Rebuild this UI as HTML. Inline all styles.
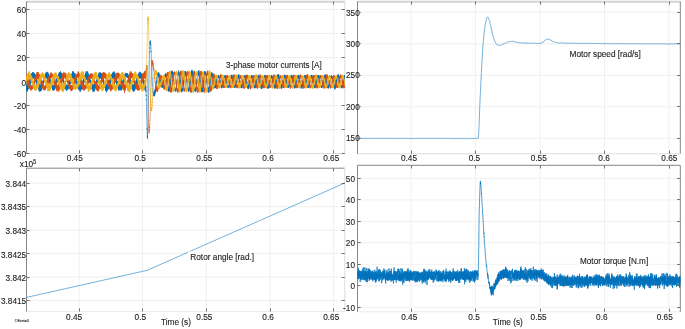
<!DOCTYPE html>
<html lang="en">
<head>
<meta charset="utf-8">
<title>Motor simulation scopes</title>
<style>
html,body{margin:0;padding:0;background:#ffffff;}
body{width:685px;height:329px;overflow:hidden;font-family:"Liberation Sans",Arial,Helvetica,sans-serif;}
svg{display:block;}
</style>
</head>
<body>
<svg width="685" height="329" viewBox="0 0 685 329">
<rect x="0" y="0" width="685" height="329" fill="#ffffff"/>
<defs>
<clipPath id="ctl"><rect x="26.5" y="1.5" width="318.3" height="152.0"/></clipPath>
<clipPath id="ctr"><rect x="357.5" y="1.5" width="322.8" height="152.3"/></clipPath>
<clipPath id="cbl"><rect x="26.5" y="168.2" width="318.3" height="143.3"/></clipPath>
<clipPath id="cbr"><rect x="357.5" y="165.3" width="322.8" height="146.5"/></clipPath>
</defs>
<g font-family="'Liberation Sans', Arial, Helvetica, sans-serif">
<line x1="79.0" y1="1.5" x2="79.0" y2="153.5" stroke="#eeeeee" stroke-width="0.90"/>
<line x1="142.6" y1="1.5" x2="142.6" y2="153.5" stroke="#eeeeee" stroke-width="0.90"/>
<line x1="206.3" y1="1.5" x2="206.3" y2="153.5" stroke="#eeeeee" stroke-width="0.90"/>
<line x1="269.9" y1="1.5" x2="269.9" y2="153.5" stroke="#eeeeee" stroke-width="0.90"/>
<line x1="333.6" y1="1.5" x2="333.6" y2="153.5" stroke="#eeeeee" stroke-width="0.90"/>
<line x1="26.5" y1="9.5" x2="344.8" y2="9.5" stroke="#eeeeee" stroke-width="0.90"/>
<line x1="26.5" y1="33.5" x2="344.8" y2="33.5" stroke="#eeeeee" stroke-width="0.90"/>
<line x1="26.5" y1="57.6" x2="344.8" y2="57.6" stroke="#eeeeee" stroke-width="0.90"/>
<line x1="26.5" y1="81.6" x2="344.8" y2="81.6" stroke="#eeeeee" stroke-width="0.90"/>
<line x1="26.5" y1="105.6" x2="344.8" y2="105.6" stroke="#eeeeee" stroke-width="0.90"/>
<line x1="26.5" y1="129.7" x2="344.8" y2="129.7" stroke="#eeeeee" stroke-width="0.90"/>
<line x1="26.5" y1="1.7" x2="344.8" y2="1.7" stroke="#d2d2d2" stroke-width="2.00"/>
<line x1="26.5" y1="153.5" x2="344.8" y2="153.5" stroke="#dcdcdc" stroke-width="1.00"/>
<line x1="344.8" y1="1.5" x2="344.8" y2="153.5" stroke="#dcdcdc" stroke-width="1.00"/>
<line x1="26.5" y1="1.5" x2="26.5" y2="153.5" stroke="#868686" stroke-width="1.00"/>
<line x1="79.5" y1="150.3" x2="79.5" y2="153.5" stroke="#747474" stroke-width="1.00"/>
<line x1="79.5" y1="1.5" x2="79.5" y2="4.7" stroke="#747474" stroke-width="1.00"/>
<line x1="142.5" y1="150.3" x2="142.5" y2="153.5" stroke="#747474" stroke-width="1.00"/>
<line x1="142.5" y1="1.5" x2="142.5" y2="4.7" stroke="#747474" stroke-width="1.00"/>
<line x1="206.5" y1="150.3" x2="206.5" y2="153.5" stroke="#747474" stroke-width="1.00"/>
<line x1="206.5" y1="1.5" x2="206.5" y2="4.7" stroke="#747474" stroke-width="1.00"/>
<line x1="270.5" y1="150.3" x2="270.5" y2="153.5" stroke="#747474" stroke-width="1.00"/>
<line x1="270.5" y1="1.5" x2="270.5" y2="4.7" stroke="#747474" stroke-width="1.00"/>
<line x1="333.5" y1="150.3" x2="333.5" y2="153.5" stroke="#747474" stroke-width="1.00"/>
<line x1="333.5" y1="1.5" x2="333.5" y2="4.7" stroke="#747474" stroke-width="1.00"/>
<line x1="26.5" y1="9.5" x2="29.7" y2="9.5" stroke="#747474" stroke-width="1.00"/>
<line x1="341.6" y1="9.5" x2="344.8" y2="9.5" stroke="#747474" stroke-width="1.00"/>
<line x1="26.5" y1="33.5" x2="29.7" y2="33.5" stroke="#747474" stroke-width="1.00"/>
<line x1="341.6" y1="33.5" x2="344.8" y2="33.5" stroke="#747474" stroke-width="1.00"/>
<line x1="26.5" y1="57.5" x2="29.7" y2="57.5" stroke="#747474" stroke-width="1.00"/>
<line x1="341.6" y1="57.5" x2="344.8" y2="57.5" stroke="#747474" stroke-width="1.00"/>
<line x1="26.5" y1="81.5" x2="29.7" y2="81.5" stroke="#747474" stroke-width="1.00"/>
<line x1="341.6" y1="81.5" x2="344.8" y2="81.5" stroke="#747474" stroke-width="1.00"/>
<line x1="26.5" y1="105.5" x2="29.7" y2="105.5" stroke="#747474" stroke-width="1.00"/>
<line x1="341.6" y1="105.5" x2="344.8" y2="105.5" stroke="#747474" stroke-width="1.00"/>
<line x1="26.5" y1="129.5" x2="29.7" y2="129.5" stroke="#747474" stroke-width="1.00"/>
<line x1="341.6" y1="129.5" x2="344.8" y2="129.5" stroke="#747474" stroke-width="1.00"/>
<line x1="26.5" y1="153.5" x2="29.7" y2="153.5" stroke="#747474" stroke-width="1.00"/>
<line x1="341.6" y1="153.5" x2="344.8" y2="153.5" stroke="#747474" stroke-width="1.00"/>
<g clip-path="url(#ctl)" fill="none" stroke-linejoin="round" stroke-width="0.55">
<path d="M26.1 85.4L26.2 91L26.3 86L26.4 90.9L26.5 85.4L26.6 90.9L26.7 85.7L26.7 90.8L26.8 83.8L26.9 91.7L27 84.1L27.1 91.4L27.2 84.8L27.3 90.6L27.4 84.9L27.5 89.9L27.5 85L27.6 90.4L27.7 85.3L27.8 89.3L27.9 85.1L28 89.6L28.1 85.5L28.2 88.9L28.2 85.7L28.3 88.1L28.4 83L28.5 87.8L28.6 84L28.7 86.4L28.8 84.1L28.9 86.8L29 82.3L29 85.8L29.1 82.6L29.2 86.3L29.3 82L29.4 85.1L29.5 80.5L29.6 84.7L29.7 81.1L29.8 87.1L29.8 79.8L29.9 84.5L30 79L30.1 86.2L30.2 79L30.3 83.8L30.4 79L30.5 83.2L30.6 77.8L30.6 81.3L30.7 78.2L30.8 80.8L30.9 78.5L31 79.4L31.1 76.5L31.2 80.2L31.3 77.2L31.4 81L31.4 75.2L31.5 80.4L31.6 73.7L31.7 79.9L31.8 73.3L31.9 80L32 73.5L32.1 80.4L32.2 74.4L32.2 77.8L32.3 73.2L32.4 79.3L32.5 72.2L32.6 79L32.7 73L32.8 79.1L32.9 72.7L32.9 76.9L33 72.5L33.1 77.3L33.2 72.6L33.3 78.6L33.4 73.2L33.5 77.6L33.6 73.3L33.7 76.9L33.7 72.3L33.8 78.2L33.9 73L34 77.3L34.1 73.9L34.2 77.5L34.3 74.5L34.4 77.1L34.5 73.7L34.5 77.7L34.6 74.2L34.7 77.9L34.8 74.9L34.9 79.5L35 74.8L35.1 79.1L35.2 75.5L35.3 79.1L35.3 75.9L35.4 80.4L35.5 77.5L35.6 79.9L35.7 76.4L35.8 80.5L35.9 77.2L36 80.5L36.1 77L36.1 81.5L36.2 79L36.3 82.9L36.4 79L36.5 82.9L36.6 78.9L36.7 83.6L36.8 79.8L36.9 83.6L36.9 79.7L37 84.5L37.1 80.6L37.2 86L37.3 81.7L37.4 85.1L37.5 81.4L37.6 85.7L37.6 82.1L37.7 85.8L37.8 82.4L37.9 86.9L38 83.1L38.1 88L38.2 82.6L38.3 87.3L38.4 82L38.4 88.9L38.5 82.8L38.6 90L38.7 82.4L38.8 89.9L38.9 84.2L39 90.3L39.1 83.4L39.2 89.7L39.2 84L39.3 92L39.4 84.5L39.5 88.9L39.6 84.6L39.7 90.6L39.8 84.7L39.9 89.8L40 86.2L40 89.8L40.1 85.6L40.2 89.4L40.3 84.7L40.4 91.1L40.5 85.5L40.6 91.3L40.7 86.3L40.8 91L40.8 85L40.9 89.8L41 84.5L41.1 89.3L41.2 82L41.3 90.9L41.4 83.1L41.5 89L41.5 84.1L41.6 88.9L41.7 83.3L41.8 87.5L41.9 82L42 87.4L42.1 84L42.2 85.8L42.3 84.6L42.3 87.2L42.4 82.9L42.5 86.5L42.6 82.1L42.7 85.6L42.8 81L42.9 84L43 80.7L43.1 84.7L43.1 80.6L43.2 83.7L43.3 81.1L43.4 84L43.5 78.6L43.6 83.4L43.7 77.1L43.8 82.7L43.9 78.8L43.9 81.6L44 78.8L44.1 80.7L44.2 78.4L44.3 80L44.4 77.1L44.5 79.1L44.6 77.1L44.7 80.2L44.7 75.7L44.8 78.9L44.9 76L45 78.4L45.1 75.8L45.2 76.9L45.3 75.3L45.4 77.2L45.5 76.1L45.5 77.1L45.6 74.2L45.7 77.6L45.8 73.8L45.9 77.2L46 72.3L46.1 78.3L46.2 73.2L46.2 77.5L46.3 72.4L46.4 78.2L46.5 73.4L46.6 77.4L46.7 72.4L46.8 77L46.9 73.5L47 77.7L47 73.7L47.1 78.2L47.2 72.6L47.3 78.9L47.4 71.8L47.5 80.1L47.6 73.8L47.7 80.2L47.8 72.6L47.8 78.9L47.9 74L48 80L48.1 72.8L48.2 79.2L48.3 74.4L48.4 79.9L48.5 73.5L48.6 81.6L48.6 75.2L48.7 79.1L48.8 75.5L48.9 80.4L49 76.4L49.1 80.2L49.2 76.4L49.3 81.3L49.4 76.7L49.4 81.4L49.5 76.7L49.6 82.2L49.7 78.6L49.8 83.8L49.9 78.4L50 81.9L50.1 79.3L50.2 84.2L50.2 78.6L50.3 85.2L50.4 80.5L50.5 85.1L50.6 80.8L50.7 85.4L50.8 81.5L50.9 85.9L50.9 82.9L51 86.9L51.1 83.2L51.2 86.2L51.3 83.2L51.4 87L51.5 84.5L51.6 86.5L51.7 85L51.7 86.5L51.8 84.8L51.9 87.5L52 86.4L52.1 87.6L52.2 85.1L52.3 88L52.4 86.7L52.5 89.5L52.5 86.8L52.6 90L52.7 85L52.8 89.8L52.9 85.5L53 89.6L53.1 84.9L53.2 90.6L53.3 85.6L53.3 90.6L53.4 86.2L53.5 90L53.6 85L53.7 90.5L53.8 86.2L53.9 89.7L54 86.5L54.1 88.7L54.1 86L54.2 89.8L54.3 87.8L54.4 89.6L54.5 86.1L54.6 89.4L54.7 84.9L54.8 87.9L54.9 85.3L54.9 88.3L55 84.8L55.1 88L55.2 84.3L55.3 88L55.4 84.5L55.5 87L55.6 84.7L55.6 85.4L55.7 84L55.8 86.7L55.9 83L56 85.3L56.1 81.8L56.2 86L56.3 80.5L56.4 85.7L56.4 79.3L56.5 84.9L56.6 79.5L56.7 83.4L56.8 77.8L56.9 83.3L57 79.1L57.1 82L57.2 79.2L57.2 81.8L57.3 79.4L57.4 80.8L57.5 78.1L57.6 80.6L57.7 77.7L57.8 79.6L57.9 76.5L58 80.7L58 76.6L58.1 79.1L58.2 75.4L58.3 80L58.4 75.6L58.5 79.6L58.6 74.7L58.7 79.4L58.8 73.2L58.8 80L58.9 74L59 79.7L59.1 74L59.2 78.6L59.3 72.8L59.4 78.6L59.5 72.2L59.6 77.9L59.6 72.8L59.7 78.6L59.8 73.6L59.9 78.8L60 72L60.1 77.3L60.2 71.9L60.3 77L60.3 72.9L60.4 77.8L60.5 71.2L60.6 77.6L60.7 72L60.8 78.4L60.9 73.8L61 78.4L61.1 72.7L61.1 78.3L61.2 73.4L61.3 79.8L61.4 73L61.5 78.8L61.6 73L61.7 79.7L61.8 74L61.9 80.3L61.9 74.1L62 80.2L62.1 74.4L62.2 80.4L62.3 75.1L62.4 80.4L62.5 76.9L62.6 80.4L62.7 77.8L62.7 81.1L62.8 78.8L62.9 81.4L63 79L63.1 82L63.2 78.7L63.3 82.3L63.4 80L63.5 84.3L63.5 80.3L63.6 85.3L63.7 80.2L63.8 84.4L63.9 81.3L64 85.1L64.1 81.2L64.2 86.6L64.3 82.7L64.3 87.1L64.4 81.9L64.5 87.2L64.6 81.5L64.7 87.4L64.8 83.1L64.9 88.6L65 84L65 88.8L65.1 82.7L65.2 89L65.3 83.3L65.4 89.1L65.5 83.8L65.6 88.9L65.7 84.4L65.8 88.8L65.8 85.2L65.9 89L66 85.9L66.1 89.8L66.2 84L66.3 90.2L66.4 86.1L66.5 90.6L66.6 86.1L66.6 90.1L66.7 86.4L66.8 91.1L66.9 85.4L67 89.8L67.1 85.5L67.2 88.8L67.3 85.9L67.4 89.1L67.4 86.8L67.5 88.1L67.6 86.7L67.7 88.7L67.8 85.5L67.9 88.5L68 85.4L68.1 87.8L68.2 84.3L68.2 88.6L68.3 84.8L68.4 89.3L68.5 83.5L68.6 88.3L68.7 83.4L68.8 86.8L68.9 84.2L69 86.5L69 84L69.1 85.9L69.2 82L69.3 85.2L69.4 83.4L69.5 85.7L69.6 81.5L69.7 84.2L69.7 80.9L69.8 84.9L69.9 80.3L70 83.7L70.1 79.9L70.2 82.5L70.3 79.1L70.4 83.4L70.5 77.6L70.5 83.9L70.6 78L70.7 82.4L70.8 77.4L70.9 83.7L71 77.5L71.1 80.9L71.2 74.9L71.3 80.7L71.3 75L71.4 81L71.5 76.1L71.6 78.7L71.7 74.6L71.8 79.8L71.9 75L72 79L72.1 73.2L72.1 79.1L72.2 73.7L72.3 77.4L72.4 73L72.5 78L72.6 71.2L72.7 79.3L72.8 71.8L72.9 79.2L72.9 72.7L73 77.5L73.1 71.1L73.2 77.5L73.3 73.4L73.4 76.5L73.5 72.2L73.6 78.1L73.7 72.3L73.7 78.3L73.8 73.1L73.9 77.8L74 72.9L74.1 79.8L74.2 73.1L74.3 78.2L74.4 73.7L74.4 79.2L74.5 73.9L74.6 79.7L74.7 73.6L74.8 77.4L74.9 73.2L75 78.3L75.1 74.9L75.2 79.4L75.2 75.5L75.3 80.6L75.4 75.3L75.5 80L75.6 75.8L75.7 81.6L75.8 77.8L75.9 80.6L76 78.4L76 82.1L76.1 78.2L76.2 82L76.3 78.7L76.4 81.5L76.5 79.4L76.6 82.8L76.7 79.2L76.8 82.8L76.8 81.1L76.9 84.1L77 81.1L77.1 85.6L77.2 81L77.3 85.6L77.4 81.3L77.5 85.1L77.6 82.8L77.6 85.5L77.7 81.3L77.8 85.9L77.9 82.5L78 86.5L78.1 84.8L78.2 87.6L78.3 83.5L78.4 86.8L78.4 84.5L78.5 88.8L78.6 83.9L78.7 90L78.8 84.6L78.9 87.7L79 83.6L79.1 88.7L79.1 84.3L79.2 89.7L79.3 86.4L79.4 90.3L79.5 86.1L79.6 89.3L79.7 85.3L79.8 89.1L79.9 86.3L79.9 91.5L80 84.2L80.1 90.3L80.2 86L80.3 91.9L80.4 84.8L80.5 90L80.6 85.1L80.7 90.4L80.7 85.1L80.8 89.1L80.9 85.1L81 88.2L81.1 85.8L81.2 89L81.3 85.2L81.4 89.8L81.5 85L81.5 87.9L81.6 83.6L81.7 88.8L81.8 83.5L81.9 90L82 82.9L82.1 87.1L82.2 82.9L82.3 88.5L82.3 82.7L82.4 85.5L82.5 81.9L82.6 85.1L82.7 83.2L82.8 86.1L82.9 81.5L83 85.1L83 80.4L83.1 85L83.2 80.5L83.3 84.7L83.4 77.5L83.5 84.7L83.6 79.6L83.7 83.4L83.8 77.1L83.8 82.9L83.9 76.5L84 81.3L84.1 76.8L84.2 81.3L84.3 77.4L84.4 82.3L84.5 76.2L84.6 80.5L84.6 75.2L84.7 80.7L84.8 75L84.9 79.8L85 75.7L85.1 78.3L85.2 76.2L85.3 78.2L85.4 74.5L85.4 79L85.5 73.2L85.6 78.4L85.7 73.7L85.8 79.8L85.9 74.1L86 79.5L86.1 72.8L86.2 79.7L86.2 71.1L86.3 79L86.4 71.8L86.5 79.7L86.6 72.1L86.7 78.8L86.8 73.1L86.9 79.2L87 72.1L87 78.6L87.1 72.3L87.2 79.9L87.3 71L87.4 79.4L87.5 72.4L87.6 78.4L87.7 73.7L87.7 78.8L87.8 71.9L87.9 78.2L88 73.1L88.1 79.4L88.2 74.6L88.3 79.3L88.4 74.4L88.5 80L88.5 74.7L88.6 80L88.7 75.6L88.8 78.8L88.9 77L89 80.9L89.1 76.6L89.2 80L89.3 78.2L89.3 80.7L89.4 79.1L89.5 82.1L89.6 78.4L89.7 82.1L89.8 79.6L89.9 82.3L90 79.9L90.1 83.2L90.1 79.4L90.2 84L90.3 79.7L90.4 85.1L90.5 80.5L90.6 85.6L90.7 79.8L90.8 86L90.9 80.8L90.9 86.9L91 81.2L91.1 86.1L91.2 82.7L91.3 87L91.4 81.9L91.5 88.1L91.6 83.1L91.7 89L91.7 83.7L91.8 87.5L91.9 82.7L92 88L92.1 84.5L92.2 89.2L92.3 85.3L92.4 89.5L92.4 86.2L92.5 89.2L92.6 86L92.7 89.6L92.8 84.9L92.9 90.5L93 85.2L93.1 92.2L93.2 85.1L93.2 90.8L93.3 84.1L93.4 90.8L93.5 84.2L93.6 90.8L93.7 85.6L93.8 91.9L93.9 85.5L94 90.1L94 84.3L94.1 90.5L94.2 85.8L94.3 89.6L94.4 84.5L94.5 91.2L94.6 84.3L94.7 89L94.8 84.3L94.8 90L94.9 83.9L95 88.2L95.1 82.7L95.2 87.5L95.3 83.8L95.4 87.9L95.5 82.3L95.6 87L95.6 83.9L95.7 86.5L95.8 83.2L95.9 87.1L96 83.1L96.1 86.4L96.2 81.3L96.3 85.6L96.4 80.9L96.4 84.2L96.5 80.8L96.6 85.1L96.7 80L96.8 84.1L96.9 81L97 82.6L97.1 79L97.1 82L97.2 78.4L97.3 82.5L97.4 78.8L97.5 80.2L97.6 78.4L97.7 81L97.8 78.1L97.9 80L97.9 76.6L98 79.5L98.1 76.5L98.2 80.2L98.3 75.3L98.4 79.6L98.5 75.4L98.6 79L98.7 74.5L98.7 79.7L98.8 73.3L98.9 79.5L99 73.8L99.1 79.1L99.2 72.1L99.3 78.1L99.4 72.9L99.5 78.1L99.5 73.4L99.6 76.8L99.7 73.2L99.8 78.4L99.9 73.5L100 76.9L100.1 73.2L100.2 78.2L100.3 72.2L100.3 78.8L100.4 73.1L100.5 76.9L100.6 73.3L100.7 76.8L100.8 73.3L100.9 77.3L101 73.9L101.1 78L101.1 74.8L101.2 76.7L101.3 73.2L101.4 78.6L101.5 74.4L101.6 78.9L101.7 73.8L101.8 79.1L101.8 73.5L101.9 81.4L102 74.1L102.1 80.7L102.2 75.9L102.3 80.3L102.4 77.4L102.5 80.7L102.6 76.6L102.6 81L102.7 77.6L102.8 81L102.9 78L103 81.5L103.1 78.4L103.2 82.5L103.3 78.7L103.4 83L103.4 80L103.5 83.4L103.6 80L103.7 82.9L103.8 82.1L103.9 84.4L104 81.4L104.1 85.2L104.2 82.6L104.2 83.9L104.3 82.1L104.4 86.3L104.5 82.9L104.6 85.6L104.7 83.2L104.8 86.3L104.9 84.2L105 87.5L105 84.8L105.1 87.5L105.2 85L105.3 87.8L105.4 84.7L105.5 90.7L105.6 84.5L105.7 90.2L105.8 84.4L105.8 90.9L105.9 85L106 90.1L106.1 84.5L106.2 89.9L106.3 85.7L106.4 92L106.5 83.8L106.5 92.3L106.6 86L106.7 90.6L106.8 86.2L106.9 90.3L107 85.5L107.1 90.7L107.2 84.5L107.3 89.8L107.3 85.4L107.4 90.3L107.5 85.6L107.6 89.1L107.7 85.5L107.8 89.5L107.9 85.2L108 89.4L108.1 85L108.1 88.5L108.2 84L108.3 88.8L108.4 83.4L108.5 88.7L108.6 83.9L108.7 87.3L108.8 82.2L108.9 87.7L108.9 81.7L109 87.5L109.1 81.1L109.2 86.9L109.3 80.1L109.4 86.7L109.5 80.8L109.6 85.8L109.7 83.2L109.7 85.6L109.8 80.7L109.9 83.6L110 80.8L110.1 83.2L110.2 78.1L110.3 83.3L110.4 78.4L110.5 82.1L110.5 78.2L110.6 83.5L110.7 77.1L110.8 81.9L110.9 77L111 81L111.1 76.8L111.2 80.2L111.2 75L111.3 80.8L111.4 75.1L111.5 81.2L111.6 75.5L111.7 79.4L111.8 75L111.9 77.4L112 74.2L112 79.3L112.1 74.2L112.2 77.6L112.3 73.9L112.4 78.6L112.5 73.5L112.6 77.8L112.7 72.6L112.8 78.1L112.8 72.9L112.9 76.8L113 72.9L113.1 79.4L113.2 72.8L113.3 77.8L113.4 73L113.5 77L113.6 71.8L113.6 77.5L113.7 72.1L113.8 77.7L113.9 71.3L114 79L114.1 72.5L114.2 77.2L114.3 72.7L114.4 80.4L114.4 73.2L114.5 78.7L114.6 73.1L114.7 78.5L114.8 72.7L114.9 80.1L115 73.1L115.1 79.7L115.2 74.7L115.2 78.9L115.3 75.3L115.4 79.8L115.5 76.7L115.6 80L115.7 76.8L115.8 81.2L115.9 75.8L115.9 81.8L116 77L116.1 82.3L116.2 77.5L116.3 83.5L116.4 77.6L116.5 83.8L116.6 77.4L116.7 84.2L116.7 78.7L116.8 85.1L116.9 81.3L117 83.1L117.1 81.9L117.2 84.4L117.3 81.1L117.4 85.2L117.5 81.5L117.5 87.5L117.6 82.1L117.7 87.6L117.8 81.7L117.9 87L118 82.6L118.1 86.8L118.2 83.2L118.3 89.4L118.3 83.4L118.4 87.9L118.5 83.8L118.6 90.5L118.7 84.7L118.8 90.9L118.9 83L119 89.8L119.1 84.1L119.1 89.1L119.2 87.2L119.3 88.4L119.4 86.4L119.5 89.1L119.6 85.1L119.7 89.5L119.8 85.2L119.8 89.8L119.9 87L120 89.6L120.1 86.8L120.2 88.7L120.3 84.9L120.4 89.8L120.5 85.7L120.6 89.3L120.6 85.2L120.7 89.7L120.8 85.8L120.9 90.3L121 85.4L121.1 90.7L121.2 84.2L121.3 90.1L121.4 84.8L121.4 89.4L121.5 83.7L121.6 88.8L121.7 84.9L121.8 86.5L121.9 84.7L122 87.4L122.1 84.2L122.2 86L122.2 83L122.3 86.3L122.4 81.7L122.5 86.5L122.6 82.1L122.7 86.5L122.8 81.2L122.9 85.6L123 80.2L123 85.7L123.1 80.6L123.2 84.7L123.3 78.9L123.4 85.8L123.5 78.7L123.6 84.9L123.7 78.9L123.8 83L123.8 78.2L123.9 82.8L124 76.6L124.1 82.6L124.2 77.6L124.3 80.8L124.4 77.4L124.5 80.5L124.5 75.6L124.6 81L124.7 75.6L124.8 80.2L124.9 74.7L125 79.8L125.1 74.5L125.2 78.7L125.3 74.4L125.3 79L125.4 72.8L125.5 78.2L125.6 73.1L125.7 77.9L125.8 73.9L125.9 77.4L126 74.2L126.1 75.5L126.1 73.7L126.2 77.2L126.3 73.5L126.4 76.3L126.5 73.4L126.6 76.9L126.7 73.1L126.8 76.2L126.9 74.3L126.9 76.7L127 74.3L127.1 76.5L127.2 73.1L127.3 76.6L127.4 74.3L127.5 77.4L127.6 73.4L127.7 78.2L127.7 74.7L127.8 77.2L127.9 75.1L128 77.5L128.1 74.7L128.2 77.6L128.3 75.8L128.4 78.6L128.5 75.6L128.5 79.1L128.6 76L128.7 78.9L128.8 74.9L128.9 79L129 76.8L129.1 81.2L129.2 75.6L129.2 81.9L129.3 76.3L129.4 81.8L129.5 77.5L129.6 82.7L129.7 77.4L129.8 83.9L129.9 77.6L130 85.2L130 78.5L130.1 84.4L130.2 79.3L130.3 85.2L130.4 79.8L130.5 85.2L130.6 81.1L130.7 86.4L130.8 80.6L130.8 86.5L130.9 81.6L131 85.1L131.1 82.5L131.2 86.4L131.3 84.1L131.4 86.6L131.5 83.7L131.6 87.6L131.6 83.8L131.7 87.3L131.8 83.3L131.9 88.2L132 85.3L132.1 88.4L132.2 85.2L132.3 89.8L132.4 84.3L132.4 89.3L132.5 85.4L132.6 90L132.7 85.1L132.8 90L132.9 85.7L133 90.7L133.1 85.8L133.2 90L133.2 85.7L133.3 91.8L133.4 85.9L133.5 91.2L133.6 85.1L133.7 90.4L133.8 85.1L133.9 90.5L133.9 84.4L134 90.1L134.1 83.7L134.2 91.3L134.3 83.7L134.4 91.1L134.5 83.4L134.6 89.3L134.7 84L134.7 90.2L134.8 84.5L134.9 89.6L135 83.9L135.1 88.6L135.2 83.8L135.3 88.5L135.4 82.4L135.5 87.8L135.5 82.9L135.6 87.6L135.7 83.1L135.8 86.6L135.9 81.7L136 85.7L136.1 81.4L136.2 85.8L136.3 80L136.3 84.5L136.4 80.3L136.5 85.3L136.6 79.1L136.7 85.4L136.8 78L136.9 84.6L137 79.1L137.1 84.9L137.1 78L137.2 83.2L137.3 78.1L137.4 81.5L137.5 75.6L137.6 81.1L137.7 76.3L137.8 80.8L137.9 74.5L137.9 80.4L138 75.5L138.1 80.9L138.2 75.2L138.3 79.6L138.4 74.6L138.5 79.8L138.6 74.1L138.6 78.3L138.7 75.5L138.8 78.3L138.9 72.5L139 78.1L139.1 74.1L139.2 77.9L139.3 73.5L139.4 78.1L139.4 73.7L139.5 77.8L139.6 74L139.7 77L139.8 72.5L139.9 77.8L140 71.7L140.1 77.7L140.2 71.9L140.2 78.9L140.3 73.5L140.4 77.9L140.5 72.9L140.6 78.1L140.7 72.5L140.8 77.1L140.9 73.8L141 78.4L141 74.3L141.1 77.8L141.2 74L141.3 78.9L141.4 74.7L141.5 79.3L141.6 74.1L141.7 80.2L141.8 73.2L141.8 79L141.9 75.1L142 79.6L142.1 74.5L142.2 80.2L142.3 75.2L142.4 80.3L142.5 77.4L142.6 80.4L142.6 78.4L142.7 80.2L142.8 78.4L142.9 80.8L143 78.2L143.1 83.4L143.2 78.3L143.3 83.2L143.3 79.3L143.4 83.8L143.5 79.6L143.6 82.9L143.7 81L143.8 84.4L143.9 80.2L144 86.6L144.1 80L144.1 85.5L144.2 81.6L144.3 86.5L144.4 80.2L144.5 87.8L144.6 83.4L144.7 87.6L144.8 81.9L144.9 88.7L144.9 82.8L145 90.5L145.1 82.7L145.2 89.6L145.3 85L145.4 90.2L145.5 85.2L145.6 88.6L145.7 84.6L145.7 89.6L145.8 86.3L145.9 92L146 90L146.1 96L146.2 94.8L146.3 100L146.4 99.1L146.5 104.6L146.5 104.7L146.6 112.7L146.7 113.8L146.8 121L146.9 122.1L147 129.6L147.1 128.4L147.2 132.9L147.3 132.5L147.3 137.2L147.4 135.4L147.5 139.1L147.6 132.8L147.7 133.6L147.8 127.6L147.9 127.5L148 121L148 120.6L148.1 114.6L148.2 113.7L148.3 105.3L148.4 103.7L148.5 95.7L148.6 93.5L148.7 85.8L148.8 84.6L148.8 78.5L148.9 75.8L149 70.3L149.1 69.5L149.2 62.5L149.3 62.9L149.4 56L149.5 56.5L149.6 51.4L149.6 52.8L149.7 47L149.8 49.1L149.9 42.8L150 44.8L150.1 41.7L150.2 43.9L150.3 40.4L150.4 43.1L150.4 41L150.5 43L150.6 42L150.7 45.2L150.8 44.2L150.9 48L151 48L151.1 52L151.2 51.1L151.2 55.3L151.3 56.6L151.4 61.2L151.5 60.7L151.6 65.6L151.7 65.2L151.8 69.6L151.9 69.6L152 74.5L152 74.9L152.1 78.6L152.2 78L152.3 82.3L152.4 82.6L152.5 85.5L152.6 85.3L152.7 88.4L152.7 88.3L152.8 90.3L152.9 89.9L153 92.2L153.1 91.3L153.2 93.3L153.3 92.5L153.4 94.6L153.5 93.4L153.5 95.4L153.6 93.7L153.7 95.5L153.8 94L153.9 95.7L154 94.1L154.1 95.8L154.2 93.4L154.3 96.4L154.3 93.1L154.4 95.6L154.5 91.8L154.6 95.6L154.7 91.2L154.8 94.3L154.9 90.6L155 93.4L155.1 90.3L155.1 93.3L155.2 88.7L155.3 92.7L155.4 88.7L155.5 91.4L155.6 86.8L155.7 89.8L155.8 86.6L155.9 89.2L155.9 85.6L156 87.2L156.1 84.8L156.2 85.1L156.3 83.2L156.4 84.1L156.5 81.4L156.6 83.4L156.7 80.2L156.7 82.7L156.8 79.4L156.9 80.7L157 77.2L157.1 78.6L157.2 76.4L157.3 78.5L157.4 75.9L157.4 77.5L157.5 74.3L157.6 77L157.7 73.6L157.8 75.8L157.9 73.6L158 75.5L158.1 72.7L158.2 75.7L158.2 72.8L158.3 75.4L158.4 72.4L158.5 75.2L158.6 73.1L158.7 76L158.8 72.5L158.9 77.1L159 74.3L159 78.2L159.1 73.5L159.2 77.9L159.3 74.6L159.4 78.5L159.5 76.2L159.6 80.1L159.7 76.5L159.8 80.8L159.8 77.6L159.9 81.3L160 79.3L160.1 81.6L160.2 79.8L160.3 82.9L160.4 80.5L160.5 84.9L160.6 81.2L160.6 85.4L160.7 81.1L160.8 86.3L160.9 82.7L161 86.2L161.1 81.8L161.2 86.1L161.3 83.6L161.3 86.6L161.4 83.6L161.5 87L161.6 83.9L161.7 87L161.8 84.2L161.9 87.4L162 84L162.1 87.4L162.1 84.5L162.2 87.4L162.3 84L162.4 87.5L162.5 83.8L162.6 88L162.7 83L162.8 86.5L162.9 83L162.9 86.6L163 83.3L163.1 86.5L163.2 82.5L163.3 85.4L163.4 81.3L163.5 84.3L163.6 80.3L163.7 84.5L163.7 81L163.8 82.2L163.9 80L164 81.6L164.1 79.2L164.2 80.5L164.3 78.6L164.4 79.8L164.5 77.5L164.5 78.8L164.6 76.9L164.7 77L164.8 76L164.9 77.3L165 75L165.1 76.5L165.2 74.2L165.3 76L165.3 74.3L165.4 75.9L165.5 73.2L165.6 76.1L165.7 73.4L165.8 77.2L165.9 73.9L166 76.5L166 74.5L166.1 77.5L166.2 74.1L166.3 77.7L166.4 74.2L166.5 79.2L166.6 76.2L166.7 79.6L166.8 77.8L166.8 82L166.9 78.2L167 82.1L167.1 79.3L167.2 85.2L167.3 80.6L167.4 85.2L167.5 82.6L167.6 87.1L167.6 82.9L167.7 87.5L167.8 85.4L167.9 89L168 85.5L168.1 90.4L168.2 86.8L168.3 90.5L168.4 87.6L168.4 91.7L168.5 88.8L168.6 91L168.7 89.5L168.8 91.2L168.9 89.1L169 91.7L169.1 89.4L169.2 90.7L169.2 88L169.3 91.2L169.4 87.1L169.5 90.6L169.6 86.5L169.7 89.5L169.8 84.7L169.9 87.9L170 83.6L170 86.9L170.1 83.1L170.2 85.2L170.3 80.8L170.4 84L170.5 79L170.6 82.9L170.7 79L170.7 81.4L170.8 76.3L170.9 79.8L171 75.7L171.1 78.8L171.2 74L171.3 77.6L171.4 74L171.5 76.7L171.5 71.4L171.6 75.5L171.7 72.1L171.8 74.4L171.9 72.1L172 73.7L172.1 70.8L172.2 74.2L172.3 70.5L172.3 74.3L172.4 72.1L172.5 73.8L172.6 71.8L172.7 75.9L172.8 72.2L172.9 78L173 73.2L173.1 77.7L173.1 75L173.2 79.2L173.3 76.4L173.4 79.9L173.5 78.1L173.6 81L173.7 80L173.8 81.6L173.9 81.7L173.9 83.7L174 82.8L174.1 84.8L174.2 84.1L174.3 86.1L174.4 85.8L174.5 87.6L174.6 86.7L174.7 88.6L174.7 87.6L174.8 89.8L174.9 89.5L175 89.7L175.1 88.9L175.2 91L175.3 89.7L175.4 91.5L175.4 89.9L175.5 91.3L175.6 89.5L175.7 91.5L175.8 89.5L175.9 90.7L176 88.1L176.1 90.4L176.2 87.7L176.2 89.8L176.3 86.8L176.4 88.3L176.5 85.5L176.6 87L176.7 83.6L176.8 85.7L176.9 82.6L177 84L177 80.7L177.1 82.4L177.2 80.1L177.3 81.1L177.4 78.1L177.5 79.1L177.6 77.1L177.7 77.9L177.8 74.9L177.8 76.6L177.9 73.7L178 75.6L178.1 72.9L178.2 74.9L178.3 71.7L178.4 74.4L178.5 71.5L178.6 74.3L178.6 70.3L178.7 73.9L178.8 71.9L178.9 73.8L179 72.1L179.1 74.3L179.2 72.8L179.3 75.4L179.4 73.3L179.4 75.8L179.5 74.1L179.6 76.8L179.7 74.7L179.8 77.5L179.9 76.1L180 79.4L180.1 77.6L180.1 81.4L180.2 78.9L180.3 83L180.4 80.2L180.5 83.7L180.6 81.8L180.7 85.1L180.8 83.5L180.9 86.6L180.9 85.3L181 88.6L181.1 86L181.2 88.7L181.3 87.2L181.4 90.4L181.5 88.2L181.6 91.1L181.7 88.2L181.7 91.8L181.8 88.4L181.9 92.3L182 88.6L182.1 91.5L182.2 88.9L182.3 91.3L182.4 89.3L182.5 90.6L182.5 88.6L182.6 90.1L182.7 88L182.8 89.5L182.9 87.4L183 88.6L183.1 85.5L183.2 86.9L183.3 83.8L183.3 86L183.4 82.8L183.5 85.3L183.6 81L183.7 83.7L183.8 80L183.9 83L184 77.6L184.1 81.2L184.1 75.3L184.2 79.2L184.3 73.5L184.4 78.3L184.5 73.7L184.6 76.5L184.7 72.5L184.8 75.8L184.8 71.8L184.9 75.2L185 71L185.1 74.1L185.2 71.2L185.3 73.9L185.4 71.2L185.5 74.6L185.6 71.2L185.6 74.4L185.7 71.8L185.8 75L185.9 72L186 76.5L186.1 74L186.2 76.9L186.3 73.7L186.4 77.5L186.4 75L186.5 79.7L186.6 76L186.7 80.6L186.8 78.6L186.9 81.9L187 79.1L187.1 83.2L187.2 80.6L187.2 85.3L187.3 82.6L187.4 86.1L187.5 84.5L187.6 87.9L187.7 85.2L187.8 88.3L187.9 86.9L188 89.9L188 87.7L188.1 90.1L188.2 89L188.3 91.1L188.4 89.3L188.5 91.5L188.6 89.2L188.7 91.9L188.8 88.8L188.8 91.7L188.9 88L189 91L189.1 87.8L189.2 90.6L189.3 87.5L189.4 89.7L189.5 87L189.5 88.6L189.6 86.1L189.7 87.4L189.8 85.3L189.9 86L190 83.4L190.1 85.2L190.2 81.3L190.3 83.8L190.3 80.2L190.4 83L190.5 79L190.6 82L190.7 77.7L190.8 78.9L190.9 75.5L191 77.9L191.1 73.5L191.1 77.3L191.2 71.7L191.3 75.4L191.4 71.7L191.5 75.4L191.6 70.8L191.7 75.7L191.8 70L191.9 74.4L191.9 70.9L192 75.5L192.1 69.7L192.2 75.2L192.3 71.8L192.4 74.8L192.5 71.9L192.6 75.5L192.7 73.5L192.7 76L192.8 75L192.9 76.8L193 75.5L193.1 77.2L193.2 76.4L193.3 78.6L193.4 78L193.5 80.8L193.5 79.8L193.6 82.6L193.7 81.9L193.8 84.5L193.9 81.7L194 85.3L194.1 83.2L194.2 86.9L194.2 85.4L194.3 88.2L194.4 86.2L194.5 88.5L194.6 86.6L194.7 90.2L194.8 88.5L194.9 90.9L195 89.4L195 91.4L195.1 89.6L195.2 91.3L195.3 89.6L195.4 91.8L195.5 89.5L195.6 91.7L195.7 88.2L195.8 91.4L195.8 88L195.9 90.8L196 86.9L196.1 89.9L196.2 86.9L196.3 88L196.4 84.9L196.5 86.9L196.6 82.1L196.6 86.3L196.7 81.7L196.8 84.4L196.9 79.5L197 83.1L197.1 79.1L197.2 82.1L197.3 77.1L197.4 79.9L197.4 76.8L197.5 78.5L197.6 75.5L197.7 77.3L197.8 75L197.9 76L198 73.6L198.1 75.2L198.1 71.9L198.2 75.5L198.3 71.2L198.4 75.8L198.5 70.7L198.6 75L198.7 70.3L198.8 74.9L198.9 70.5L198.9 74.8L199 71.7L199.1 75.7L199.2 72.4L199.3 76.3L199.4 73.5L199.5 77.6L199.6 75.1L199.7 77.1L199.7 75.6L199.8 79L199.9 77.6L200 80.5L200.1 78.5L200.2 81.5L200.3 80.2L200.4 84.3L200.5 81.1L200.5 84.9L200.6 82.5L200.7 86.9L200.8 84.7L200.9 88.3L201 85.5L201.1 89.7L201.2 86.9L201.3 89.9L201.3 86.2L201.4 91.6L201.5 87.9L201.6 91.4L201.7 88.9L201.8 92.2L201.9 88.7L202 92.2L202.1 88.8L202.1 91.7L202.2 88.5L202.3 91.6L202.4 88.7L202.5 91.1L202.6 87.7L202.7 89.3L202.8 87L202.8 88.6L202.9 85.9L203 87.4L203.1 83.9L203.2 86.8L203.3 83.2L203.4 85.5L203.5 81.4L203.6 84.1L203.6 79.9L203.7 82L203.8 77.9L203.9 81.1L204 76.4L204.1 79.6L204.2 75.5L204.3 77.9L204.4 73.7L204.4 77.9L204.5 72.4L204.6 76.4L204.7 72.3L204.8 75L204.9 71L205 75L205.1 71.9L205.2 74L205.2 71.5L205.3 73.8L205.4 71.6L205.5 73.4L205.6 72L205.7 73.9L205.8 73.4L205.9 75.1L206 73.5L206 75.6L206.1 74.2L206.2 77.3L206.3 74.5L206.4 78.4L206.5 76.2L206.6 80.2L206.7 78L206.8 81.7L206.8 78.5L206.9 82.8L207 80.5L207.1 84.5L207.2 81.3L207.3 85.9L207.4 83.7L207.5 87.5L207.5 84.8L207.6 89.8L207.7 86.2L207.8 90.5L207.9 86.7L208 91.3L208.1 86.9L208.2 91.6L208.3 87.8L208.3 92.7L208.4 87.8L208.5 91.9L208.6 88.2L208.7 91.8L208.8 89.3L208.9 92.9L209 88.6L209.1 91.6L209.1 88L209.2 89.6L209.3 86.5L209.4 89.7L209.5 86.3L209.6 87.9L209.7 85.1L209.8 86.5L209.9 83.7L209.9 85.8L210 82.1L210.1 84.2L210.2 80.5L210.3 82.7L210.4 79L210.5 80.9L210.6 77.6L210.7 81.2L210.7 75.7L210.8 79.1L210.9 74.7L211 79L211.1 74L211.2 76.9L211.3 74.1L211.4 76.9L211.5 73.2L211.5 76.6L211.6 72.7L211.7 76L211.8 72.3L211.9 76L212 72.8L212.1 76.5L212.2 73.4L212.2 76.7L212.3 73.6L212.4 76.5L212.5 74.6L212.6 77.5L212.7 75.4L212.8 77.7L212.9 76.9L213 78.5L213 77.9L213.1 79.6L213.2 78.7L213.3 81L213.4 80.1L213.5 81.8L213.6 81.7L213.7 83.5L213.8 82.1L213.8 84.8L213.9 82.7L214 85.6L214.1 83.4L214.2 86.3L214.3 83.8L214.4 87.5L214.5 84.6L214.6 87.5L214.6 85.3L214.7 87.9L214.8 85.1L214.9 88.2L215 85.9L215.1 88.4L215.2 85.9L215.3 88L215.4 86.3L215.4 87.7L215.5 85.3L215.6 87.5L215.7 84.9L215.8 87.3L215.9 85.1L216 86.7L216.1 84.4L216.2 85.8L216.2 83L216.3 85.3L216.4 82.7L216.5 84.4L216.6 81L216.7 83.6L216.8 79.3L216.9 83.3L216.9 78.5L217 82.2L217.1 78.3L217.2 80.1L217.3 77.9L217.4 79.7L217.5 76.8L217.6 78.5L217.7 76.6L217.7 78L217.8 75.7L217.9 77.7L218 75.9L218.1 77.5L218.2 75.6L218.3 76.8L218.4 75.6L218.5 76.7L218.5 75L218.6 77.5L218.7 75.2L218.8 77.8L218.9 75.7L219 77.6L219.1 76.2L219.2 78.3L219.3 76.9L219.3 79.2L219.4 76.3L219.5 80.7L219.6 77.7L219.7 80.9L219.8 79L219.9 82.5L220 79.8L220.1 82.9L220.1 80.7L220.2 83.4L220.3 81.6L220.4 84.4L220.5 82.7L220.6 85L220.7 83.3L220.8 85.7L220.9 84.2L220.9 86.1L221 85.2L221.1 86.6L221.2 85.3L221.3 88.1L221.4 85.5L221.5 88.3L221.6 85.9L221.6 88L221.7 86.4L221.8 87.7L221.9 85.7L222 87L222.1 85.5L222.2 87.4L222.3 85.9L222.4 87.2L222.4 85L222.5 86.2L222.6 83.7L222.7 85.5L222.8 83L222.9 84.9L223 82.6L223.1 84.1L223.2 81.1L223.2 83.5L223.3 80.2L223.4 83L223.5 80.1L223.6 81.7L223.7 79.2L223.8 81.6L223.9 77.6L224 80.8L224 77L224.1 78.8L224.2 76.1L224.3 79.5L224.4 75.6L224.5 78.3L224.6 75.9L224.7 76.9L224.8 76L224.8 77.3L224.9 75.7L225 77.3L225.1 75.7L225.2 77.4L225.3 75.1L225.4 77.3L225.5 75.9L225.6 77.8L225.6 76.6L225.7 78.3L225.8 76.7L225.9 79.1L226 77.3L226.1 79.7L226.2 77.8L226.3 81.2L226.3 78.9L226.4 81.1L226.5 79.8L226.6 82.9L226.7 80.8L226.8 83.1L226.9 81.4L227 84L227.1 82.3L227.1 84.6L227.2 83.3L227.3 85.6L227.4 85.1L227.5 86.3L227.6 85.2L227.7 86.8L227.8 85.3L227.9 87.2L227.9 85.8L228 87.3L228.1 86.1L228.2 88.1L228.3 86.4L228.4 87.9L228.5 85.5L228.6 87.7L228.7 85.3L228.7 87.5L228.8 85.5L228.9 87.2L229 85.1L229.1 86.6L229.2 84.8L229.3 85.4L229.4 84.2L229.5 85.5L229.5 82.9L229.6 84.4L229.7 82.2L229.8 83.9L229.9 81.3L230 83.2L230.1 80.4L230.2 81.9L230.3 79.8L230.3 80.4L230.4 79.4L230.5 80L230.6 78.3L230.7 79.3L230.8 77.2L230.9 78.8L231 76.3L231 78.9L231.1 75.9L231.2 78.1L231.3 74.6L231.4 77.8L231.5 75.1L231.6 78.1L231.7 75.2L231.8 78.7L231.8 75.1L231.9 78.3L232 75.7L232.1 78.7L232.2 75.3L232.3 78.3L232.4 76.8L232.5 78.2L232.6 77.2L232.6 79.6L232.7 77.4L232.8 80.5L232.9 78.2L233 81.2L233.1 79.6L233.2 81.6L233.3 80.5L233.4 82L233.4 81.9L233.5 83.3L233.6 82.3L233.7 83.9L233.8 82.8L233.9 85.2L234 82.6L234.1 85.9L234.2 84.3L234.2 86.3L234.3 84.1L234.4 87.3L234.5 84.8L234.6 87.9L234.7 85.9L234.8 87.9L234.9 86.1L234.9 87.5L235 86.2L235.1 87.1L235.2 85.7L235.3 87L235.4 85.8L235.5 87.3L235.6 85.2L235.7 86.5L235.7 84.8L235.8 86.5L235.9 84L236 85.8L236.1 83.5L236.2 85.2L236.3 83L236.4 83.8L236.5 82.1L236.5 83.2L236.6 81L236.7 82L236.8 79.7L236.9 81.8L237 79L237.1 80.4L237.2 78.9L237.3 79.7L237.3 77.4L237.4 79.2L237.5 77.4L237.6 78.1L237.7 76.6L237.8 77.5L237.9 76.3L238 77.5L238.1 74.9L238.1 78L238.2 75.8L238.3 77.3L238.4 74.5L238.5 78.2L238.6 74.6L238.7 78.8L238.8 74.5L238.9 78.8L238.9 75.3L239 78.2L239.1 77.3L239.2 79L239.3 77.1L239.4 79.3L239.5 77.9L239.6 80.6L239.6 78.9L239.7 81L239.8 80L239.9 82.3L240 81.2L240.1 83L240.2 81.2L240.3 84.6L240.4 82.4L240.4 85.1L240.5 83.4L240.6 86.4L240.7 83.7L240.8 87.6L240.9 83.6L241 87.4L241.1 84.2L241.2 87.3L241.2 85.4L241.3 87.9L241.4 85.4L241.5 88.2L241.6 85.7L241.7 88.1L241.8 85.4L241.9 87.8L242 85.9L242 87.7L242.1 85.6L242.2 86.8L242.3 84.6L242.4 86.7L242.5 84.9L242.6 86L242.7 84.2L242.8 85.5L242.8 82.3L242.9 84.1L243 81.6L243.1 84.3L243.2 81.1L243.3 83.6L243.4 80.1L243.5 81.6L243.6 78.8L243.6 81.5L243.7 78.8L243.8 80.5L243.9 77.6L244 80.3L244.1 76.6L244.2 79.9L244.3 76.7L244.3 78.3L244.4 75.6L244.5 78.4L244.6 76.1L244.7 77.4L244.8 75.5L244.9 77.1L245 75.4L245.1 77.3L245.1 75.3L245.2 77.8L245.3 75.8L245.4 78.6L245.5 75.7L245.6 77.6L245.7 76.6L245.8 79.6L245.9 77L245.9 79.3L246 78.1L246.1 80.1L246.2 79L246.3 80.6L246.4 79.3L246.5 81.2L246.6 80.5L246.7 82.9L246.7 81.1L246.8 83.6L246.9 81.9L247 84.9L247.1 82.3L247.2 85.8L247.3 83L247.4 86.9L247.5 84L247.5 86.9L247.6 84.1L247.7 88.1L247.8 84.8L247.9 88.1L248 85.5L248.1 88.9L248.2 85.8L248.3 88.9L248.3 84.8L248.4 88.8L248.5 85L248.6 88.4L248.7 84.8L248.8 87.9L248.9 85.1L249 86.9L249 84.1L249.1 87.3L249.2 83.3L249.3 86L249.4 81.9L249.5 85.3L249.6 81.5L249.7 84.6L249.8 81.6L249.8 83.4L249.9 80.4L250 82.4L250.1 79.8L250.2 81.6L250.3 79.5L250.4 80.4L250.5 77.7L250.6 79.9L250.6 77.6L250.7 78.8L250.8 77.4L250.9 78.6L251 76.8L251.1 77.4L251.2 76.1L251.3 77.6L251.4 76.4L251.4 77.1L251.5 75.1L251.6 77.3L251.7 75.5L251.8 77.3L251.9 76L252 78.2L252.1 75.2L252.2 78.2L252.2 75.9L252.3 78.7L252.4 76.2L252.5 79.7L252.6 76.4L252.7 79.8L252.8 77.4L252.9 81.1L253 78.6L253 81.2L253.1 79.3L253.2 82.8L253.3 80.3L253.4 82.6L253.5 81.5L253.6 83.6L253.7 82.2L253.7 83.9L253.8 83.5L253.9 85.4L254 84.3L254.1 86.2L254.2 84.5L254.3 86.5L254.4 85.7L254.5 87.5L254.5 85.6L254.6 88.2L254.7 85.4L254.8 87.9L254.9 85.9L255 88.3L255.1 85.5L255.2 87.9L255.3 85.6L255.3 87.4L255.4 85.3L255.5 87.4L255.6 84.9L255.7 87L255.8 83.6L255.9 86.4L256 83.3L256.1 85.5L256.1 82.6L256.2 85.5L256.3 81.4L256.4 84.7L256.5 80.4L256.6 84L256.7 79.6L256.8 83.3L256.9 78.1L256.9 81.7L257 77.7L257.1 80L257.2 77.6L257.3 79.6L257.4 77.7L257.5 78.8L257.6 77.5L257.7 78L257.7 76.4L257.8 77.7L257.9 75.7L258 77.4L258.1 75.7L258.2 77.4L258.3 76.1L258.4 77.1L258.4 74.7L258.5 77.4L258.6 75.1L258.7 78L258.8 75.5L258.9 78.4L259 76.1L259.1 79.7L259.2 76.6L259.2 79.8L259.3 77.4L259.4 80.1L259.5 78.1L259.6 81.5L259.7 78.8L259.8 82.1L259.9 79.7L260 82.8L260 80.6L260.1 84.3L260.2 81.5L260.3 85.1L260.4 82.8L260.5 85.3L260.6 83.3L260.7 86.8L260.8 83.6L260.8 87.4L260.9 83.6L261 87.5L261.1 84.5L261.2 89L261.3 85.2L261.4 87.8L261.5 85.3L261.6 89.1L261.6 84.6L261.7 88.7L261.8 85.1L261.9 88.9L262 85.1L262.1 88L262.2 84.4L262.3 87.6L262.4 84.9L262.4 87.4L262.5 83.5L262.6 86.5L262.7 82.5L262.8 85.6L262.9 81.3L263 84.7L263.1 80.8L263.1 84.1L263.2 80.2L263.3 82.9L263.4 79.2L263.5 81.7L263.6 78L263.7 81.2L263.8 76.7L263.9 79.7L263.9 77.4L264 80.1L264.1 76.8L264.2 79.2L264.3 76.3L264.4 78.5L264.5 75.1L264.6 77.8L264.7 75.3L264.7 77.3L264.8 75.1L264.9 77.7L265 75.1L265.1 77.2L265.2 75.3L265.3 78.6L265.4 75.6L265.5 77.4L265.5 76L265.6 79.4L265.7 76.1L265.8 79.4L265.9 77.9L266 79.7L266.1 77.7L266.2 80.2L266.3 78.6L266.3 80.8L266.4 80L266.5 82.7L266.6 81L266.7 83L266.8 80.8L266.9 84.4L267 82.4L267.1 85.2L267.1 83.1L267.2 86.2L267.3 83.5L267.4 86.8L267.5 84.3L267.6 88.4L267.7 84.2L267.8 88.2L267.8 84.4L267.9 87.8L268 85.4L268.1 88.6L268.2 85.5L268.3 87.9L268.4 84.9L268.5 88.4L268.6 84.7L268.6 87.9L268.7 85L268.8 87.5L268.9 85.2L269 86.8L269.1 84.1L269.2 86.5L269.3 83.8L269.4 85.6L269.4 83L269.5 85L269.6 82.4L269.7 83.9L269.8 80.9L269.9 82.9L270 80.4L270.1 82.1L270.2 79.5L270.2 81L270.3 79.1L270.4 80.9L270.5 77.7L270.6 79.8L270.7 76.3L270.8 79.2L270.9 76.5L271 79L271 76L271.1 78.1L271.2 75.4L271.3 77.5L271.4 75.3L271.5 77.3L271.6 74.9L271.7 77.1L271.8 75.5L271.8 77.2L271.9 75.8L272 76.7L272.1 76.8L272.2 78.1L272.3 77L272.4 78.9L272.5 76.7L272.5 78.7L272.6 77.4L272.7 79.8L272.8 77.8L272.9 81.3L273 78.8L273.1 82L273.2 79.7L273.3 82.6L273.3 80.3L273.4 84.5L273.5 81.6L273.6 84.5L273.7 82.4L273.8 85.5L273.9 83.5L274 86.2L274.1 83.9L274.1 86.4L274.2 84.4L274.3 87.1L274.4 85.4L274.5 87.7L274.6 85.5L274.7 88.2L274.8 85.3L274.9 88.5L274.9 85.6L275 88.2L275.1 85.5L275.2 88.2L275.3 85.3L275.4 87.5L275.5 83.9L275.6 87.6L275.7 83.9L275.7 87.3L275.8 83.7L275.9 86.6L276 83.4L276.1 84.7L276.2 82.6L276.3 84.5L276.4 81.9L276.4 84.2L276.5 80.8L276.6 82.2L276.7 79.7L276.8 81.9L276.9 79.2L277 80.8L277.1 78.1L277.2 80L277.2 77.2L277.3 80.1L277.4 75.9L277.5 79.1L277.6 75.5L277.7 79.2L277.8 74.5L277.9 78.7L278 75.1L278 78.5L278.1 74.6L278.2 78.4L278.3 74L278.4 78.2L278.5 74.9L278.6 77.8L278.7 74.2L278.8 78.2L278.8 75.9L278.9 78.7L279 76.4L279.1 79.1L279.2 77.2L279.3 79.6L279.4 77.4L279.5 80.3L279.6 78.7L279.6 81.2L279.7 80.1L279.8 81.7L279.9 80.7L280 83.5L280.1 81.1L280.2 83.6L280.3 82.1L280.4 84.8L280.4 82.7L280.5 86.2L280.6 83.2L280.7 86.6L280.8 83.6L280.9 87.3L281 84.8L281.1 88.3L281.1 84.9L281.2 88.3L281.3 85.3L281.4 88.4L281.5 84L281.6 88.7L281.7 85.8L281.8 87.8L281.9 85.2L281.9 87.7L282 85.6L282.1 87.4L282.2 85L282.3 86.5L282.4 84.7L282.5 86.2L282.6 84.1L282.7 85.4L282.7 82.5L282.8 85.5L282.9 81.9L283 84.2L283.1 80.9L283.2 83.5L283.3 80.2L283.4 83L283.5 79.4L283.5 81.9L283.6 78.3L283.7 80.8L283.8 77.1L283.9 80.3L284 76.2L284.1 79.4L284.2 76.4L284.3 78.7L284.3 74.8L284.4 79L284.5 75L284.6 77.7L284.7 75L284.8 77.6L284.9 74.8L285 77.7L285.1 75L285.1 77.7L285.2 75.9L285.3 77.1L285.4 75.8L285.5 77.5L285.6 76.4L285.7 77.8L285.8 77.4L285.8 78.7L285.9 78.2L286 79.5L286.1 78L286.2 80.8L286.3 79.3L286.4 81.3L286.5 80.3L286.6 82.6L286.6 80.7L286.7 83.7L286.8 81.4L286.9 84.4L287 81.9L287.1 86.1L287.2 81.5L287.3 86.3L287.4 83.2L287.4 87.1L287.5 84.5L287.6 87.3L287.7 85.8L287.8 86.8L287.9 85.9L288 87.4L288.1 86.5L288.2 88L288.2 86.4L288.3 87.6L288.4 86.1L288.5 87.8L288.6 85.6L288.7 87.2L288.8 84.9L288.9 86.9L289 85.4L289 86.7L289.1 83.5L289.2 86.4L289.3 83.3L289.4 85.6L289.5 82.2L289.6 84.6L289.7 82L289.8 84.1L289.8 80.7L289.9 82.8L290 79.5L290.1 81.9L290.2 79L290.3 81.5L290.4 77.7L290.5 80.6L290.5 77.5L290.6 80.4L290.7 76.4L290.8 79.4L290.9 76.7L291 78.1L291.1 75.6L291.2 78.5L291.3 75L291.3 77.9L291.4 74.8L291.5 77.6L291.6 75.5L291.7 77.4L291.8 75.6L291.9 77.4L292 75.6L292.1 77.8L292.1 75.6L292.2 77.9L292.3 76.2L292.4 79.5L292.5 77L292.6 79.8L292.7 76.2L292.8 81.2L292.9 78.3L292.9 81.8L293 79L293.1 82.4L293.2 80.4L293.3 82.8L293.4 81.3L293.5 83.2L293.6 82.3L293.7 84.9L293.7 82.7L293.8 85.1L293.9 83.4L294 86.5L294.1 84.8L294.2 87.3L294.3 84.3L294.4 88.3L294.5 84.9L294.5 87L294.6 85.9L294.7 88.5L294.8 85.8L294.9 87.7L295 85.6L295.1 87.9L295.2 86.4L295.2 87.6L295.3 85.6L295.4 87.2L295.5 84.9L295.6 87.2L295.7 84.5L295.8 86.7L295.9 83.4L296 85.4L296 83.6L296.1 85.4L296.2 82L296.3 83.5L296.4 81L296.5 82.7L296.6 80.6L296.7 82.3L296.8 80.4L296.8 81.4L296.9 79.2L297 80.4L297.1 78.4L297.2 79.6L297.3 77.8L297.4 78.7L297.5 76.8L297.6 78.7L297.6 75.7L297.7 77.6L297.8 76L297.9 77.9L298 75.5L298.1 77.3L298.2 75.7L298.3 77.1L298.4 74.8L298.4 77.2L298.5 75.6L298.6 78.5L298.7 75.8L298.8 78L298.9 75.5L299 79.2L299.1 76.5L299.2 78.9L299.2 77.5L299.3 79.9L299.4 77.3L299.5 80.9L299.6 78.6L299.7 81.8L299.8 80.2L299.9 82.9L299.9 81.2L300 82.9L300.1 81.4L300.2 83.6L300.3 82.9L300.4 84.8L300.5 83.6L300.6 85.5L300.7 84.7L300.7 85.8L300.8 84.7L300.9 87.4L301 84.6L301.1 87.8L301.2 84.6L301.3 88.7L301.4 84.5L301.5 87.8L301.5 84.5L301.6 87.9L301.7 85.6L301.8 87.9L301.9 85.2L302 88.5L302.1 83.9L302.2 87.2L302.3 83.4L302.3 86.7L302.4 83.8L302.5 86.7L302.6 82.6L302.7 85.6L302.8 81.7L302.9 85.2L303 80.9L303.1 84.4L303.1 80.7L303.2 82.7L303.3 79.6L303.4 82.5L303.5 79.7L303.6 81.7L303.7 78.8L303.8 79.9L303.9 78.5L303.9 79.9L304 77.5L304.1 78.4L304.2 76.9L304.3 78.3L304.4 75.8L304.5 77.7L304.6 75.6L304.6 77.2L304.7 75.5L304.8 77.2L304.9 75.6L305 77L305.1 75.3L305.2 77.8L305.3 75.5L305.4 77.9L305.4 75.8L305.5 77.8L305.6 76.7L305.7 78.7L305.8 77.3L305.9 79.1L306 78L306.1 79.5L306.2 79L306.2 80.8L306.3 79.7L306.4 81.8L306.5 80.3L306.6 82.6L306.7 82.2L306.8 83.1L306.9 82.3L307 83.9L307 83.2L307.1 84.4L307.2 83.4L307.3 85.6L307.4 83.9L307.5 86.6L307.6 84.8L307.7 87.1L307.8 84.7L307.8 87.4L307.9 85.7L308 88L308.1 85.3L308.2 88.1L308.3 86.3L308.4 87.5L308.5 86L308.6 87.5L308.6 85.7L308.7 86.8L308.8 86.1L308.9 86.9L309 84.7L309.1 85.7L309.2 84L309.3 86L309.3 83.6L309.4 84.6L309.5 82.4L309.6 83.9L309.7 82L309.8 83.5L309.9 80.7L310 82.9L310.1 79.6L310.1 81.5L310.2 78.5L310.3 81.2L310.4 77.9L310.5 80.7L310.6 76.8L310.7 79.9L310.8 76.2L310.9 78.7L310.9 75.8L311 78.3L311.1 75.4L311.2 78.1L311.3 75.5L311.4 77.3L311.5 74.9L311.6 77.3L311.7 75.3L311.7 77.5L311.8 75.2L311.9 77.6L312 75.4L312.1 77.8L312.2 75.7L312.3 78.4L312.4 76.5L312.5 79.4L312.5 76.6L312.6 80.2L312.7 78.1L312.8 80.5L312.9 78.5L313 81.9L313.1 79.2L313.2 82.4L313.2 80.3L313.3 82.9L313.4 80.8L313.5 83.8L313.6 82.5L313.7 84.5L313.8 83.2L313.9 85.4L314 84.2L314 86.6L314.1 84.3L314.2 86.9L314.3 84.5L314.4 87.1L314.5 85.9L314.6 87.3L314.7 86L314.8 87.7L314.8 86.1L314.9 88.3L315 85.5L315.1 87.7L315.2 85.7L315.3 87.6L315.4 85.6L315.5 87L315.6 85.2L315.6 87.2L315.7 84.2L315.8 86.9L315.9 83.7L316 85.3L316.1 82.9L316.2 85L316.3 82.3L316.4 84.5L316.4 81.2L316.5 83.2L316.6 79.6L316.7 82.4L316.8 79.4L316.9 81.7L317 78L317.1 80.9L317.2 77.6L317.2 80L317.3 77.4L317.4 79.7L317.5 76.2L317.6 79.4L317.7 75.9L317.8 78L317.9 75.5L317.9 78.3L318 75.3L318.1 77.6L318.2 75L318.3 77.4L318.4 75.6L318.5 77.8L318.6 75L318.7 77.8L318.7 75.5L318.8 78.5L318.9 76L319 79.1L319.1 76.6L319.2 79.6L319.3 76.3L319.4 80.8L319.5 77L319.5 81.5L319.6 78.2L319.7 82L319.8 79.5L319.9 82.8L320 80.4L320.1 83.5L320.2 81.9L320.3 84.5L320.3 82.6L320.4 84.8L320.5 84.1L320.6 85.5L320.7 84.2L320.8 86.2L320.9 85.4L321 86.7L321.1 85.8L321.1 87.2L321.2 85.6L321.3 87.8L321.4 86.2L321.5 87.7L321.6 86.2L321.7 88L321.8 86.1L321.9 87.7L321.9 86L322 87L322.1 85.8L322.2 87.2L322.3 85.3L322.4 86.8L322.5 84.2L322.6 86.1L322.6 83.1L322.7 85.8L322.8 82.8L322.9 84.8L323 80.7L323.1 84.4L323.2 80.8L323.3 83.8L323.4 79L323.4 82.3L323.5 77.9L323.6 82.2L323.7 78L323.8 81.3L323.9 77.6L324 79.7L324.1 76.6L324.2 78.6L324.2 76.3L324.3 78.1L324.4 76.2L324.5 77.7L324.6 76.3L324.7 77.6L324.8 75.3L324.9 77.7L325 75.1L325 78.1L325.1 74.5L325.2 78.1L325.3 74.5L325.4 79L325.5 74.9L325.6 78.3L325.7 75.6L325.8 79.8L325.8 77.2L325.9 79.6L326 77.8L326.1 80.4L326.2 78.5L326.3 81.1L326.4 79.3L326.5 82.6L326.6 80.8L326.6 82.3L326.7 81.4L326.8 83.7L326.9 81.4L327 84.5L327.1 82.8L327.2 85.7L327.3 83.7L327.3 86.4L327.4 84.6L327.5 87.7L327.6 84.1L327.7 87.4L327.8 84.9L327.9 87.6L328 85.5L328.1 87.9L328.1 85.3L328.2 88.5L328.3 85L328.4 88.4L328.5 84.7L328.6 87.8L328.7 85.3L328.8 87.2L328.9 85.1L328.9 86.7L329 84.5L329.1 86L329.2 84.6L329.3 85.7L329.4 83.6L329.5 85L329.6 83L329.7 83.6L329.7 82.1L329.8 83.2L329.9 81.2L330 82.1L330.1 79.9L330.2 81.2L330.3 79.2L330.4 80L330.5 78.1L330.5 80.7L330.6 77.2L330.7 79.2L330.8 76.4L330.9 79.5L331 75.8L331.1 78.4L331.2 75.5L331.3 78.1L331.3 75.6L331.4 77.5L331.5 75.3L331.6 77.2L331.7 76L331.8 77.2L331.9 76.2L332 77L332 76.3L332.1 77.9L332.2 76.7L332.3 78.3L332.4 77.3L332.5 79.1L332.6 77.7L332.7 79.9L332.8 78.2L332.8 80.6L332.9 79.7L333 81.1L333.1 79.5L333.2 82.1L333.3 80.6L333.4 82.9L333.5 81.4L333.6 84.6L333.6 81.6L333.7 84.9L333.8 82.5L333.9 86.2L334 82.9L334.1 87L334.2 84.2L334.3 87.5L334.4 84.8L334.4 88.3L334.5 85.5L334.6 88.2L334.7 85.6L334.8 89.4L334.9 85.7L335 89.2L335.1 84.6L335.2 88L335.2 84.9L335.3 88.2L335.4 85.3L335.5 87.6L335.6 84.8L335.7 87.7L335.8 84.1L335.9 86.2L336 83.3L336 86.6L336.1 83L336.2 85.1L336.3 81.7L336.4 84.5L336.5 80.2L336.6 83L336.7 80L336.7 82.2L336.8 78.1L336.9 81.7L337 78.1L337.1 80.9L337.2 77.8L337.3 79.8L337.4 76.7L337.5 79.8L337.5 76.6L337.6 78.2L337.7 76L337.8 78.1L337.9 75.1L338 78.6L338.1 74.3L338.2 77.7L338.3 74L338.3 77.6L338.4 74.8L338.5 77.7L338.6 75.3L338.7 78.1L338.8 75.7L338.9 78.6L339 76L339.1 79.3L339.1 76.6L339.2 80L339.3 76.8L339.4 80.8L339.5 78L339.6 81.8L339.7 77.8L339.8 81.9L339.9 80L339.9 83.5L340 80.5L340.1 83.5L340.2 81.3L340.3 84.8L340.4 82.3L340.5 85.2L340.6 83.4L340.7 85.8L340.7 84.7L340.8 86.3L340.9 85L341 86.9L341.1 85.3L341.2 87.7L341.3 85.8L341.4 87.7L341.4 86L341.5 87.6L341.6 85.6L341.7 88.4L341.8 85.8L341.9 88.1L342 84.8L342.1 88L342.2 85.2L342.2 87.5L342.3 84.9L342.4 86.9L342.5 83.6L342.6 85.6L342.7 83L342.8 84.9L342.9 82.8L343 84.2L343 81.2L343.1 84.1L343.2 81L343.3 82.5L343.4 79.7L343.5 81.8L343.6 78.5L343.7 80.9L343.8 78.1L343.8 80.3L343.9 77.4L344 79.7L344.1 76.5L344.2 79.3L344.3 75.4L344.4 78.5L344.5 75.5L344.6 78L344.6 75.7L344.7 77.2L344.8 74.8L344.9 77.4L345 75.4L345.1 77.2L345.2 75.4L345.3 77.2" stroke="#0072BD"/>
<path d="M26.1 75.6L26.2 79.6L26.3 74.4L26.4 79.9L26.5 75.7L26.6 80.3L26.7 76.7L26.7 80L26.8 76.3L26.9 80.6L27 77.2L27.1 81.9L27.2 78.7L27.3 81.3L27.4 77.8L27.5 82.8L27.5 77.7L27.6 84.4L27.7 78.6L27.8 84.4L27.9 78.6L28 85.3L28.1 79.4L28.2 83.8L28.2 80.7L28.3 83.2L28.4 81.9L28.5 84.6L28.6 83L28.7 86.4L28.8 81.7L28.9 85.3L29 81.5L29 88L29.1 81.6L29.2 87.4L29.3 81.8L29.4 88.5L29.5 84L29.6 88.3L29.7 84.9L29.8 88.5L29.8 84.9L29.9 88.5L30 85.4L30.1 88.4L30.2 85.9L30.3 88.4L30.4 86L30.5 89.4L30.6 86.9L30.6 89.4L30.7 85.9L30.8 90.1L30.9 86.5L31 90.7L31.1 85.1L31.2 89.6L31.3 85.9L31.4 89.7L31.4 85.5L31.5 89.8L31.6 85.7L31.7 89L31.8 86.1L31.9 89.8L32 86.8L32.1 89.2L32.2 86.1L32.2 88.9L32.3 86.1L32.4 88.1L32.5 85.9L32.6 88.8L32.7 85.4L32.8 88.7L32.9 86L32.9 87.6L33 85L33.1 87.8L33.2 84.3L33.3 86.4L33.4 82.4L33.5 86.3L33.6 82.8L33.7 86.4L33.7 82.3L33.8 85L33.9 81.5L34 85.7L34.1 81.4L34.2 85.4L34.3 80.6L34.4 84L34.5 79.7L34.5 82.5L34.6 79.9L34.7 82.2L34.8 79.7L34.9 80.7L35 78.5L35.1 80.6L35.2 77.8L35.3 81.7L35.3 76.5L35.4 81.9L35.5 75.7L35.6 82.2L35.7 74L35.8 80.3L35.9 74.1L36 80.4L36.1 75.7L36.1 79.5L36.2 74.5L36.3 79.6L36.4 75L36.5 78.3L36.6 74.3L36.7 78.6L36.8 72.9L36.9 78.1L36.9 73.8L37 78.8L37.1 72L37.2 78.1L37.3 72L37.4 77.3L37.5 72.1L37.6 78.7L37.6 72.6L37.7 77.6L37.8 72.5L37.9 79.2L38 73.7L38.1 77.3L38.2 72.9L38.3 78.1L38.4 72.1L38.4 76.6L38.5 73.3L38.6 78.8L38.7 73.6L38.8 78.4L38.9 74.3L39 77.8L39.1 74.3L39.2 78.2L39.2 74.8L39.3 78.5L39.4 74.8L39.5 78.5L39.6 75.5L39.7 78.9L39.8 76L39.9 79.1L40 75.9L40 80L40.1 75.5L40.2 82.4L40.3 75L40.4 82.7L40.5 76.9L40.6 83.1L40.7 76.8L40.8 81.7L40.8 77.8L40.9 82.8L41 79.9L41.1 83.9L41.2 80.4L41.3 82L41.4 80.9L41.5 84.1L41.5 80.5L41.6 84.1L41.7 81.3L41.8 85.9L41.9 81.2L42 86.4L42.1 82.7L42.2 88.4L42.3 81.8L42.3 87.8L42.4 83L42.5 87.4L42.6 82.3L42.7 87.5L42.8 82.9L42.9 88.2L43 83.3L43.1 89.3L43.1 84.2L43.2 88.2L43.3 84.7L43.4 89.6L43.5 85.2L43.6 89.1L43.7 85L43.8 90.1L43.9 85.1L43.9 88L44 86.5L44.1 90.2L44.2 86.4L44.3 90.2L44.4 87.4L44.5 89.8L44.6 86.4L44.7 89L44.7 86L44.8 89.6L44.9 86.5L45 88.5L45.1 86.5L45.2 90.4L45.3 86.4L45.4 88.7L45.5 84.6L45.5 89.6L45.6 85.9L45.7 88.3L45.8 85.5L45.9 87.5L46 85.1L46.1 87.3L46.2 85.5L46.2 88.1L46.3 84.8L46.4 86.5L46.5 82.8L46.6 87.2L46.7 81.7L46.8 87L46.9 80.7L47 87.7L47 81L47.1 87.7L47.2 80.8L47.3 86L47.4 79.7L47.5 85.7L47.6 80.9L47.7 84.8L47.8 79.6L47.8 84.3L47.9 78.8L48 85.2L48.1 79.1L48.2 81.7L48.3 78.2L48.4 82.9L48.5 79L48.6 81.1L48.6 78.2L48.7 80.6L48.8 77.4L48.9 80.2L49 76.8L49.1 78.9L49.2 75.8L49.3 79.8L49.4 75.3L49.4 79.3L49.5 75.6L49.6 80.1L49.7 75.2L49.8 78.4L49.9 75.8L50 77.4L50.1 75.2L50.2 78L50.2 74.7L50.3 78.2L50.4 74.1L50.5 78.5L50.6 73L50.7 77.7L50.8 73.9L50.9 78.4L50.9 72.6L51 77.7L51.1 72.4L51.2 77.2L51.3 74L51.4 77.4L51.5 73.2L51.6 76.5L51.7 73.8L51.7 76.9L51.8 73.8L51.9 77.3L52 73.9L52.1 77L52.2 74.4L52.3 77.2L52.4 74.7L52.5 78.5L52.5 73.8L52.6 78L52.7 74.9L52.8 78.3L52.9 75.2L53 78.6L53.1 75.6L53.2 80L53.3 76L53.3 79.8L53.4 75.5L53.5 80.7L53.6 75.6L53.7 81.2L53.8 76.1L53.9 82.9L54 76.2L54.1 84.5L54.1 77.5L54.2 83.7L54.3 77.5L54.4 83.1L54.5 76.9L54.6 85L54.7 78.5L54.8 85.3L54.9 79.4L54.9 84.9L55 79.7L55.1 85.6L55.2 80.7L55.3 85.2L55.4 80.9L55.5 87.9L55.6 81.7L55.6 86.4L55.7 82.9L55.8 87.7L55.9 84.3L56 88.8L56.1 83.2L56.2 88.3L56.3 81.8L56.4 89.7L56.4 83.4L56.5 90.6L56.6 84.9L56.7 89.9L56.8 84.7L56.9 89.8L57 85.1L57.1 91.4L57.2 85L57.2 90.6L57.3 87.3L57.4 88.7L57.5 85.4L57.6 89.7L57.7 85.9L57.8 90.3L57.9 85.5L58 89.9L58 85.8L58.1 90L58.2 87.5L58.3 89.2L58.4 84.5L58.5 89.7L58.6 84.8L58.7 91.1L58.8 84.6L58.8 92.1L58.9 84.4L59 90L59.1 84.8L59.2 89.6L59.3 85.2L59.4 87.6L59.5 85.1L59.6 87.9L59.6 85.5L59.7 87.3L59.8 83.7L59.9 87L60 83.4L60.1 88.1L60.2 81.8L60.3 87.8L60.3 81.2L60.4 85.6L60.5 81.3L60.6 86.6L60.7 80.7L60.8 86.6L60.9 78.9L61 86.3L61.1 79.9L61.1 85.3L61.2 78.2L61.3 85.7L61.4 78.1L61.5 83.6L61.6 78L61.7 83.4L61.8 78.5L61.9 80.4L61.9 78.3L62 79.6L62.1 77.1L62.2 80.6L62.3 76.3L62.4 79.6L62.5 75.9L62.6 80.6L62.7 74.2L62.7 81.3L62.8 73.3L62.9 80.2L63 74L63.1 80.2L63.2 73.4L63.3 79.7L63.4 73.3L63.5 79L63.5 72.8L63.6 78.5L63.7 71.9L63.8 77.8L63.9 73.6L64 78.4L64.1 73.3L64.2 77.3L64.3 74.8L64.3 75.9L64.4 75.2L64.5 76.6L64.6 73.6L64.7 76.5L64.8 72.4L64.9 76.6L65 74.1L65 76.2L65.1 74.1L65.2 78.8L65.3 73.7L65.4 78.4L65.5 73.6L65.6 78.1L65.7 74.6L65.8 77.5L65.8 73L65.9 78.3L66 75.3L66.1 78.5L66.2 75L66.3 79.8L66.4 75.7L66.5 79.5L66.6 75.3L66.6 80L66.7 77.5L66.8 81.7L66.9 77.4L67 81.8L67.1 77L67.2 81.6L67.3 76.2L67.4 81.1L67.4 78.6L67.5 81.3L67.6 79.8L67.7 83.4L67.8 78.9L67.9 82.8L68 80.7L68.1 83.4L68.2 79.4L68.2 84.6L68.3 81L68.4 85.2L68.5 81.8L68.6 84.6L68.7 82.8L68.8 84.9L68.9 82.9L69 85.8L69 84.8L69.1 87L69.2 83.8L69.3 87L69.4 84.8L69.5 87.5L69.6 85.8L69.7 88L69.7 85.5L69.8 88.9L69.9 85.1L70 89L70.1 85.1L70.2 89.9L70.3 84.6L70.4 89.9L70.5 85.7L70.5 89.4L70.6 86.3L70.7 89.6L70.8 86.4L70.9 90.7L71 85.3L71.1 89.7L71.2 85.6L71.3 91.2L71.3 86.2L71.4 90.4L71.5 85L71.6 89.2L71.7 85.5L71.8 90.8L71.9 85.8L72 89.5L72.1 85.3L72.1 90.3L72.2 85.1L72.3 89.4L72.4 84.5L72.5 88.5L72.6 83.9L72.7 89.5L72.8 81.9L72.9 88.7L72.9 82.8L73 89.5L73.1 82.3L73.2 88.2L73.3 82.2L73.4 86.7L73.5 83.4L73.6 86.5L73.7 81.9L73.7 86.1L73.8 81.6L73.9 85.8L74 81.9L74.1 85.9L74.2 80.4L74.3 84.9L74.4 79.8L74.4 83.8L74.5 78.8L74.6 84L74.7 78.7L74.8 84.4L74.9 78.4L75 84.7L75.1 78L75.2 83.3L75.2 76.7L75.3 82.5L75.4 76.7L75.5 82.3L75.6 75.9L75.7 80.8L75.8 74.5L75.9 78.6L76 75.9L76 79L76.1 74.3L76.2 78.7L76.3 75.9L76.4 79.3L76.5 74.8L76.6 76.5L76.7 74.9L76.8 75.8L76.8 74.6L76.9 77.2L77 73.9L77.1 76.7L77.2 74.2L77.3 77.3L77.4 74.4L77.5 77.1L77.6 72.8L77.6 77.1L77.7 74.5L77.8 77.6L77.9 73.3L78 77.8L78.1 72.8L78.2 79.6L78.3 71.2L78.4 78L78.4 72.4L78.5 76.6L78.6 71.9L78.7 78.3L78.8 72.8L78.9 77.6L79 73.4L79.1 78.2L79.1 75.1L79.2 78.5L79.3 74.5L79.4 78.3L79.5 75.6L79.6 78.1L79.7 75.7L79.8 78.4L79.9 76.4L79.9 80.5L80 77L80.1 80.3L80.2 76.5L80.3 80.6L80.4 77.4L80.5 81.6L80.6 77.2L80.7 82.4L80.7 77.1L80.8 84.3L80.9 77.7L81 84.5L81.1 78.2L81.2 84.6L81.3 79L81.4 86.3L81.5 79.1L81.5 84.4L81.6 80.7L81.7 86.6L81.8 80.6L81.9 85.2L82 81.8L82.1 87.4L82.2 82.2L82.3 85.1L82.3 82.6L82.4 86.8L82.5 82.5L82.6 88.3L82.7 85.5L82.8 87.4L82.9 83.7L83 89.2L83 83.9L83.1 88.7L83.2 84.3L83.3 89.9L83.4 83.9L83.5 90.3L83.6 84.9L83.7 89.7L83.8 84.1L83.8 90L83.9 85.9L84 90.3L84.1 84.5L84.2 89.4L84.3 85.4L84.4 89.8L84.5 86.1L84.6 90.4L84.6 85.6L84.7 89.9L84.8 85.7L84.9 89.8L85 87.5L85.1 88.7L85.2 87L85.3 88.6L85.4 86.3L85.4 88.4L85.5 86.5L85.6 88.2L85.7 85.4L85.8 88.1L85.9 84.2L86 88.2L86.1 84.6L86.2 87.2L86.2 84.1L86.3 88.5L86.4 83.1L86.5 86.8L86.6 82.4L86.7 87L86.8 82.2L86.9 87.6L87 82.4L87 87.5L87.1 81.3L87.2 85.4L87.3 80.5L87.4 85.6L87.5 81.4L87.6 83.1L87.7 79.9L87.7 84.2L87.8 79.8L87.9 83.6L88 78.7L88.1 83.4L88.2 78.6L88.3 83.2L88.4 78.2L88.5 83.1L88.5 77.6L88.6 82.5L88.7 77.4L88.8 81.1L88.9 76L89 79.7L89.1 77.1L89.2 78.6L89.3 76.6L89.3 78.9L89.4 75.1L89.5 78.5L89.6 75L89.7 79L89.8 75L89.9 78.2L90 74.3L90.1 77.4L90.1 74.2L90.2 77.4L90.3 74.6L90.4 77.2L90.5 73.8L90.6 78.5L90.7 74.9L90.8 77.1L90.9 73.4L90.9 76.9L91 74.3L91.1 77.5L91.2 73.8L91.3 78.4L91.4 73.7L91.5 78.5L91.6 73.8L91.7 79L91.7 74.4L91.8 78L91.9 74.1L92 77.7L92.1 73.5L92.2 77.2L92.3 74.6L92.4 77L92.4 74.6L92.5 77.1L92.6 75L92.7 79.2L92.8 75.8L92.9 79.2L93 75.4L93.1 80L93.2 75L93.2 80.4L93.3 74.6L93.4 79.6L93.5 76.4L93.6 81.5L93.7 77.6L93.8 81.9L93.9 77.1L94 82.9L94 78.6L94.1 82.3L94.2 77.6L94.3 83.4L94.4 77.9L94.5 84L94.6 79.1L94.7 84L94.8 81L94.8 84.3L94.9 81.2L95 83.9L95.1 82L95.2 84.6L95.3 82.3L95.4 84.3L95.5 83.3L95.6 84.7L95.6 82.9L95.7 85.8L95.8 84.2L95.9 86.8L96 82.7L96.1 89.3L96.2 83.6L96.3 88.7L96.4 82L96.4 90L96.5 82.6L96.6 90.1L96.7 84.3L96.8 90.1L96.9 84.5L97 89L97.1 84.2L97.1 90.2L97.2 84.6L97.3 90.8L97.4 84.9L97.5 90.1L97.6 84.4L97.7 91.4L97.8 85.8L97.9 89.5L97.9 85.2L98 90.4L98.1 85.8L98.2 89.6L98.3 86.2L98.4 91.4L98.5 87.1L98.6 89.7L98.7 86.1L98.7 90.3L98.8 86L98.9 89.2L99 85.8L99.1 88.1L99.2 84.4L99.3 88.8L99.4 85.2L99.5 88.2L99.5 85.4L99.6 87.8L99.7 84.8L99.8 87.3L99.9 84L100 86L100.1 84.4L100.2 84.5L100.3 84.1L100.3 85.3L100.4 81.5L100.5 85.7L100.6 81.5L100.7 84.3L100.8 81.4L100.9 85.1L101 80L101.1 83.7L101.1 80.3L101.2 83.1L101.3 80.3L101.4 81.9L101.5 79.8L101.6 82.1L101.7 79.7L101.8 81.7L101.8 78.6L101.9 81L102 77.9L102.1 80.6L102.2 76.1L102.3 79.5L102.4 75.4L102.5 81.2L102.6 75.7L102.6 81.2L102.7 73.2L102.8 79.6L102.9 72.9L103 79.5L103.1 72.6L103.2 80.4L103.3 72.1L103.4 78.9L103.4 73L103.5 79.3L103.6 73.2L103.7 77.9L103.8 72.8L103.9 78.2L104 72.6L104.1 77.7L104.2 72.1L104.2 77.6L104.3 73.7L104.4 76.5L104.5 73.8L104.6 76.7L104.7 74.1L104.8 77.7L104.9 73.6L105 78L105 73.3L105.1 78.9L105.2 73L105.3 77.9L105.4 73.5L105.5 77.4L105.6 73.6L105.7 77L105.8 75.3L105.8 78.5L105.9 76.4L106 79.1L106.1 74.9L106.2 79.2L106.3 73.8L106.4 79.4L106.5 74.4L106.5 80.3L106.6 75L106.7 82.1L106.8 76L106.9 81.6L107 75.9L107.1 83.1L107.2 75.2L107.3 82.8L107.3 77.3L107.4 82.2L107.5 78.2L107.6 83.8L107.7 79.2L107.8 84L107.9 78.5L108 85.1L108.1 80L108.1 86.1L108.2 80.6L108.3 85L108.4 79.9L108.5 85.5L108.6 80.4L108.7 86.3L108.8 81.4L108.9 86.2L108.9 83.3L109 87.3L109.1 83.5L109.2 86.9L109.3 82.8L109.4 86.6L109.5 84.2L109.6 88.8L109.7 84.2L109.7 87.7L109.8 85.1L109.9 89.5L110 85L110.1 89L110.2 86.1L110.3 89.9L110.4 85.3L110.5 90.7L110.5 83.7L110.6 90.8L110.7 85.4L110.8 91.4L110.9 85.2L111 89.2L111.1 84.6L111.2 90L111.2 86L111.3 89.6L111.4 84.2L111.5 89.8L111.6 85.8L111.7 90.3L111.8 86.6L111.9 88.8L112 85.8L112 89.5L112.1 86.4L112.2 88.7L112.3 86.6L112.4 89.2L112.5 85.1L112.6 87.9L112.7 84L112.8 88.7L112.8 83.8L112.9 87.5L113 82.6L113.1 86.9L113.2 82.4L113.3 88.2L113.4 82.5L113.5 88.4L113.6 82.1L113.6 87L113.7 81.1L113.8 85.5L113.9 80.6L114 87.4L114.1 81.3L114.2 86.1L114.3 80.2L114.4 84.1L114.4 79.4L114.5 84.2L114.6 78.7L114.7 82.9L114.8 77.5L114.9 82.8L115 76.8L115.1 82.2L115.2 77.7L115.2 82.5L115.3 76.2L115.4 81.5L115.5 75.2L115.6 81.3L115.7 74.9L115.8 81.9L115.9 74.9L115.9 80.2L116 74.4L116.1 79.1L116.2 75.1L116.3 79.7L116.4 74.2L116.5 78.1L116.6 73.4L116.7 79.3L116.7 73.5L116.8 77.5L116.9 73.1L117 78.9L117.1 73.4L117.2 78.2L117.3 72.4L117.4 77L117.5 73.9L117.5 77.2L117.6 73.9L117.7 76L117.8 75L117.9 76.9L118 73L118.1 76.5L118.2 74.1L118.3 76.8L118.3 73.1L118.4 77.8L118.5 72.9L118.6 78.3L118.7 72.9L118.8 78.8L118.9 73.6L119 77.7L119.1 73.9L119.1 78L119.2 74.3L119.3 79.1L119.4 74.3L119.5 79.2L119.6 75.3L119.7 80.4L119.8 75.6L119.8 79.6L119.9 74.7L120 79.9L120.1 76.4L120.2 79.4L120.3 76.6L120.4 80.2L120.5 78.3L120.6 80.7L120.6 78.1L120.7 81.6L120.8 78.5L120.9 83.7L121 77.3L121.1 86.4L121.2 78.9L121.3 84.8L121.4 80.1L121.4 85.3L121.5 80.7L121.6 85.2L121.7 81.4L121.8 84.9L121.9 82.5L122 86.2L122.1 82.9L122.2 86.1L122.2 82.1L122.3 87.2L122.4 82.3L122.5 87.7L122.6 83.2L122.7 87.2L122.8 83.5L122.9 88.8L123 83.8L123 89.4L123.1 85.2L123.2 87.9L123.3 83.6L123.4 89.2L123.5 85.4L123.6 89.5L123.7 84.6L123.8 90.1L123.8 84.8L123.9 90L124 84.4L124.1 90.1L124.2 85.1L124.3 91.1L124.4 84.6L124.5 93.2L124.5 84.7L124.6 91L124.7 84.4L124.8 91.3L124.9 86.2L125 89.9L125.1 84.1L125.2 90.3L125.3 85L125.3 89.4L125.4 85L125.5 89.3L125.6 85L125.7 87.6L125.8 85L125.9 87.9L126 85.7L126.1 88L126.1 85.4L126.2 87L126.3 84.5L126.4 86.9L126.5 83.4L126.6 86.5L126.7 83.2L126.8 85.7L126.9 83.4L126.9 85.6L127 82.7L127.1 85.1L127.2 81.8L127.3 83.8L127.4 82.2L127.5 83.3L127.6 80.5L127.7 84L127.7 80.8L127.8 83.2L127.9 80.2L128 81.4L128.1 79.3L128.2 82.5L128.3 79.2L128.4 81.4L128.5 77.3L128.5 82.7L128.6 78.3L128.7 81.7L128.8 76.8L128.9 81.2L129 76.2L129.1 82.5L129.2 75.8L129.2 82L129.3 74L129.4 79.4L129.5 73.2L129.6 79.5L129.7 74.5L129.8 79.4L129.9 74.3L130 79.8L130 72.9L130.1 79L130.2 72.3L130.3 78.8L130.4 71.2L130.5 77.8L130.6 72.6L130.7 77.2L130.8 71.9L130.8 77.8L130.9 71.5L131 78.1L131.1 72.6L131.2 78L131.3 72.6L131.4 76.6L131.5 73.2L131.6 76.9L131.6 72.6L131.7 77.9L131.8 73.4L131.9 78.1L132 74L132.1 78.2L132.2 73.3L132.3 77.3L132.4 73.4L132.4 78.2L132.5 74.3L132.6 78.3L132.7 74.8L132.8 78.4L132.9 75L133 79.7L133.1 76.1L133.2 80.8L133.2 74L133.3 80.2L133.4 76L133.5 81.5L133.6 76.7L133.7 81.9L133.8 75.7L133.9 81.5L133.9 76.5L134 83.1L134.1 77.5L134.2 81.6L134.3 79.2L134.4 82.9L134.5 79.5L134.6 82.2L134.7 80.6L134.7 83.2L134.8 81.2L134.9 83.3L135 81.3L135.1 83.6L135.2 81.7L135.3 86L135.4 83.3L135.5 85.6L135.5 82.7L135.6 86.3L135.7 82.9L135.8 86.1L135.9 83L136 86.3L136.1 84.5L136.2 88.4L136.3 83.9L136.3 88.3L136.4 83.6L136.5 89L136.6 85L136.7 88L136.8 84.4L136.9 89.5L137 86.1L137.1 88.8L137.1 85.2L137.2 89.3L137.3 86.8L137.4 89.9L137.5 85.1L137.6 90.3L137.7 84.4L137.8 89.9L137.9 84L137.9 90.6L138 84.7L138.1 89.8L138.2 85.8L138.3 90.4L138.4 86.1L138.5 90L138.6 85.8L138.6 88.5L138.7 86.7L138.8 88.5L138.9 84.9L139 89.7L139.1 84.6L139.2 90.3L139.3 84.9L139.4 89L139.4 82.2L139.5 90.3L139.6 83.2L139.7 88.2L139.8 83.8L139.9 86.8L140 82.8L140.1 86.7L140.2 84.2L140.2 85.6L140.3 82.5L140.4 85.1L140.5 83.1L140.6 84L140.7 81L140.8 83.1L140.9 82.4L141 83.5L141 80.1L141.1 84.8L141.2 80.3L141.3 83.2L141.4 78.5L141.5 83.5L141.6 79.1L141.7 82.6L141.8 78.5L141.8 81.9L141.9 76.6L142 81.1L142.1 77.1L142.2 81.1L142.3 76.8L142.4 80.7L142.5 75.6L142.6 79.8L142.6 74.6L142.7 80.3L142.8 75.1L142.9 80.3L143 74L143.1 79.8L143.2 73.3L143.3 80.4L143.3 73.3L143.4 78.8L143.5 72.9L143.6 79.5L143.7 72.9L143.8 78.3L143.9 73.2L144 78.8L144.1 73.3L144.1 77.8L144.2 73.7L144.3 77L144.4 72.1L144.5 77.3L144.6 71.5L144.7 77.4L144.8 71.7L144.9 77.2L144.9 70.8L145 78.8L145.1 72.7L145.2 77.6L145.3 72.7L145.4 79.5L145.5 72.7L145.6 78.1L145.7 73.7L145.7 79L145.8 72.3L145.9 77.4L146 71.1L146.1 75.1L146.2 68.8L146.3 72.6L146.4 68.2L146.5 72L146.5 66.6L146.6 70.3L146.7 65.1L146.8 69.4L146.9 65.2L147 69L147.1 68.2L147.2 72.2L147.3 72.1L147.3 77.3L147.4 78.5L147.5 83L147.6 85.8L147.7 92L147.8 94.2L147.9 99.8L148 102.1L148 107.9L148.1 109.5L148.2 115L148.3 116.7L148.4 121.6L148.5 122.6L148.6 127.4L148.7 126.2L148.8 129.9L148.8 129.7L148.9 131.4L149 131.3L149.1 133.3L149.2 130.3L149.3 131.5L149.4 129.5L149.5 129.9L149.6 126.9L149.6 128.2L149.7 123.9L149.8 124.1L149.9 120.3L150 120.5L150.1 115.9L150.2 115.9L150.3 111L150.4 110.1L150.4 105.6L150.5 104.9L150.6 98.7L150.7 98.3L150.8 93.6L150.9 91.8L151 86.5L151.1 85.3L151.2 81.4L151.2 80.3L151.3 76.1L151.4 75.6L151.5 72.2L151.6 72L151.7 68.3L151.8 68.9L151.9 65.5L152 66.5L152 62.3L152.1 64.8L152.2 60.5L152.3 63.4L152.4 60.4L152.5 63L152.6 61.2L152.7 62.8L152.7 61.7L152.8 64.8L152.9 63.1L153 64.3L153.1 63.4L153.2 65.6L153.3 64.5L153.4 67.3L153.5 66.2L153.5 68.4L153.6 67.8L153.7 69.9L153.8 68.6L153.9 70.9L154 70.3L154.1 72.1L154.2 72.1L154.3 74.3L154.3 73.6L154.4 76.4L154.5 75.6L154.6 77.5L154.7 77L154.8 79L154.9 77.7L155 80.6L155.1 80.5L155.1 81.6L155.2 81.4L155.3 82.9L155.4 82.3L155.5 84.3L155.6 83L155.7 85.3L155.8 84.5L155.9 87.5L155.9 85.6L156 88.6L156.1 85.9L156.2 89.4L156.3 86.5L156.4 90.2L156.5 87.9L156.6 91.4L156.7 89L156.7 90.9L156.8 89.5L156.9 91.4L157 89.2L157.1 91.8L157.2 88.5L157.3 91.1L157.4 88L157.4 91.6L157.5 88.5L157.6 91L157.7 87.9L157.8 90.2L157.9 87.5L158 89.8L158.1 86.5L158.2 88.7L158.2 85.2L158.3 88.2L158.4 84.6L158.5 86.4L158.6 83.4L158.7 85.8L158.8 81.5L158.9 84.5L159 81.3L159 84.1L159.1 78.8L159.2 82.7L159.3 77.5L159.4 81.1L159.5 77.2L159.6 80.5L159.7 77.1L159.8 80.1L159.8 76.6L159.9 79.2L160 77.2L160.1 79.4L160.2 76.2L160.3 78.8L160.4 76.6L160.5 78.9L160.6 76.5L160.6 78.8L160.7 75.5L160.8 78.2L160.9 74.7L161 78L161.1 75.4L161.2 79.1L161.3 75.7L161.3 78.8L161.4 76.1L161.5 79.6L161.6 76.2L161.7 79.2L161.8 77.6L161.9 81.4L162 77.3L162.1 80.6L162.1 78.1L162.2 81.7L162.3 76.9L162.4 82.5L162.5 79.1L162.6 82.9L162.7 79L162.8 84.7L162.9 79.9L162.9 84.8L163 81.1L163.1 85.2L163.2 81.1L163.3 86.3L163.4 82.6L163.5 87.6L163.6 83.1L163.7 87.9L163.7 84.5L163.8 89L163.9 84.9L164 88.7L164.1 84.5L164.2 89.2L164.3 85L164.4 90L164.5 85.5L164.5 89.1L164.6 85.9L164.7 87.7L164.8 85.9L164.9 87.7L165 85.7L165.1 87.4L165.2 84.3L165.3 87.3L165.3 84L165.4 86.4L165.5 82.2L165.6 85.9L165.7 82.1L165.8 85.5L165.9 80.1L166 84.5L166 79.7L166.1 83.2L166.2 78.7L166.3 81.5L166.4 76.7L166.5 80L166.6 76.4L166.7 79.4L166.8 74.8L166.8 78.4L166.9 74.2L167 76.4L167.1 73.6L167.2 75.7L167.3 72.5L167.4 74.8L167.5 72.9L167.6 74.3L167.6 72.6L167.7 75.3L167.8 71.9L167.9 75.6L168 72.1L168.1 75.9L168.2 72.3L168.3 76.2L168.4 72.8L168.4 77.4L168.5 73.6L168.6 77.9L168.7 74.7L168.8 78.8L168.9 75.8L169 81L169.1 77.8L169.2 82L169.2 78.6L169.3 82.9L169.4 80.1L169.5 85L169.6 81L169.7 86.5L169.8 83.2L169.9 87.4L170 85L170 88.6L170.1 86.3L170.2 89.9L170.3 86.8L170.4 89.8L170.5 87.8L170.6 91.7L170.7 88.2L170.7 91.7L170.8 88.4L170.9 92.4L171 87.4L171.1 92.8L171.2 88.8L171.3 92.2L171.4 88.5L171.5 91.3L171.5 87.8L171.6 90.9L171.7 86.5L171.8 89.8L171.9 86.5L172 89.2L172.1 84.1L172.2 88.1L172.3 83.3L172.3 86.9L172.4 82.1L172.5 84.8L172.6 79.7L172.7 83.7L172.8 79.2L172.9 81.6L173 77.1L173.1 81L173.1 76.5L173.2 79L173.3 75.2L173.4 77.1L173.5 74.1L173.6 75.4L173.7 73.6L173.8 74.8L173.9 72.2L173.9 74.6L174 72.2L174.1 73.9L174.2 72L174.3 73.7L174.4 71.5L174.5 74.3L174.6 71.8L174.7 74.1L174.7 72.2L174.8 74.6L174.9 72.1L175 75.3L175.1 73.9L175.2 76.2L175.3 75.2L175.4 77.1L175.4 76.1L175.5 78.3L175.6 78.1L175.7 80.2L175.8 78.4L175.9 82.6L176 79.6L176.1 83.6L176.2 82L176.2 84.3L176.3 82.8L176.4 86.5L176.5 84.9L176.6 87.4L176.7 85.8L176.8 88.7L176.9 87.6L177 89.7L177 88.6L177.1 90.7L177.2 88.8L177.3 91.5L177.4 89.2L177.5 91.1L177.6 88.9L177.7 93L177.8 89.1L177.8 92.1L177.9 88.9L178 91.7L178.1 88L178.2 91.7L178.3 88.2L178.4 90.1L178.5 86.1L178.6 89.5L178.6 85.1L178.7 88.5L178.8 83.3L178.9 88L179 82.3L179.1 85.4L179.2 80.7L179.3 84L179.4 78.8L179.4 82.6L179.5 78.6L179.6 80.5L179.7 76.3L179.8 79L179.9 74.7L180 77.2L180.1 75.2L180.1 75.9L180.2 73.7L180.3 74.8L180.4 73.1L180.5 74.5L180.6 71.7L180.7 74.9L180.8 71.3L180.9 74.5L180.9 70.6L181 74.6L181.1 70.8L181.2 74.5L181.3 71.4L181.4 75.2L181.5 72.7L181.6 75.6L181.7 73.4L181.7 75.8L181.8 74.9L181.9 77.8L182 75.7L182.1 78.8L182.2 75.6L182.3 81.4L182.4 77.7L182.5 83.6L182.5 78.3L182.6 83.8L182.7 80.1L182.8 85.2L182.9 82.2L183 85.9L183.1 84.3L183.2 87.3L183.3 86.8L183.3 88.4L183.4 87.6L183.5 89L183.6 88.2L183.7 90.3L183.8 88.9L183.9 90.6L184 89.5L184.1 90.7L184.1 89.7L184.2 91.3L184.3 90.3L184.4 91.3L184.5 89.3L184.6 91.2L184.7 88.9L184.8 90.3L184.8 88.4L184.9 89.8L185 87.3L185.1 88.9L185.2 86.2L185.3 87.1L185.4 84.6L185.5 86L185.6 83.8L185.6 84.7L185.7 82.1L185.8 82.6L185.9 80.9L186 81.9L186.1 78.6L186.2 80.4L186.3 76.9L186.4 78.9L186.4 75.9L186.5 77.7L186.6 75L186.7 77L186.8 73.7L186.9 75.2L187 72.2L187.1 74.6L187.2 71.9L187.2 74L187.3 71.9L187.4 73.2L187.5 71.8L187.6 74.1L187.7 72L187.8 73.8L187.9 70.8L188 75.4L188 71.4L188.1 75.3L188.2 72.6L188.3 77.7L188.4 73.4L188.5 77.7L188.6 74.5L188.7 79.6L188.8 75.4L188.8 81L188.9 77.9L189 80.6L189.1 78.3L189.2 82.6L189.3 80.9L189.4 84.1L189.5 81.5L189.5 85L189.6 83.7L189.7 87.7L189.8 84.7L189.9 88.1L190 85.6L190.1 90.2L190.2 86.9L190.3 90.1L190.3 87.9L190.4 90.8L190.5 88.8L190.6 92.5L190.7 89.3L190.8 92.2L190.9 88.5L191 92.7L191.1 88.3L191.1 92.2L191.2 88.5L191.3 92.2L191.4 87.3L191.5 90.9L191.6 86.4L191.7 89.7L191.8 86.5L191.9 88.3L191.9 85.2L192 87.1L192.1 84.4L192.2 85.6L192.3 82.1L192.4 83.8L192.5 80.2L192.6 82.8L192.7 79L192.7 81.7L192.8 77L192.9 81.5L193 75.5L193.1 78.9L193.2 75L193.3 78L193.4 73.4L193.5 77.2L193.5 72.8L193.6 76L193.7 71.4L193.8 76L193.9 71.6L194 73.6L194.1 70.9L194.2 73.6L194.2 71.2L194.3 73.8L194.4 72.2L194.5 73.7L194.6 73L194.7 74.9L194.8 73.1L194.9 76L195 74.1L195 76.6L195.1 75.1L195.2 77.9L195.3 76.2L195.4 79.5L195.5 77.4L195.6 81.7L195.7 78.4L195.8 82.1L195.8 79.7L195.9 83.9L196 81.4L196.1 84.8L196.2 81.9L196.3 87.1L196.4 83.7L196.5 87.1L196.6 85.8L196.6 89.1L196.7 87.3L196.8 89.4L196.9 87.3L197 90.3L197.1 88.4L197.2 90.5L197.3 89.5L197.4 91.7L197.4 88.2L197.5 91.9L197.6 88.3L197.7 92.8L197.8 87.9L197.9 92.7L198 86.5L198.1 91.9L198.1 87.4L198.2 90.5L198.3 85.7L198.4 90.1L198.5 84.8L198.6 88.6L198.7 83.5L198.8 87.4L198.9 83.1L198.9 86.4L199 81.1L199.1 83.9L199.2 79.1L199.3 82L199.4 77.6L199.5 81.5L199.6 77.3L199.7 79.9L199.7 75.5L199.8 78.8L199.9 73.8L200 77.9L200.1 73L200.2 75.9L200.3 72L200.4 75.5L200.5 71.7L200.5 75.3L200.6 71.8L200.7 74L200.8 70.9L200.9 74.5L201 71.1L201.1 74.2L201.2 71.4L201.3 74.7L201.3 72.2L201.4 75L201.5 73.3L201.6 76.4L201.7 73.2L201.8 77.7L201.9 75.2L202 79.3L202.1 77L202.1 80.1L202.2 78.3L202.3 81.7L202.4 78.6L202.5 82.6L202.6 80.8L202.7 84.4L202.8 81.9L202.8 86.1L202.9 83.7L203 87.4L203.1 86.1L203.2 88.3L203.3 85.8L203.4 88.9L203.5 87.8L203.6 90.7L203.6 87.9L203.7 92L203.8 89L203.9 92.2L204 89.4L204.1 92.2L204.2 89L204.3 91.3L204.4 89.4L204.4 92.6L204.5 89.2L204.6 91.5L204.7 88L204.8 90.5L204.9 87.4L205 89.2L205.1 86.1L205.2 87.8L205.2 84.2L205.3 86.6L205.4 83.9L205.5 85.2L205.6 82.2L205.7 83.2L205.8 81.2L205.9 83.5L206 80.2L206 81.2L206.1 78L206.2 79.8L206.3 76.6L206.4 78.7L206.5 75.5L206.6 76.4L206.7 73.9L206.8 75.7L206.8 73.1L206.9 75.1L207 72.6L207.1 74.2L207.2 72.2L207.3 74.3L207.4 70.9L207.5 75L207.5 70.6L207.6 73.4L207.7 71.2L207.8 74.3L207.9 71.7L208 75.2L208.1 72.5L208.2 75.6L208.3 74.3L208.3 76.8L208.4 74.6L208.5 78.1L208.6 75.2L208.7 78.9L208.8 76.9L208.9 81.3L209 77.7L209.1 81.5L209.1 79.3L209.2 84.6L209.3 81.1L209.4 85.7L209.5 82.3L209.6 87.4L209.7 83.8L209.8 88.5L209.9 85.6L209.9 90L210 86.7L210.1 90.8L210.2 85.9L210.3 91.3L210.4 86.7L210.5 91.7L210.6 88.1L210.7 91.5L210.7 87.6L210.8 90.9L210.9 87.9L211 90.9L211.1 86.7L211.2 91L211.3 86.6L211.4 90.1L211.5 86.1L211.5 89.1L211.6 85.1L211.7 87.8L211.8 83.8L211.9 86.4L212 83.5L212.1 85.3L212.2 82.7L212.2 84.2L212.3 82L212.4 83.1L212.5 79.7L212.6 81.9L212.7 79.4L212.8 80.3L212.9 77.7L213 79.6L213 76.4L213.1 78.4L213.2 75.9L213.3 78.3L213.4 74.2L213.5 77.8L213.6 74.3L213.7 77.8L213.8 74.1L213.8 77.7L213.9 73.4L214 77.2L214.1 74L214.2 76.3L214.3 74.8L214.4 76.6L214.5 75.1L214.6 77.7L214.6 75.5L214.7 77.9L214.8 75.7L214.9 79.2L215 77.1L215.1 80.5L215.2 77.1L215.3 81.5L215.4 78.8L215.4 81.3L215.5 79.7L215.6 82.4L215.7 80.7L215.8 83.4L215.9 82.1L216 84.5L216.1 82.3L216.2 84.7L216.2 83.3L216.3 85.7L216.4 83.6L216.5 86.2L216.6 84.6L216.7 87.1L216.8 85.2L216.9 89.1L216.9 84.9L217 88.7L217.1 84.7L217.2 88.9L217.3 85.3L217.4 88.8L217.5 85.7L217.6 88.9L217.7 85.2L217.7 88.3L217.8 85L217.9 88L218 84.3L218.1 86.9L218.2 83.5L218.3 86.8L218.4 83.1L218.5 85.5L218.5 81.9L218.6 84.9L218.7 81.6L218.8 84.4L218.9 80.4L219 82.9L219.1 79.7L219.2 81.3L219.3 79.7L219.3 80.3L219.4 78.6L219.5 79.4L219.6 78.3L219.7 79.1L219.8 77.1L219.9 77.6L220 76L220.1 77.4L220.1 76L220.2 76.8L220.3 75.8L220.4 77.6L220.5 74.6L220.6 77.7L220.7 74.1L220.8 77.7L220.9 74.8L220.9 78.1L221 74.5L221.1 78.2L221.2 75.4L221.3 78.9L221.4 75.3L221.5 80.1L221.6 76.2L221.6 80.6L221.7 77.2L221.8 81.4L221.9 78.4L222 81.7L222.1 78.8L222.2 82.8L222.3 80.2L222.4 83.6L222.4 81.1L222.5 83.8L222.6 81.7L222.7 84.7L222.8 83.2L222.9 85.7L223 82.7L223.1 86L223.2 84.7L223.2 87L223.3 84.6L223.4 87.9L223.5 85.9L223.6 88L223.7 86.1L223.8 88L223.9 85.5L224 87.3L224 86.3L224.1 88L224.2 86.2L224.3 87.8L224.4 85.5L224.5 87.3L224.6 85.3L224.7 86.3L224.8 84.4L224.8 86.3L224.9 82.8L225 85.5L225.1 82.7L225.2 84.6L225.3 81.5L225.4 84.4L225.5 81.2L225.6 82.9L225.6 80.2L225.7 81.9L225.8 78.9L225.9 81.5L226 78.5L226.1 81L226.2 76.8L226.3 79.7L226.3 77L226.4 79.2L226.5 76.4L226.6 78.5L226.7 75.3L226.8 78.3L226.9 75L227 77.3L227.1 75.3L227.1 77.1L227.2 75.3L227.3 77.5L227.4 75.2L227.5 77.3L227.6 75.5L227.7 77.5L227.8 76.1L227.9 78L227.9 76.3L228 78.4L228.1 77L228.2 79.9L228.3 77.8L228.4 79.9L228.5 78.4L228.6 82.1L228.7 78.8L228.7 82.9L228.8 79.1L228.9 83.6L229 79.8L229.1 84.1L229.2 81.2L229.3 85.3L229.4 81.8L229.5 85.9L229.5 83.5L229.6 85.8L229.7 83.7L229.8 86.7L229.9 85.3L230 87.4L230.1 84.6L230.2 87.6L230.3 85.8L230.3 88L230.4 86.2L230.5 87.2L230.6 85.9L230.7 88L230.8 85.3L230.9 88.3L231 85L231 87.4L231.1 84.7L231.2 87.1L231.3 84.1L231.4 86.7L231.5 83.1L231.6 86.5L231.7 82.3L231.8 85L231.8 81.9L231.9 84.6L232 81.1L232.1 84L232.2 80.9L232.3 82.5L232.4 79.6L232.5 80.8L232.6 78.9L232.6 80.1L232.7 78.9L232.8 79.8L232.9 77.5L233 78.8L233.1 76.8L233.2 79.3L233.3 76L233.4 77.9L233.4 75.8L233.5 78.3L233.6 74.8L233.7 77.4L233.8 74.3L233.9 78L234 74.6L234.1 77.8L234.2 75.1L234.2 78.3L234.3 75.9L234.4 78.5L234.5 76.4L234.6 78.5L234.7 76.4L234.8 79.8L234.9 77.4L234.9 79.8L235 77.7L235.1 80.3L235.2 79.6L235.3 81.5L235.4 79.3L235.5 82.5L235.6 80.7L235.7 83L235.7 81.5L235.8 83.7L235.9 83.1L236 84.8L236.1 83.1L236.2 85L236.3 84L236.4 86.7L236.5 84.1L236.5 86.8L236.6 85.3L236.7 87.7L236.8 84.9L236.9 87.9L237 85.5L237.1 88.2L237.2 85.4L237.3 87.9L237.3 85.5L237.4 88L237.5 85.9L237.6 87.7L237.7 85.4L237.8 88.2L237.9 84.7L238 86.9L238.1 84.4L238.1 86.7L238.2 83.5L238.3 85.1L238.4 82.9L238.5 84.8L238.6 81.7L238.7 83.5L238.8 81.7L238.9 82.9L238.9 80.8L239 81.7L239.1 79.1L239.2 80.7L239.3 79.1L239.4 80.2L239.5 77.7L239.6 79.1L239.6 77.2L239.7 79.4L239.8 77.1L239.9 79L240 75.2L240.1 78.5L240.2 75.2L240.3 77.9L240.4 75.5L240.4 77.1L240.5 75.3L240.6 77.3L240.7 75.4L240.8 77.6L240.9 75.7L241 77.6L241.1 75.7L241.2 78.3L241.2 76.5L241.3 78.4L241.4 77L241.5 79.5L241.6 77.7L241.7 79.7L241.8 78.7L241.9 81.1L242 78.8L242 82L242.1 79.5L242.2 82.8L242.3 80.4L242.4 83.5L242.5 81.8L242.6 84.1L242.7 82.1L242.8 85.1L242.8 83.7L242.9 85.5L243 84.1L243.1 86.6L243.2 84.5L243.3 87.3L243.4 85.8L243.5 87.7L243.6 85.5L243.6 87.8L243.7 85.3L243.8 88.5L243.9 85L244 88.8L244.1 84.5L244.2 88.5L244.3 84.8L244.3 87.4L244.4 84.1L244.5 87.8L244.6 83.9L244.7 86.7L244.8 83.6L244.9 86.1L245 82.8L245.1 85.1L245.1 82.4L245.2 84.4L245.3 80.8L245.4 83.3L245.5 79.7L245.6 82.9L245.7 79.2L245.8 81.3L245.9 78.6L245.9 81L246 77.8L246.1 80L246.2 77.7L246.3 79.7L246.4 76.6L246.5 78.8L246.6 75.6L246.7 77.3L246.7 75.9L246.8 77.5L246.9 74.4L247 77.9L247.1 74.9L247.2 77.2L247.3 75.1L247.4 77.4L247.5 75.2L247.5 77.2L247.6 75.8L247.7 78L247.8 76.4L247.9 78.2L248 76.7L248.1 79.3L248.2 77.6L248.3 80L248.3 78.5L248.4 80L248.5 79.3L248.6 80.9L248.7 79.9L248.8 82.3L248.9 80.3L249 82.6L249 81.8L249.1 83.7L249.2 82.5L249.3 84.9L249.4 83.2L249.5 85.4L249.6 84L249.7 86.9L249.8 83.9L249.8 87.2L249.9 85.5L250 88.1L250.1 85.6L250.2 88.6L250.3 84.8L250.4 89.3L250.5 85.4L250.6 89L250.6 85.7L250.7 88.8L250.8 85.2L250.9 88.1L251 85.2L251.1 88L251.2 85L251.3 87L251.4 84.4L251.4 85.9L251.5 83L251.6 86L251.7 82L251.8 85.3L251.9 81.1L252 83.5L252.1 81.1L252.2 83.4L252.2 80.1L252.3 82.8L252.4 79.2L252.5 80.9L252.6 78.7L252.7 80.2L252.8 77.8L252.9 78.9L253 77.5L253 78.7L253.1 76.5L253.2 77.3L253.3 76.6L253.4 78.1L253.5 75.3L253.6 77.3L253.7 75.2L253.7 76.6L253.8 75.1L253.9 77.4L254 75.5L254.1 77.4L254.2 75.7L254.3 77.4L254.4 76.1L254.5 78.2L254.5 76.5L254.6 78.6L254.7 77.1L254.8 79.5L254.9 77.9L255 80.6L255.1 77.4L255.2 81.6L255.3 79.4L255.3 83.1L255.4 79.7L255.5 83.2L255.6 80.6L255.7 83L255.8 81.8L255.9 83.6L256 83L256.1 84.6L256.1 83.8L256.2 85.5L256.3 84.4L256.4 86.5L256.5 84.4L256.6 87.3L256.7 85.2L256.8 87.7L256.9 84.8L256.9 87.6L257 85.9L257.1 88.1L257.2 86.1L257.3 88.8L257.4 84.8L257.5 88.6L257.6 85.1L257.7 88L257.7 84.9L257.8 87L257.9 84.7L258 86.3L258.1 83.8L258.2 85.6L258.3 83.8L258.4 85.1L258.4 82L258.5 84.2L258.6 81.6L258.7 83.4L258.8 80.8L258.9 83.1L259 78.9L259.1 82.2L259.2 77.8L259.2 82.1L259.3 77.2L259.4 81L259.5 76.9L259.6 79.5L259.7 75.4L259.8 79.8L259.9 75.9L260 78.7L260 74.7L260.1 77.6L260.2 74.7L260.3 77.6L260.4 74.5L260.5 77.9L260.6 74.9L260.7 77.2L260.8 75.7L260.8 76.9L260.9 76.4L261 77.4L261.1 76.2L261.2 77.7L261.3 77.2L261.4 79L261.5 76.9L261.6 79.4L261.6 78.4L261.7 79.6L261.8 78.1L261.9 81.2L262 79.5L262.1 82.4L262.2 80.2L262.3 83.5L262.4 81.2L262.4 84.1L262.5 81.7L262.6 84.7L262.7 83.1L262.8 85.8L262.9 83.5L263 86.6L263.1 84.5L263.1 87.4L263.2 84.7L263.3 87.5L263.4 85.2L263.5 87.3L263.6 85.1L263.7 88L263.8 85.9L263.9 88.2L263.9 85.8L264 88.1L264.1 85.3L264.2 87.7L264.3 85.1L264.4 88.1L264.5 84.7L264.6 87.2L264.7 84.2L264.7 86.3L264.8 83.7L264.9 86L265 82.1L265.1 84.9L265.2 81.3L265.3 83.9L265.4 80.1L265.5 83.9L265.5 79.8L265.6 83.4L265.7 79L265.8 82.3L265.9 77.6L266 81.7L266.1 77.5L266.2 80.7L266.3 76.6L266.3 79.3L266.4 75.6L266.5 78.9L266.6 75.4L266.7 77.5L266.8 75.1L266.9 77.8L267 76.2L267.1 77.6L267.1 75.4L267.2 77.5L267.3 75.2L267.4 77.1L267.5 75L267.6 77.6L267.7 75.7L267.8 77.8L267.8 75.8L267.9 79.6L268 76L268.1 79.9L268.2 76.7L268.3 80.9L268.4 78L268.5 80.6L268.6 79.6L268.6 81.7L268.7 80L268.8 83.2L268.9 80.9L269 84.1L269.1 81.6L269.2 84.6L269.3 82.1L269.4 85.8L269.4 83L269.5 87.5L269.6 83.5L269.7 87.6L269.8 84L269.9 86.8L270 84.2L270.1 88.1L270.2 86L270.2 87.9L270.3 85.9L270.4 87.9L270.5 86L270.6 87.7L270.7 85.8L270.8 87.3L270.9 86.1L271 86.9L271 86L271.1 86.7L271.2 85L271.3 86.1L271.4 83.9L271.5 85.5L271.6 83L271.7 85.3L271.8 82.8L271.8 84.8L271.9 81.4L272 84L272.1 80.5L272.2 82.9L272.3 79.5L272.4 82.1L272.5 79.2L272.5 80.9L272.6 78.6L272.7 80.1L272.8 78.1L272.9 79.5L273 77.2L273.1 78.8L273.2 76L273.3 79L273.3 75.4L273.4 78.1L273.5 75.5L273.6 77.5L273.7 74.5L273.8 77.5L273.9 75.2L274 78L274.1 74.9L274.1 77.5L274.2 75.3L274.3 77.9L274.4 75.6L274.5 79.4L274.6 76L274.7 79.5L274.8 76.7L274.9 80.2L274.9 77.6L275 81.1L275.1 78.7L275.2 81.9L275.3 79.6L275.4 82.7L275.5 79.8L275.6 84.4L275.7 81L275.7 84.6L275.8 82.1L275.9 85.2L276 82.6L276.1 86.1L276.2 82.8L276.3 86.5L276.4 84.2L276.4 87L276.5 83.5L276.6 88.2L276.7 84.9L276.8 88L276.9 85L277 88.7L277.1 84.9L277.2 88.6L277.2 84.8L277.3 88.3L277.4 85.5L277.5 88.6L277.6 84.6L277.7 88L277.8 84.7L277.9 87L278 84.2L278 87.2L278.1 82.6L278.2 86L278.3 82L278.4 85L278.5 81.4L278.6 83.8L278.7 80.7L278.8 83.6L278.8 80.5L278.9 82.4L279 79.5L279.1 81L279.2 78.6L279.3 79.8L279.4 78.1L279.5 79.3L279.6 77.4L279.6 79L279.7 76.5L279.8 79.1L279.9 75.6L280 78.1L280.1 75.5L280.2 78L280.3 75.5L280.4 77.5L280.4 75.3L280.5 77.2L280.6 75.7L280.7 77.6L280.8 76L280.9 77.4L281 76.2L281.1 78.3L281.1 76.1L281.2 78.7L281.3 77L281.4 79.4L281.5 77.6L281.6 79.8L281.7 79.2L281.8 81.5L281.9 79.3L281.9 81.7L282 79.6L282.1 82.3L282.2 80.8L282.3 83.3L282.4 81.9L282.5 84.5L282.6 82.2L282.7 85.2L282.7 83.3L282.8 86.1L282.9 84.1L283 87L283.1 85.2L283.2 86.9L283.3 84.4L283.4 87.2L283.5 85L283.5 88L283.6 85.2L283.7 87L283.8 85.6L283.9 88.2L284 85.6L284.1 87.9L284.2 85.2L284.3 87.7L284.3 85.4L284.4 87.1L284.5 84.8L284.6 86.4L284.7 84.2L284.8 85.4L284.9 83.3L285 85.1L285.1 82.9L285.1 84.2L285.2 81.9L285.3 83.1L285.4 81.2L285.5 82.6L285.6 80L285.7 81.9L285.8 80L285.8 80.6L285.9 78.6L286 80L286.1 77.5L286.2 79.5L286.3 76.8L286.4 78.3L286.5 76.1L286.6 77.6L286.6 75.6L286.7 77.9L286.8 76L286.9 77.8L287 75L287.1 77.3L287.2 74.7L287.3 77.6L287.4 75.5L287.4 77.1L287.5 75L287.6 77.7L287.7 76.1L287.8 78.1L287.9 77.2L288 79L288.1 77L288.2 79.1L288.2 78.3L288.3 80L288.4 78.4L288.5 80.7L288.6 79.3L288.7 81.9L288.8 80.6L288.9 82.7L289 81.7L289 83.9L289.1 81.9L289.2 84L289.3 82.9L289.4 85.1L289.5 84.2L289.6 86.3L289.7 84.1L289.8 86.4L289.8 85.2L289.9 87.3L290 84.5L290.1 87.5L290.2 85.3L290.3 88.2L290.4 84.7L290.5 87.7L290.5 85.8L290.6 88.8L290.7 86.1L290.8 88.2L290.9 85.8L291 87.1L291.1 85.3L291.2 87.2L291.3 84.4L291.3 86L291.4 84.2L291.5 85.9L291.6 83.1L291.7 84.1L291.8 83L291.9 83L292 81.9L292.1 83.2L292.1 80.8L292.2 83.1L292.3 79.7L292.4 82.1L292.5 78.4L292.6 80.7L292.7 78.1L292.8 80.6L292.9 77.7L292.9 79.6L293 75.9L293.1 79.1L293.2 76L293.3 78L293.4 75.3L293.5 77.7L293.6 74.8L293.7 77.4L293.7 74.9L293.8 78L293.9 74.9L294 78L294.1 75.1L294.2 79.1L294.3 75.6L294.4 77.9L294.5 75.8L294.5 79.4L294.6 76.8L294.7 79.2L294.8 77L294.9 80L295 78.7L295.1 80.3L295.2 78.9L295.2 81.7L295.3 80L295.4 81.9L295.5 81L295.6 83.5L295.7 82.1L295.8 84.2L295.9 83.5L296 84.9L296 82.9L296.1 85.6L296.2 83.5L296.3 87L296.4 84.6L296.5 87L296.6 84.5L296.7 88.1L296.8 85.7L296.8 87.9L296.9 86.3L297 88.2L297.1 86.2L297.2 87.8L297.3 86.2L297.4 87.1L297.5 85.8L297.6 87.6L297.6 85.3L297.7 87.4L297.8 84.5L297.9 86.8L298 83.7L298.1 86.2L298.2 83.8L298.3 85.7L298.4 81.5L298.4 85L298.5 81L298.6 84.1L298.7 80.5L298.8 82.3L298.9 80.1L299 81.5L299.1 79.5L299.2 81L299.2 79L299.3 80.9L299.4 77.1L299.5 79.8L299.6 76.5L299.7 79.3L299.8 76.4L299.9 78.4L299.9 75L300 78.3L300.1 75.3L300.2 77.9L300.3 74.5L300.4 77.2L300.5 74.8L300.6 78.2L300.7 74.9L300.7 77.7L300.8 75.1L300.9 78L301 76.6L301.1 78.5L301.2 76L301.3 79.1L301.4 76.1L301.5 79.9L301.5 77.1L301.6 80.3L301.7 77.7L301.8 81.6L301.9 79.2L302 81.6L302.1 80.2L302.2 82.5L302.3 81.2L302.3 83.6L302.4 81.9L302.5 85L302.6 82.6L302.7 85.5L302.8 83.3L302.9 86.7L303 83.6L303.1 87L303.1 83.7L303.2 87.4L303.3 85.4L303.4 88L303.5 85L303.6 88.6L303.7 85.5L303.8 88.6L303.9 85.6L303.9 88L304 86.4L304.1 87.9L304.2 85.2L304.3 87.7L304.4 85.3L304.5 86.9L304.6 84.3L304.6 86.8L304.7 84.1L304.8 85.4L304.9 83.9L305 84.7L305.1 83L305.2 84.2L305.3 81.4L305.4 82.9L305.4 81.2L305.5 82.5L305.6 79.8L305.7 81.5L305.8 79.2L305.9 81.1L306 78.4L306.1 79.5L306.2 78L306.2 78.8L306.3 76.4L306.4 78.2L306.5 75.5L306.6 77.9L306.7 75.1L306.8 78.7L306.9 75.5L307 78L307 74.1L307.1 77.7L307.2 75L307.3 78.3L307.4 75.3L307.5 79.2L307.6 74.2L307.7 78.7L307.8 75.2L307.8 79.3L307.9 75.9L308 79.9L308.1 76.4L308.2 79.6L308.3 78L308.4 80.8L308.5 78.2L308.6 81.2L308.6 79.3L308.7 82.6L308.8 80.6L308.9 82.9L309 80.9L309.1 84.5L309.2 81.8L309.3 85.3L309.3 82.4L309.4 85.9L309.5 83.5L309.6 86.5L309.7 83.6L309.8 86.7L309.9 84.4L310 88L310.1 84.9L310.1 88.2L310.2 85.4L310.3 88L310.4 85.1L310.5 88.5L310.6 85.4L310.7 87.7L310.8 85.9L310.9 87.8L310.9 85.3L311 87.4L311.1 85.4L311.2 87L311.3 84.1L311.4 86.4L311.5 84.1L311.6 86.3L311.7 82.7L311.7 85L311.8 82.4L311.9 84.3L312 81.6L312.1 82.9L312.2 79.7L312.3 83.2L312.4 79.4L312.5 81.1L312.5 78.8L312.6 81.1L312.7 77.8L312.8 79.1L312.9 77L313 79.4L313.1 76.1L313.2 78.5L313.2 76.2L313.3 78.2L313.4 76.4L313.5 77.7L313.6 75L313.7 77.3L313.8 75.9L313.9 78L314 75.1L314 77.8L314.1 75.1L314.2 77.6L314.3 75.4L314.4 78.2L314.5 75.6L314.6 79.8L314.7 77L314.8 78.8L314.8 77.5L314.9 79.8L315 77.9L315.1 81.2L315.2 78.9L315.3 81.2L315.4 79.5L315.5 82.2L315.6 81.3L315.6 83.6L315.7 81.7L315.8 84.5L315.9 82.7L316 85L316.1 83.4L316.2 85.5L316.3 84.6L316.4 86.2L316.4 84.7L316.5 87L316.6 85.7L316.7 87.3L316.8 85.6L316.9 87.7L317 85.7L317.1 88.7L317.2 84.9L317.2 88.1L317.3 84.8L317.4 87.6L317.5 85L317.6 87.9L317.7 86L317.8 87.2L317.9 84.8L317.9 86.3L318 84.6L318.1 85.5L318.2 84.1L318.3 85.3L318.4 82.5L318.5 84.1L318.6 82.1L318.7 82.9L318.7 80.7L318.8 82.7L318.9 79.9L319 82.4L319.1 79.1L319.2 81.3L319.3 77.7L319.4 81L319.5 77L319.5 79.9L319.6 76.9L319.7 78.8L319.8 75.7L319.9 78.4L320 75.2L320.1 77.6L320.2 74.9L320.3 77L320.3 75.2L320.4 77.4L320.5 75.5L320.6 77.3L320.7 75.2L320.8 78.2L320.9 76.1L321 78.3L321.1 75.8L321.1 78.8L321.2 75.8L321.3 79.3L321.4 76.2L321.5 79.6L321.6 76.7L321.7 80.7L321.8 77.9L321.9 80.9L321.9 80L322 81.5L322.1 81L322.2 82.4L322.3 81.3L322.4 84L322.5 82.7L322.6 84.4L322.6 83.3L322.7 85.2L322.8 83.6L322.9 85.9L323 84.4L323.1 86.4L323.2 84.8L323.3 87.1L323.4 85.6L323.4 87.4L323.5 85.1L323.6 87.7L323.7 85.8L323.8 88.4L323.9 85.3L324 88.3L324.1 86.3L324.2 87.6L324.2 84.7L324.3 88.2L324.4 85L324.5 87.6L324.6 84.5L324.7 85.9L324.8 83.3L324.9 86.2L325 83.2L325 85.2L325.1 82.5L325.2 84.3L325.3 81.6L325.4 82.5L325.5 80.5L325.6 82.4L325.7 79.8L325.8 81.5L325.8 78.7L325.9 80.7L326 77.1L326.1 80.1L326.2 76.7L326.3 80.1L326.4 76.9L326.5 79.4L326.6 75.8L326.6 79.1L326.7 74.4L326.8 79.1L326.9 74.8L327 78.7L327.1 74.7L327.2 77.8L327.3 75.1L327.3 77.7L327.4 75.2L327.5 76.8L327.6 76.3L327.7 77.9L327.8 76.7L327.9 78.2L328 77.1L328.1 79.3L328.1 78L328.2 79.7L328.3 78.2L328.4 81.1L328.5 79.2L328.6 81.2L328.7 79.8L328.8 81.8L328.9 80.3L328.9 83.7L329 81.5L329.1 84.4L329.2 82.6L329.3 85.1L329.4 83.5L329.5 85.7L329.6 83.5L329.7 87.2L329.7 84.7L329.8 86.8L329.9 84.3L330 87.5L330.1 85.2L330.2 87.3L330.3 84.7L330.4 88.3L330.5 85.6L330.5 88.1L330.6 85.6L330.7 88.4L330.8 85.5L330.9 87.4L331 85.1L331.1 87.4L331.2 84.6L331.3 87.5L331.3 84L331.4 85.8L331.5 83L331.6 85.4L331.7 82.9L331.8 84.5L331.9 81.8L332 84L332 81.2L332.1 82.9L332.2 80.8L332.3 81.7L332.4 79.1L332.5 80.4L332.6 79L332.7 79.5L332.8 78.3L332.8 79.2L332.9 77.5L333 78.7L333.1 76.8L333.2 78L333.3 76L333.4 78L333.5 75.5L333.6 77.4L333.6 74.9L333.7 77.3L333.8 75.6L333.9 77.7L334 75.6L334.1 77.3L334.2 75.2L334.3 78.3L334.4 75.9L334.4 78.2L334.5 76.5L334.6 78.7L334.7 76.9L334.8 80L334.9 77.4L335 80.4L335.1 78.7L335.2 80.3L335.2 79.9L335.3 81.3L335.4 80L335.5 82.7L335.6 81L335.7 84.1L335.8 82.6L335.9 83.7L336 82.8L336 84.7L336.1 82.8L336.2 86.2L336.3 83.9L336.4 86.9L336.5 84.1L336.6 87.1L336.7 84.9L336.7 87.6L336.8 85.5L336.9 87.8L337 85.6L337.1 87.6L337.2 85.5L337.3 87.8L337.4 85.8L337.5 87.4L337.5 85.1L337.6 87.4L337.7 84.8L337.8 87.6L337.9 84.9L338 87.2L338.1 83.7L338.2 86.4L338.3 82.8L338.3 85.7L338.4 82L338.5 85.3L338.6 81.8L338.7 82.8L338.8 80.6L338.9 81.9L339 80L339.1 81.3L339.1 79.3L339.2 80.8L339.3 78.2L339.4 80.5L339.5 77.7L339.6 78.9L339.7 76.1L339.8 78.7L339.9 76.3L339.9 78.2L340 75.8L340.1 78.4L340.2 75.6L340.3 77.3L340.4 75.1L340.5 77.7L340.6 74.3L340.7 77.1L340.7 75.7L340.8 77.6L340.9 75.1L341 77.6L341.1 75.9L341.2 78.4L341.3 75.3L341.4 80.1L341.4 76.4L341.5 81L341.6 77.5L341.7 81.3L341.8 78.8L341.9 81.1L342 78.7L342.1 82L342.2 80.3L342.2 82.7L342.3 81.1L342.4 83.8L342.5 81.6L342.6 85.1L342.7 82.9L342.8 86L342.9 83.5L343 87L343 83.1L343.1 87.4L343.2 85L343.3 88.1L343.4 85.3L343.5 87.6L343.6 85.5L343.7 88.2L343.8 87.1L343.8 87.5L343.9 86.4L344 88L344.1 86L344.2 87.5L344.3 85.9L344.4 88.2L344.5 83.9L344.6 87.8L344.6 84.2L344.7 86.6L344.8 82.9L344.9 85.7L345 82.4L345.1 84.8L345.2 82.3L345.3 83.7" stroke="#D95319"/>
<path d="M26.1 76.1L26.2 83.9L26.3 77.5L26.4 83.4L26.5 76L26.6 80.7L26.7 75.3L26.7 80.9L26.8 76.3L26.9 80.1L27 76.8L27.1 80.3L27.2 74.9L27.3 78.8L27.4 75.8L27.5 78.6L27.5 74.7L27.6 79.7L27.7 74L27.8 78.3L27.9 73.5L28 78.5L28.1 73.8L28.2 78.7L28.2 73.6L28.3 77.1L28.4 73.8L28.5 78.3L28.6 73L28.7 78.6L28.8 72.8L28.9 77.9L29 71L29 77.9L29.1 72.2L29.2 78L29.3 72.4L29.4 78.8L29.5 71.6L29.6 77L29.7 73.1L29.8 78.3L29.8 72.9L29.9 77.8L30 74.2L30.1 76.9L30.2 75L30.3 77.7L30.4 75.7L30.5 78L30.6 75.9L30.6 78.7L30.7 75.9L30.8 79.3L30.9 76L31 80.4L31.1 77.6L31.2 81.2L31.3 75.5L31.4 80.3L31.4 75.9L31.5 82.7L31.6 75.9L31.7 82.1L31.8 76.8L31.9 83.5L32 77.7L32.1 84L32.2 78L32.2 83.5L32.3 78.5L32.4 85.1L32.5 80L32.6 84.5L32.7 80.1L32.8 84.5L32.9 81.6L32.9 85.8L33 81.8L33.1 85.2L33.2 83.1L33.3 87.2L33.4 82L33.5 87.5L33.6 83.4L33.7 88.3L33.7 84.3L33.8 88.5L33.9 84.1L34 88.4L34.1 84.3L34.2 88.2L34.3 85.2L34.4 89L34.5 85L34.5 88.7L34.6 84.2L34.7 90.2L34.8 84L34.9 89.8L35 85L35.1 89.3L35.2 84.6L35.3 90.9L35.3 87L35.4 90L35.5 85.1L35.6 89.6L35.7 84.9L35.8 90.9L35.9 84.9L36 89.7L36.1 86.1L36.1 90L36.2 85.7L36.3 89.8L36.4 86.3L36.5 89.5L36.6 85.4L36.7 88.3L36.8 85.4L36.9 88.7L36.9 85.3L37 87L37.1 85.3L37.2 86.9L37.3 85L37.4 87.4L37.5 83.7L37.6 86.9L37.6 82.6L37.7 87.7L37.8 80.9L37.9 87.8L38 82.1L38.1 88.7L38.2 79.5L38.3 85.5L38.4 81L38.4 86.6L38.5 79.6L38.6 86.2L38.7 79.5L38.8 84.4L38.9 79.8L39 84.3L39.1 78.9L39.2 83.6L39.2 79L39.3 83.6L39.4 77.3L39.5 84.3L39.6 76.7L39.7 82.4L39.8 76.5L39.9 82.4L40 76.7L40 81.7L40.1 76.4L40.2 81L40.3 77L40.4 78.8L40.5 76.6L40.6 79.1L40.7 74.1L40.8 79L40.8 75.2L40.9 79.7L41 75L41.1 79.2L41.2 75.3L41.3 77.5L41.4 73.4L41.5 77.5L41.5 74.5L41.6 77L41.7 73.5L41.8 77L41.9 73.8L42 75.9L42.1 73.8L42.2 76.8L42.3 73.9L42.3 76.8L42.4 73L42.5 77.2L42.6 72.1L42.7 77.5L42.8 73.5L42.9 77.8L43 72.7L43.1 76.8L43.1 73.8L43.2 77.7L43.3 74.1L43.4 79.1L43.5 74.4L43.6 78.6L43.7 74.7L43.8 80.2L43.9 74L43.9 80.4L44 74.9L44.1 80.4L44.2 75.2L44.3 80L44.4 75.7L44.5 80.8L44.6 74.6L44.7 82.1L44.7 76.4L44.8 82.1L44.9 77.2L45 81.2L45.1 78.7L45.2 81.9L45.3 78L45.4 81.7L45.5 78.1L45.5 83.9L45.6 78.4L45.7 82.6L45.8 79.6L45.9 83.4L46 80.5L46.1 82.8L46.2 81.6L46.2 85.7L46.3 81.5L46.4 84.9L46.5 83.1L46.6 85.8L46.7 82.8L46.8 87.1L46.9 83.1L47 86.9L47 84.8L47.1 87.9L47.2 82.7L47.3 87.8L47.4 84.6L47.5 89.6L47.6 83.2L47.7 90.4L47.8 83.5L47.8 90.9L47.9 83.1L48 90.4L48.1 84.3L48.2 91.1L48.3 84.1L48.4 90L48.5 85.4L48.6 90.7L48.6 86.8L48.7 91L48.8 85.7L48.9 91.3L49 84.9L49.1 91L49.2 85.8L49.3 90.5L49.4 85.6L49.4 90.1L49.5 84.9L49.6 89.8L49.7 86.5L49.8 90.6L49.9 84.6L50 90.5L50.1 84.6L50.2 89.4L50.2 85.1L50.3 89.9L50.4 84.4L50.5 89.4L50.6 84.1L50.7 88.2L50.8 83.7L50.9 88.5L50.9 81.6L51 88.5L51.1 81.6L51.2 87.3L51.3 81.7L51.4 86.7L51.5 82.3L51.6 86.8L51.7 82.4L51.7 85.9L51.8 80.7L51.9 85L52 80.2L52.1 84.4L52.2 78.4L52.3 84.1L52.4 79.1L52.5 84.4L52.5 79.1L52.6 84.5L52.7 77.2L52.8 82.4L52.9 78.3L53 83.6L53.1 76.4L53.2 81.9L53.3 75.2L53.3 81.5L53.4 76.9L53.5 80.7L53.6 74.5L53.7 81.3L53.8 74.7L53.9 81L54 73.5L54.1 78.5L54.1 74.1L54.2 79.6L54.3 74.2L54.4 77.2L54.5 74L54.6 78.3L54.7 72.6L54.8 77.5L54.9 74.7L54.9 78.1L55 73.2L55.1 78.6L55.2 74.2L55.3 77.8L55.4 72.3L55.5 77.2L55.6 73.6L55.6 77.8L55.7 73.2L55.8 78.4L55.9 73L56 77.1L56.1 72.6L56.2 77.3L56.3 73.5L56.4 76.8L56.4 73.7L56.5 76.8L56.6 74.4L56.7 77.7L56.8 75L56.9 77.9L57 74.9L57.1 78.1L57.2 74.9L57.2 77.8L57.3 75.4L57.4 77.7L57.5 77.1L57.6 79.3L57.7 76.3L57.8 79.9L57.9 76.5L58 80.6L58 76.4L58.1 81.4L58.2 75.9L58.3 82.1L58.4 76.6L58.5 82.5L58.6 79.1L58.7 83.3L58.8 78.6L58.8 84.3L58.9 79.9L59 84.2L59.1 79.5L59.2 85.4L59.3 80.1L59.4 84.7L59.5 81.3L59.6 84.4L59.6 82.4L59.7 86.6L59.8 81.6L59.9 85.8L60 82.5L60.1 88.1L60.2 82.8L60.3 87.2L60.3 83.3L60.4 87.8L60.5 83.9L60.6 87.9L60.7 83L60.8 89.8L60.9 82.9L61 89.3L61.1 84.1L61.1 89.5L61.2 86.5L61.3 89.4L61.4 85.6L61.5 90.5L61.6 84.3L61.7 90.2L61.8 85.3L61.9 89.4L61.9 85.7L62 90.7L62.1 86.4L62.2 90.2L62.3 85.4L62.4 91.8L62.5 84.9L62.6 91.2L62.7 85.6L62.7 90.9L62.8 82.7L62.9 91.6L63 85.3L63.1 89.9L63.2 84.3L63.3 92.2L63.4 84.1L63.5 90L63.5 82.8L63.6 90.9L63.7 84.6L63.8 88.4L63.9 84.7L64 89.6L64.1 83.9L64.2 88.5L64.3 82.9L64.3 88.2L64.4 83.1L64.5 85.8L64.6 81.3L64.7 87.2L64.8 81.9L64.9 86.5L65 81.8L65 85.8L65.1 81.2L65.2 84.4L65.3 81.7L65.4 83.3L65.5 80.3L65.6 83.5L65.7 80.2L65.8 81.5L65.8 79.7L65.9 81.1L66 79.5L66.1 81.3L66.2 78.2L66.3 80.4L66.4 77.8L66.5 81.6L66.6 77.8L66.6 81.5L66.7 75.5L66.8 80.8L66.9 75L67 80.3L67.1 73.7L67.2 80.8L67.3 74.5L67.4 78.6L67.4 74.1L67.5 79.1L67.6 74.1L67.7 78L67.8 73.5L67.9 79L68 73.2L68.1 77.8L68.2 74L68.2 78.8L68.3 73.8L68.4 78.5L68.5 73.7L68.6 78.3L68.7 72.3L68.8 78L68.9 73.8L69 77.1L69 72L69.1 76.7L69.2 73L69.3 77.5L69.4 73L69.5 77.9L69.6 73.8L69.7 77.1L69.7 73.1L69.8 76L69.9 75.3L70 77.9L70.1 74.1L70.2 78.2L70.3 74.1L70.4 79.3L70.5 75.6L70.5 78.7L70.6 74.2L70.7 81.9L70.8 75.5L70.9 80.7L71 75.8L71.1 80.4L71.2 75.2L71.3 80.7L71.3 76.8L71.4 82.3L71.5 75.8L71.6 81.8L71.7 77.8L71.8 81.6L71.9 77.7L72 83.1L72.1 79.1L72.1 83.6L72.2 78.5L72.3 84.2L72.4 78.3L72.5 86L72.6 79.9L72.7 84.7L72.8 80.4L72.9 85.4L72.9 80.8L73 85.2L73.1 81.9L73.2 84.7L73.3 83.1L73.4 85.7L73.5 82.7L73.6 86L73.7 82.9L73.7 88.2L73.8 83.8L73.9 87.7L74 83.9L74.1 89.1L74.2 83.7L74.3 87.8L74.4 85.9L74.4 88.8L74.5 84.5L74.6 89.2L74.7 84.9L74.8 89L74.9 85.3L75 88.9L75.1 85L75.2 89.9L75.2 85.9L75.3 88.5L75.4 85.8L75.5 89.7L75.6 86L75.7 88.4L75.8 87L75.9 89.2L76 86.6L76 88.5L76.1 86.5L76.2 88.8L76.3 85.4L76.4 89.2L76.5 86.5L76.6 88.7L76.7 85.5L76.8 87.9L76.8 86.1L76.9 88L77 85L77.1 88.9L77.2 85.5L77.3 87.2L77.4 84.3L77.5 88L77.6 83.5L77.6 88.5L77.7 83.7L77.8 86.7L77.9 82.1L78 86.9L78.1 81.4L78.2 86.3L78.3 81.2L78.4 85.7L78.4 79.4L78.5 85.2L78.6 80.8L78.7 85.7L78.8 77.6L78.9 84.5L79 79.2L79.1 85.1L79.1 79.4L79.2 82.2L79.3 76.9L79.4 82L79.5 78.6L79.6 83.7L79.7 77.8L79.8 82.5L79.9 76.1L79.9 81.1L80 76.3L80.1 80.9L80.2 76.2L80.3 79.6L80.4 75.4L80.5 79L80.6 75.9L80.7 78.9L80.7 75L80.8 79.8L80.9 74L81 78.5L81.1 71.7L81.2 79.5L81.3 72.9L81.4 79.9L81.5 73.3L81.5 79.1L81.6 72.2L81.7 77.5L81.8 73.4L81.9 77.6L82 72.5L82.1 78L82.2 72L82.3 78.6L82.3 72.6L82.4 77.2L82.5 70.8L82.6 78.3L82.7 73.1L82.8 79L82.9 71.4L83 78L83 72.4L83.1 77.3L83.2 71.7L83.3 78.4L83.4 72.3L83.5 78.6L83.6 74.1L83.7 78.9L83.8 75.4L83.8 78.6L83.9 75.4L84 78.7L84.1 76L84.2 78.7L84.3 75.9L84.4 78.7L84.5 77.3L84.6 80L84.6 76.5L84.7 80.5L84.8 77.7L84.9 80.4L85 79.1L85.1 81.9L85.2 77.7L85.3 81.4L85.4 77.8L85.4 83.1L85.5 78.8L85.6 82.3L85.7 79.8L85.8 83.8L85.9 80.6L86 84.7L86.1 82.1L86.2 85.8L86.2 82.4L86.3 85.3L86.4 81.7L86.5 86.4L86.6 82.2L86.7 85.1L86.8 81.1L86.9 86.5L87 84.2L87 86.3L87.1 83.7L87.2 86.8L87.3 83.9L87.4 86.9L87.5 85.8L87.6 88.5L87.7 84.9L87.7 88.3L87.8 84.6L87.9 89.2L88 84.8L88.1 89.4L88.2 85.7L88.3 91.6L88.4 85.4L88.5 90.1L88.5 84.5L88.6 91.8L88.7 85.8L88.8 91.3L88.9 85.3L89 90.9L89.1 86L89.2 91L89.3 86.3L89.3 89.5L89.4 85.2L89.5 90L89.6 86.1L89.7 90L89.8 85.1L89.9 89.8L90 85.6L90.1 89.3L90.1 85.9L90.2 89.5L90.3 84.3L90.4 89.4L90.5 83.9L90.6 89.9L90.7 83.1L90.8 88.7L90.9 82.3L90.9 87.7L91 83.6L91.1 88L91.2 82.4L91.3 88.2L91.4 82.8L91.5 86.3L91.6 82.6L91.7 85.9L91.7 80.9L91.8 84.3L91.9 81.5L92 84.8L92.1 81L92.2 83.9L92.3 80.7L92.4 83.1L92.4 80.4L92.5 82.2L92.6 80.1L92.7 83.3L92.8 78.1L92.9 82.7L93 77L93.1 82L93.2 76.5L93.2 81.8L93.3 76L93.4 82.5L93.5 74.8L93.6 81.4L93.7 75.7L93.8 80.4L93.9 75.6L94 80.3L94 73.1L94.1 79.2L94.2 74.1L94.3 79L94.4 73.5L94.5 77.6L94.6 73.3L94.7 77.4L94.8 72.8L94.8 78.6L94.9 73.1L95 78.4L95.1 72.3L95.2 77.9L95.3 72.8L95.4 78.7L95.5 73.1L95.6 76.9L95.6 72.2L95.7 77.9L95.8 71.6L95.9 77L96 72.6L96.1 77.8L96.2 72.7L96.3 77.2L96.4 72.6L96.4 77.5L96.5 73.7L96.6 78.9L96.7 73.9L96.8 77.7L96.9 74.8L97 78.4L97.1 74.8L97.1 78.5L97.2 75.8L97.3 79.1L97.4 76.1L97.5 77.9L97.6 76L97.7 79.7L97.8 77.5L97.9 79.8L97.9 77.1L98 80.7L98.1 77.1L98.2 81.7L98.3 77.2L98.4 80.7L98.5 79.2L98.6 83.1L98.7 77.7L98.7 83.9L98.8 79.1L98.9 84L99 78.8L99.1 83.9L99.2 80.3L99.3 83.6L99.4 79.9L99.5 84L99.5 81.6L99.6 85.8L99.7 81.2L99.8 86.6L99.9 80.9L100 87L100.1 81.8L100.2 86.9L100.3 83.4L100.3 88L100.4 84.5L100.5 89.1L100.6 82.9L100.7 87.9L100.8 84.5L100.9 87.2L101 84.5L101.1 88.2L101.1 85L101.2 88.7L101.3 84.5L101.4 89.4L101.5 86.5L101.6 88.8L101.7 84.5L101.8 89.2L101.8 86.1L101.9 89.5L102 86.3L102.1 90.5L102.2 86L102.3 91.3L102.4 85.5L102.5 90.7L102.6 83.8L102.6 90.7L102.7 85.5L102.8 90.3L102.9 84.7L103 89.7L103.1 85.7L103.2 90L103.3 84.5L103.4 88.9L103.4 85.3L103.5 88.2L103.6 85.6L103.7 87.8L103.8 85.8L103.9 87.7L104 85.8L104.1 88.2L104.2 84.4L104.2 87.2L104.3 84.3L104.4 87.1L104.5 82.7L104.6 88.3L104.7 82.3L104.8 86L104.9 82.1L105 85.7L105 80.5L105.1 86.2L105.2 80.8L105.3 85.6L105.4 79.7L105.5 85.4L105.6 79.8L105.7 84L105.8 79.1L105.8 83.8L105.9 78.9L106 82.7L106.1 77.8L106.2 82.6L106.3 78.2L106.4 83.3L106.5 76L106.5 81.2L106.6 74.8L106.7 81.9L106.8 74.6L106.9 79.8L107 74.9L107.1 79.5L107.2 74.6L107.3 79.6L107.3 76.1L107.4 78.7L107.5 74.9L107.6 77.5L107.7 75L107.8 77.7L107.9 74.9L108 76.6L108.1 75.1L108.1 76.4L108.2 75.2L108.3 76.1L108.4 74.2L108.5 77.5L108.6 73.9L108.7 77.3L108.8 73.8L108.9 79L108.9 73L109 77.9L109.1 72.4L109.2 78.1L109.3 71.9L109.4 78.6L109.5 72.8L109.6 77.4L109.7 74L109.7 77.9L109.8 73.7L109.9 77.1L110 74.8L110.1 75.9L110.2 74.7L110.3 77.8L110.4 74.1L110.5 78.6L110.5 75.3L110.6 78.4L110.7 75.8L110.8 79.2L110.9 75.9L111 78.6L111.1 76.5L111.2 79.7L111.2 76.2L111.3 81.3L111.4 77.4L111.5 81.5L111.6 79.2L111.7 82.8L111.8 78.3L111.9 81L112 78L112 82.2L112.1 80.7L112.2 83.8L112.3 78.8L112.4 84.2L112.5 80L112.6 85.2L112.7 80.6L112.8 86L112.8 80.9L112.9 86.1L113 80.2L113.1 87.7L113.2 80.4L113.3 86.3L113.4 82.2L113.5 87.7L113.6 82L113.6 86.9L113.7 83.8L113.8 87.2L113.9 83.9L114 88.4L114.1 84.3L114.2 89.6L114.3 84.9L114.4 88.8L114.4 84.7L114.5 89.5L114.6 84.7L114.7 88.8L114.8 84L114.9 91.1L115 85.3L115.1 89.8L115.2 85.4L115.2 89.3L115.3 85.9L115.4 90.5L115.5 86.9L115.6 89.8L115.7 85.5L115.8 89.4L115.9 87.1L115.9 91.5L116 86L116.1 90.2L116.2 86.6L116.3 90.3L116.4 85.1L116.5 89.2L116.6 86.4L116.7 89.2L116.7 85.6L116.8 88.9L116.9 85L117 88.2L117.1 83.9L117.2 87.7L117.3 85.2L117.4 88.2L117.5 84.3L117.5 85.9L117.6 83.2L117.7 86.4L117.8 83L117.9 86.2L118 83.2L118.1 86.6L118.2 82.3L118.3 84.9L118.3 81.9L118.4 85.5L118.5 81.8L118.6 84.4L118.7 80.7L118.8 84.4L118.9 79.6L119 83.1L119.1 79.1L119.1 84L119.2 79.4L119.3 83.4L119.4 77.5L119.5 82.7L119.6 77.1L119.7 81.6L119.8 76.5L119.8 81L119.9 75.9L120 81.1L120.1 75.8L120.2 81.6L120.3 74.3L120.4 79.4L120.5 74L120.6 80.4L120.6 76.4L120.7 78.7L120.8 76.6L120.9 77.9L121 74.5L121.1 78.1L121.2 74.4L121.3 77.8L121.4 73.8L121.4 77.2L121.5 74.8L121.6 77.3L121.7 73.6L121.8 77.5L121.9 72.8L122 76.9L122.1 72.1L122.2 77.5L122.2 72.9L122.3 78.8L122.4 72.6L122.5 77.6L122.6 71.9L122.7 78.9L122.8 72L122.9 77.8L123 73.2L123 79.2L123.1 73.6L123.2 79.4L123.3 74.1L123.4 78L123.5 74.1L123.6 77.7L123.7 74.2L123.8 77.3L123.8 74.9L123.9 78.3L124 75.8L124.1 77.8L124.2 76.9L124.3 78.4L124.4 76.4L124.5 79.2L124.5 76.3L124.6 80.1L124.7 75.7L124.8 82.6L124.9 77.1L125 83.8L125.1 76.1L125.2 82.9L125.3 77.3L125.3 83.3L125.4 78.8L125.5 82.7L125.6 80.4L125.7 83.4L125.8 80.1L125.9 83.6L126 81.9L126.1 85.3L126.1 82.1L126.2 85.8L126.3 82.1L126.4 85.7L126.5 81.6L126.6 86.6L126.7 82.1L126.8 87.1L126.9 83L126.9 88L127 83.5L127.1 86.8L127.2 83.6L127.3 88.5L127.4 82L127.5 90.3L127.6 84.6L127.7 89L127.7 84.5L127.8 90.6L127.9 84L128 90.6L128.1 84.7L128.2 90.7L128.3 85.5L128.4 91.8L128.5 85.4L128.5 90.8L128.6 84.5L128.7 91.6L128.8 85.2L128.9 90.5L129 85.8L129.1 90.7L129.2 85.3L129.2 90.5L129.3 85.1L129.4 91L129.5 85.3L129.6 92.4L129.7 84.1L129.8 91.6L129.9 85.8L130 90.7L130 84.1L130.1 89.4L130.2 83.6L130.3 88.8L130.4 84L130.5 88.5L130.6 83.9L130.7 88.4L130.8 82.7L130.8 88.1L130.9 83.3L131 86.6L131.1 81L131.2 88.5L131.3 80.9L131.4 88.9L131.5 81L131.6 87.1L131.6 80.3L131.7 85.1L131.8 81L131.9 84.6L132 79.5L132.1 84L132.2 80.5L132.3 82.8L132.4 78.9L132.4 83.1L132.5 80.2L132.6 82.5L132.7 78.5L132.8 82.5L132.9 78.2L133 81L133.1 77L133.2 80.7L133.2 76.6L133.3 81L133.4 76.7L133.5 80.4L133.6 75.3L133.7 80L133.8 75.7L133.9 79.4L133.9 75.2L134 78.9L134.1 73L134.2 80.4L134.3 72.8L134.4 79.5L134.5 73.4L134.6 78.3L134.7 74L134.7 78.7L134.8 71.8L134.9 79.3L135 73.2L135.1 77.7L135.2 72.7L135.3 78.4L135.4 71.6L135.5 78.3L135.5 72.8L135.6 78.4L135.7 71.9L135.8 77.9L135.9 73L136 77.8L136.1 73.6L136.2 76.1L136.3 74.9L136.3 77.9L136.4 75.2L136.5 77.7L136.6 75L136.7 77.2L136.8 74.1L136.9 77.8L137 75.2L137.1 79L137.1 74.9L137.2 79.2L137.3 74.9L137.4 80L137.5 76.3L137.6 81.4L137.7 75.3L137.8 80.9L137.9 76.6L137.9 80.8L138 76.3L138.1 79.8L138.2 76.3L138.3 81.4L138.4 78.5L138.5 82.4L138.6 80.4L138.6 82.9L138.7 78.7L138.8 82.6L138.9 80.8L139 83.9L139.1 80.8L139.2 84.8L139.3 79.7L139.4 86.1L139.4 81.2L139.5 85.5L139.6 80.7L139.7 87.6L139.8 80.8L139.9 87.5L140 82L140.1 88.4L140.2 82.3L140.2 86.5L140.3 81.2L140.4 88.7L140.5 84.4L140.6 88.2L140.7 83.8L140.8 88.6L140.9 84.7L141 88.8L141 86.6L141.1 88.3L141.2 86.6L141.3 88.5L141.4 84.4L141.5 90.1L141.6 84.7L141.7 89.3L141.8 85.1L141.8 89.8L141.9 84.5L142 91.7L142.1 83.4L142.2 89.7L142.3 85.1L142.4 90.9L142.5 84.7L142.6 90L142.6 85.6L142.7 91.5L142.8 84.9L142.9 89.4L143 84.6L143.1 90.5L143.2 84.8L143.3 89.6L143.3 87L143.4 89.7L143.5 84.5L143.6 89.6L143.7 84.3L143.8 87.7L143.9 84.5L144 89.1L144.1 84.9L144.1 88.2L144.2 83.8L144.3 86.6L144.4 83.4L144.5 86.5L144.6 83.5L144.7 86L144.8 81.8L144.9 86.4L144.9 80.2L145 86.3L145.1 80.9L145.2 85.4L145.3 79.6L145.4 84.1L145.5 80.2L145.6 83.9L145.7 80.3L145.7 82.9L145.8 78.9L145.9 82.4L146 78L146.1 80.1L146.2 75.7L146.3 76.8L146.4 72.1L146.5 73.8L146.5 66.7L146.6 67.5L146.7 60.6L146.8 58.9L146.9 52.5L147 50.6L147.1 43.6L147.2 42.3L147.3 36.2L147.3 33.8L147.4 27.9L147.5 26.2L147.6 22.3L147.7 22.7L147.8 19.1L147.9 21.1L148 17.2L148 19.5L148.1 16.4L148.2 20.3L148.3 18.8L148.4 24.1L148.5 22.7L148.6 28.3L148.7 27.7L148.8 33.4L148.8 33.4L148.9 40.2L149 40.2L149.1 47.7L149.2 47.5L149.3 54.8L149.4 54.3L149.5 61.7L149.6 62L149.6 69.5L149.7 69.7L149.8 77L149.9 76.5L150 82.9L150.1 83.3L150.2 90.3L150.3 89L150.4 96.2L150.4 95.3L150.5 101.4L150.6 99.7L150.7 105.7L150.8 104.1L150.9 109L151 107.1L151.1 110.5L151.2 109.4L151.2 111.1L151.3 110.2L151.4 110.8L151.5 109.2L151.6 111.1L151.7 108.7L151.8 109L151.9 106.9L152 108.4L152 104.3L152.1 106.1L152.2 101L152.3 103.3L152.4 98.3L152.5 100L152.6 95.7L152.7 96.4L152.7 92.5L152.8 92.3L152.9 88.5L153 89.9L153.1 87.5L153.2 87.6L153.3 85.3L153.4 85.7L153.5 83.3L153.5 83.6L153.6 81.9L153.7 81.7L153.8 79.3L153.9 79.6L154 77.9L154.1 79L154.2 75.8L154.3 77.8L154.3 74.4L154.4 77.3L154.5 73.6L154.6 76.6L154.7 73L154.8 75.9L154.9 72.6L155 74.9L155.1 71.5L155.1 74.3L155.2 70.9L155.3 74.4L155.4 70.9L155.5 73.7L155.6 70.5L155.7 73.6L155.8 70.1L155.9 72.4L155.9 71.4L156 72.9L156.1 70.7L156.2 72.7L156.3 71.2L156.4 73.7L156.5 72L156.6 75L156.7 72.8L156.7 74.8L156.8 73.4L156.9 76.5L157 75.2L157.1 77.7L157.2 76.1L157.3 79.1L157.4 76.8L157.4 80.3L157.5 77.9L157.6 81.3L157.7 79.2L157.8 81.5L157.9 80L158 84.3L158.1 80.5L158.2 85.1L158.2 82.1L158.3 85.8L158.4 83.7L158.5 87.2L158.6 84.7L158.7 88.5L158.8 85.3L158.9 88L159 85.7L159 88.2L159.1 85.2L159.2 88.8L159.3 85.5L159.4 89L159.5 86.8L159.6 88.5L159.7 86.6L159.8 88.3L159.8 85.5L159.9 87.7L160 85.6L160.1 86.7L160.2 84.1L160.3 85.9L160.4 84.5L160.5 86.6L160.6 83.5L160.6 85.9L160.7 83.6L160.8 85L160.9 81.5L161 85.5L161.1 82.1L161.2 84.5L161.3 80.9L161.3 84.4L161.4 80.6L161.5 83.4L161.6 79L161.7 83L161.8 78.8L161.9 82.2L162 78.4L162.1 80.6L162.1 77.7L162.2 80.5L162.3 77.3L162.4 79.1L162.5 76.8L162.6 79.3L162.7 76.7L162.8 79.3L162.9 76.2L162.9 78.3L163 76.5L163.1 78.1L163.2 74.9L163.3 79.3L163.4 75.2L163.5 78.4L163.6 75.5L163.7 79.1L163.7 75.8L163.8 80.3L163.9 75.1L164 79.2L164.1 75.4L164.2 80.2L164.3 76.3L164.4 81L164.5 77.2L164.5 81.3L164.6 77.8L164.7 82.9L164.8 79.5L164.9 82.7L165 80.1L165.1 83.7L165.2 81.7L165.3 86L165.3 82.6L165.4 86.3L165.5 83.2L165.6 88.2L165.7 84.7L165.8 88.4L165.9 85.4L166 90.1L166 86.2L166.1 90.3L166.2 86.8L166.3 90.3L166.4 87.1L166.5 91.2L166.6 88.1L166.7 91L166.8 88.1L166.8 90.8L166.9 87L167 90.7L167.1 86.8L167.2 89.6L167.3 85.9L167.4 90.1L167.5 84.9L167.6 88.2L167.6 84.3L167.7 87.1L167.8 83.8L167.9 86.3L168 81.8L168.1 84.5L168.2 79.9L168.3 83.3L168.4 79.3L168.4 82.1L168.5 78.2L168.6 79.4L168.7 77.2L168.8 79L168.9 75.1L169 76.9L169.1 73.7L169.2 75.9L169.2 72.6L169.3 75.4L169.4 72.2L169.5 74.9L169.6 71.1L169.7 73.9L169.8 70.5L169.9 74.7L170 71.3L170 74.3L170.1 71.2L170.2 75.1L170.3 71.4L170.4 74.7L170.5 71.8L170.6 75.8L170.7 73.9L170.7 76.1L170.8 74.5L170.9 77.8L171 75.4L171.1 79.5L171.2 77.1L171.3 80.8L171.4 78.6L171.5 82.4L171.5 80.7L171.6 83L171.7 82L171.8 84.2L171.9 83.3L172 84.8L172.1 85.2L172.2 87.3L172.3 85.9L172.3 88L172.4 87.3L172.5 89.4L172.6 87.8L172.7 90.1L172.8 88.2L172.9 91.3L173 89.1L173.1 91.5L173.1 89.4L173.2 91.8L173.3 89.5L173.4 92L173.5 89L173.6 90.8L173.7 89.3L173.8 90.5L173.9 88.8L173.9 89.7L174 87.3L174.1 88.9L174.2 85.8L174.3 88.8L174.4 85L174.5 86.9L174.6 82.5L174.7 84.9L174.7 81.5L174.8 82.6L174.9 80.1L175 82L175.1 78.5L175.2 80.5L175.3 76.7L175.4 79.4L175.4 76.1L175.5 77.8L175.6 74.2L175.7 77.4L175.8 73.1L175.9 75.9L176 72.7L176.1 74.8L176.2 71.6L176.2 73.5L176.3 71.3L176.4 74.1L176.5 71.2L176.6 74.4L176.7 71.5L176.8 73.2L176.9 71.9L177 74L177 72.4L177.1 75.6L177.2 73.8L177.3 76.2L177.4 74.6L177.5 77L177.6 74.7L177.7 78.5L177.8 76.8L177.8 79.7L177.9 77.8L178 81.5L178.1 79.3L178.2 83.2L178.3 80.7L178.4 83.8L178.5 83.8L178.6 86.3L178.6 84.1L178.7 86.5L178.8 84.8L178.9 89.3L179 86L179.1 89.4L179.2 86.8L179.3 90.1L179.4 87.8L179.4 91.6L179.5 88L179.6 91.6L179.7 87.8L179.8 92.6L179.9 88.2L180 92.3L180.1 89L180.1 91.3L180.2 88.4L180.3 91L180.4 87.7L180.5 90.7L180.6 87.2L180.7 89L180.8 85.4L180.9 89.1L180.9 83.9L181 87L181.1 82.7L181.2 85.3L181.3 81.4L181.4 83.7L181.5 80.2L181.6 82.7L181.7 79.1L181.7 81.5L181.8 77.8L181.9 79.8L182 76.1L182.1 78.2L182.2 73L182.3 77.2L182.4 73.1L182.5 77.3L182.5 71.6L182.6 76.6L182.7 71.3L182.8 75.5L182.9 71L183 74.9L183.1 71L183.2 74.8L183.3 70L183.3 74.5L183.4 71.4L183.5 75.5L183.6 71.6L183.7 76.1L183.8 71.2L183.9 76.5L184 72.7L184.1 77.8L184.1 74.1L184.2 79.4L184.3 76.3L184.4 80.7L184.5 77.6L184.6 80.9L184.7 80.3L184.8 82.6L184.8 80.3L184.9 83.3L185 82.3L185.1 85.5L185.2 83.1L185.3 86.9L185.4 84.7L185.5 88L185.6 86L185.6 89.5L185.7 86.5L185.8 91.3L185.9 88.2L186 91.5L186.1 88.9L186.2 90.7L186.3 89.9L186.4 92L186.4 89.1L186.5 91.1L186.6 89.6L186.7 90.9L186.8 89L186.9 91.1L187 87.6L187.1 91.3L187.2 85.8L187.2 90.6L187.3 85.1L187.4 89.3L187.5 84.2L187.6 87.7L187.7 82.9L187.8 86.4L187.9 82.4L188 85.3L188 80.9L188.1 82.7L188.2 79.4L188.3 81.3L188.4 77.5L188.5 79.1L188.6 77.2L188.7 78.1L188.8 75.9L188.8 76.6L188.9 74.7L189 75.7L189.1 73.6L189.2 75.2L189.3 73.6L189.4 73.8L189.5 72.5L189.5 73.7L189.6 72L189.7 73.5L189.8 70.9L189.9 73.9L190 71.6L190.1 74.6L190.2 72L190.3 75.1L190.3 72.3L190.4 75.9L190.5 73.4L190.6 77.5L190.7 73.7L190.8 77.9L190.9 75.5L191 79.5L191.1 76.8L191.1 81.4L191.2 78.5L191.3 82.6L191.4 79.8L191.5 83.5L191.6 81L191.7 85.3L191.8 83.1L191.9 85.8L191.9 84.8L192 87.7L192.1 85.7L192.2 89.2L192.3 87.2L192.4 89.7L192.5 87.8L192.6 91.2L192.7 88.1L192.7 91.5L192.8 89.4L192.9 91.2L193 89.1L193.1 92.5L193.2 89.3L193.3 92.5L193.4 88.3L193.5 92.5L193.5 87.5L193.6 90.9L193.7 87L193.8 90.6L193.9 85.6L194 88.7L194.1 84.6L194.2 88.8L194.2 83.5L194.3 87.2L194.4 82.6L194.5 85.5L194.6 81.2L194.7 84.2L194.8 79.7L194.9 82.6L195 77.2L195 80.8L195.1 77.5L195.2 79.8L195.3 74.9L195.4 79.1L195.5 74.1L195.6 76.7L195.7 73.5L195.8 75.8L195.8 73L195.9 75.2L196 71.9L196.1 74.5L196.2 71.1L196.3 74.2L196.4 71.3L196.5 74L196.6 71.4L196.6 73.7L196.7 72L196.8 75.5L196.9 72.8L197 75.3L197.1 72.7L197.2 75.9L197.3 73.7L197.4 77.2L197.4 75.5L197.5 79.4L197.6 76L197.7 80L197.8 77.7L197.9 81.6L198 78.3L198.1 82.6L198.1 81L198.2 83.8L198.3 83.3L198.4 85L198.5 84.1L198.6 86.5L198.7 85.8L198.8 88.2L198.9 87.1L198.9 89.3L199 87.2L199.1 90.6L199.2 87.2L199.3 91.9L199.4 87.9L199.5 91.7L199.6 88.1L199.7 92.7L199.7 88.9L199.8 91.5L199.9 88.3L200 92.7L200.1 87.3L200.2 91.7L200.3 87.6L200.4 90.6L200.5 86.7L200.5 89.8L200.6 85.3L200.7 88.5L200.8 84.8L200.9 87.8L201 82.7L201.1 85.3L201.2 82L201.3 84.4L201.3 80.3L201.4 82.5L201.5 79.6L201.6 81.3L201.7 78.1L201.8 80.2L201.9 77.4L202 78.2L202.1 75.1L202.1 77.1L202.2 74.4L202.3 76.1L202.4 73.1L202.5 75.5L202.6 72.5L202.7 74.1L202.8 72.4L202.8 74L202.9 71.6L203 74.2L203.1 72.3L203.2 73.7L203.3 71.4L203.4 74.1L203.5 71.8L203.6 75.2L203.6 72.1L203.7 75.7L203.8 74L203.9 76.5L204 74.6L204.1 78.1L204.2 75.4L204.3 79.7L204.4 77.6L204.4 80.9L204.5 78.3L204.6 82.9L204.7 79.8L204.8 84.3L204.9 81.9L205 85.2L205.1 82.9L205.2 86.8L205.2 83.4L205.3 88.4L205.4 85.1L205.5 89L205.6 86.9L205.7 89.7L205.8 87.2L205.9 91.2L206 87.8L206 91.5L206.1 88.5L206.2 93.2L206.3 88.2L206.4 91.9L206.5 88.7L206.6 92.1L206.7 88.6L206.8 91.3L206.8 87.6L206.9 91.5L207 87.6L207.1 90.5L207.2 86.8L207.3 89.5L207.4 85.7L207.5 88.5L207.5 83.9L207.6 88.1L207.7 82.3L207.8 85.4L207.9 81.4L208 83.5L208.1 79.9L208.2 83L208.3 77.4L208.3 80.7L208.4 75.8L208.5 80.3L208.6 74.8L208.7 79L208.8 73.7L208.9 77.3L209 72.7L209.1 76.8L209.1 71.4L209.2 75.1L209.3 70.6L209.4 75L209.5 70.7L209.6 74.9L209.7 70L209.8 75.6L209.9 71.6L209.9 75L210 72.6L210.1 76.2L210.2 73L210.3 75.5L210.4 74.7L210.5 76.5L210.6 74.6L210.7 77L210.7 75.8L210.8 79.1L210.9 77.5L211 79.3L211.1 78L211.2 81.2L211.3 79.7L211.4 82.3L211.5 81.6L211.5 83.5L211.6 82.7L211.7 85.5L211.8 83.3L211.9 85.9L212 84.7L212.1 87L212.2 85.8L212.2 87L212.3 86.2L212.4 88L212.5 87.3L212.6 88.8L212.7 87.3L212.8 89.3L212.9 87.1L213 89.3L213 86.5L213.1 89.4L213.2 86.7L213.3 89.1L213.4 86L213.5 88.1L213.6 85.8L213.7 87.2L213.8 84.8L213.8 87.3L213.9 83.7L214 86.1L214.1 82.9L214.2 85.3L214.3 82L214.4 84.4L214.5 81.6L214.6 83.3L214.6 80.3L214.7 81.5L214.8 79.4L214.9 81.6L215 78.8L215.1 80.3L215.2 77.5L215.3 79.6L215.4 77L215.4 78L215.5 76.3L215.6 77.7L215.7 76L215.8 77.1L215.9 75.8L216 76.7L216.1 75.1L216.2 76.6L216.2 75.3L216.3 77.2L216.4 74.7L216.5 77.1L216.6 74.7L216.7 77.9L216.8 75.2L216.9 78.9L216.9 75.5L217 78.5L217.1 76L217.2 79.8L217.3 77.1L217.4 80.6L217.5 78L217.6 80.7L217.7 79.6L217.7 81.6L217.8 80.2L217.9 82.3L218 81L218.1 83.4L218.2 82.8L218.3 84.5L218.4 83.3L218.5 85.6L218.5 84.4L218.6 85.9L218.7 84.7L218.8 86.3L218.9 85L219 87.7L219.1 85.6L219.2 87.5L219.3 85.5L219.3 87.7L219.4 85.6L219.5 88.1L219.6 86.6L219.7 88.2L219.8 85.4L219.9 87.8L220 85.1L220.1 86.9L220.1 84.2L220.2 87.1L220.3 84.7L220.4 86.5L220.5 84.3L220.6 85.8L220.7 83.6L220.8 84.4L220.9 82.5L220.9 83.8L221 82L221.1 83.7L221.2 81L221.3 81.9L221.4 79.2L221.5 81.9L221.6 78.5L221.6 80.4L221.7 77.8L221.8 79.8L221.9 76.9L222 78.9L222.1 75.8L222.2 78.3L222.3 76.1L222.4 77.8L222.4 75.7L222.5 77L222.6 75.3L222.7 77.4L222.8 75L222.9 78L223 74.6L223.1 78.4L223.2 75.1L223.2 77.9L223.3 75.2L223.4 78.5L223.5 76.1L223.6 79.4L223.7 77.2L223.8 79.6L223.9 77.3L224 80.4L224 78.4L224.1 81.5L224.2 78.7L224.3 81.9L224.4 79.6L224.5 82.4L224.6 81.5L224.7 83.7L224.8 80.8L224.8 85.1L224.9 81.8L225 85.6L225.1 83.1L225.2 86.5L225.3 83.1L225.4 86.2L225.5 84.6L225.6 86.6L225.6 85.3L225.7 87.7L225.8 85.7L225.9 87.7L226 86.1L226.1 87.9L226.2 86.4L226.3 87.5L226.3 86L226.4 87L226.5 85.7L226.6 86.8L226.7 85.6L226.8 86.6L226.9 84.6L227 86L227.1 84.3L227.1 85.9L227.2 83L227.3 85.2L227.4 82.5L227.5 84.2L227.6 81.6L227.7 82.9L227.8 80.2L227.9 82.8L227.9 79.5L228 83.1L228.1 78L228.2 80.3L228.3 77.7L228.4 80.1L228.5 76.8L228.6 79.1L228.7 76.6L228.7 78L228.8 76.3L228.9 77.6L229 76.1L229.1 77.6L229.2 76L229.3 77.2L229.4 75L229.5 77.8L229.5 75.3L229.6 77.9L229.7 75L229.8 77.6L229.9 75.2L230 77.7L230.1 76.3L230.2 79.1L230.3 76.8L230.3 79.3L230.4 78.1L230.5 79.1L230.6 78.3L230.7 80.5L230.8 78.6L230.9 82.1L231 79.1L231 82.9L231.1 79.6L231.2 83.7L231.3 80.8L231.4 84.3L231.5 82L231.6 85.3L231.7 82.5L231.8 85.4L231.8 83.8L231.9 86.3L232 84.3L232.1 86.9L232.2 84.8L232.3 86.9L232.4 85.6L232.5 87.8L232.6 85.6L232.6 87.8L232.7 86.5L232.8 87.4L232.9 85.6L233 88L233.1 85.4L233.2 87.4L233.3 84.8L233.4 88L233.4 83.9L233.5 86.9L233.6 84.3L233.7 87.5L233.8 82.2L233.9 86L234 81.6L234.1 85.2L234.2 81.5L234.2 84.2L234.3 80.7L234.4 83.6L234.5 79.8L234.6 82.6L234.7 78.8L234.8 81.7L234.9 78.4L234.9 81.3L235 77.6L235.1 79.5L235.2 76.9L235.3 79.4L235.4 75.7L235.5 78.2L235.6 75.5L235.7 78.7L235.7 75.2L235.8 78.1L235.9 74.6L236 78L236.1 75L236.2 77.4L236.3 74.8L236.4 78.5L236.5 74.6L236.5 77.8L236.6 75.3L236.7 78.2L236.8 75.9L236.9 78.6L237 76.4L237.1 79.4L237.2 77.4L237.3 80.1L237.3 79.1L237.4 80.4L237.5 79.5L237.6 81.4L237.7 80.3L237.8 82.2L237.9 80.9L238 83.7L238.1 81.9L238.1 84.8L238.2 81.9L238.3 86.2L238.4 83L238.5 86L238.6 83.1L238.7 86.2L238.8 84.8L238.9 87.3L238.9 85.2L239 87.6L239.1 86.1L239.2 88.2L239.3 86.5L239.4 88.3L239.5 85.8L239.6 87.8L239.6 85.8L239.7 88.1L239.8 84.6L239.9 87.5L240 84.5L240.1 87.3L240.2 84.4L240.3 87.1L240.4 84.4L240.4 85.1L240.5 82.8L240.6 85L240.7 82.3L240.8 83.8L240.9 81.3L241 84.1L241.1 80.7L241.2 82.5L241.2 80L241.3 81L241.4 79.1L241.5 80.8L241.6 78.9L241.7 79.2L241.8 78L241.9 79L242 76.1L242 78.2L242.1 76.2L242.2 77.8L242.3 75.8L242.4 77.6L242.5 75.3L242.6 77.8L242.7 75.7L242.8 76.7L242.8 75.7L242.9 77.6L243 75.1L243.1 77.5L243.2 76.6L243.3 77.8L243.4 76.1L243.5 78.5L243.6 76.9L243.6 80.1L243.7 77.1L243.8 79.9L243.9 77.2L244 80.8L244.1 78.2L244.2 83L244.3 80.2L244.3 82.5L244.4 80.2L244.5 83L244.6 81.3L244.7 84.7L244.8 83.2L244.9 84.8L245 83.7L245.1 86.6L245.1 84.4L245.2 86.6L245.3 84.4L245.4 87.7L245.5 84.3L245.6 88L245.7 84.9L245.8 88L245.9 85.9L245.9 87.4L246 86.1L246.1 87.2L246.2 86.4L246.3 87.6L246.4 86L246.5 86.9L246.6 85.5L246.7 87.1L246.7 85.2L246.8 85.9L246.9 84.1L247 86L247.1 83.7L247.2 84.9L247.3 83.3L247.4 84.4L247.5 82.9L247.5 83.3L247.6 82.5L247.7 82.5L247.8 80.6L247.9 81.9L248 79.5L248.1 80.2L248.2 79L248.3 80L248.3 77.8L248.4 79.7L248.5 77.5L248.6 78.7L248.7 75.9L248.8 78.6L248.9 75.7L249 78L249 75.4L249.1 77.2L249.2 75.7L249.3 77.7L249.4 74.9L249.5 78.1L249.6 75.2L249.7 77.5L249.8 75.7L249.8 78.3L249.9 75.8L250 78.4L250.1 75.7L250.2 79.2L250.3 76.8L250.4 80.1L250.5 77.3L250.6 81.6L250.6 77.7L250.7 80.7L250.8 79.3L250.9 82.5L251 79.4L251.1 83.2L251.2 80.7L251.3 83.5L251.4 82L251.4 84.9L251.5 82.8L251.6 85.5L251.7 83.6L251.8 86.1L251.9 84.4L252 86.5L252.1 84.7L252.2 87.2L252.2 84.9L252.3 87.7L252.4 85.3L252.5 87.7L252.6 85.8L252.7 87.8L252.8 85.2L252.9 88.1L253 85.4L253 88.5L253.1 85.6L253.2 87.4L253.3 85.3L253.4 86.9L253.5 84.4L253.6 86.4L253.7 85L253.7 85.4L253.8 83.6L253.9 84.8L254 82.3L254.1 83.1L254.2 82L254.3 83.8L254.4 81L254.5 83.2L254.5 80.2L254.6 81.5L254.7 78.7L254.8 80.9L254.9 77.6L255 80.4L255.1 76.6L255.2 79.3L255.3 75.6L255.3 79.9L255.4 75.3L255.5 78.4L255.6 74.7L255.7 78.9L255.8 74.6L255.9 78.7L256 74.1L256.1 77.4L256.1 75L256.2 78.4L256.3 74.6L256.4 78.3L256.5 74.7L256.6 78L256.7 75.6L256.8 78.5L256.9 76.4L256.9 79L257 77L257.1 80L257.2 78.3L257.3 81L257.4 79.3L257.5 81.6L257.6 80.2L257.7 82.2L257.7 80.6L257.8 83.1L257.9 81.5L258 84.1L258.1 81.5L258.2 84.7L258.3 82.8L258.4 86.4L258.4 83.4L258.5 86.8L258.6 83.9L258.7 87.5L258.8 85L258.9 87.4L259 84.8L259.1 87.2L259.2 85.7L259.2 88L259.3 86L259.4 88L259.5 86.1L259.6 87.6L259.7 85.7L259.8 87.1L259.9 85.5L260 87L260 85.4L260.1 86.2L260.2 84.9L260.3 85.8L260.4 84L260.5 84.8L260.6 83.1L260.7 84.5L260.8 82.2L260.8 83.3L260.9 81.4L261 82.7L261.1 80.7L261.2 80.9L261.3 79.2L261.4 81.6L261.5 78.1L261.6 80.8L261.6 77.4L261.7 79.1L261.8 76.8L261.9 79.1L262 76.6L262.1 78.2L262.2 76.4L262.3 77.7L262.4 75.6L262.4 77.7L262.5 75.5L262.6 78L262.7 76.1L262.8 77.2L262.9 75.1L263 77.2L263.1 75.9L263.1 78.1L263.2 75.9L263.3 78.3L263.4 75.8L263.5 79.3L263.6 76.7L263.7 80L263.8 76.5L263.9 80.8L263.9 77.5L264 81.8L264.1 78.3L264.2 82.6L264.3 79.7L264.4 83.7L264.5 80L264.6 84.5L264.7 80.9L264.7 84.8L264.8 82.9L264.9 84.9L265 83.5L265.1 86L265.2 83.8L265.3 86.6L265.4 84.2L265.5 87L265.5 85.2L265.6 87.4L265.7 85.4L265.8 87.9L265.9 85L266 87.8L266.1 85.5L266.2 87.9L266.3 86L266.3 88.4L266.4 85.5L266.5 88L266.6 85.2L266.7 87.4L266.8 84.3L266.9 86.3L267 83.9L267.1 86.4L267.1 82.9L267.2 84.6L267.3 82.3L267.4 85L267.5 81.7L267.6 83.9L267.7 80.4L267.8 82.8L267.8 79.4L267.9 82.6L268 78.2L268.1 80.9L268.2 77.8L268.3 80.2L268.4 77.3L268.5 78.6L268.6 77.6L268.6 78.3L268.7 76.5L268.8 77.9L268.9 75.7L269 77.5L269.1 75.8L269.2 77.8L269.3 75.2L269.4 78L269.4 74.3L269.5 78.1L269.6 75L269.7 77.6L269.8 75.4L269.9 78L270 76.3L270.1 78.2L270.2 76.5L270.2 78.5L270.3 77.1L270.4 79.1L270.5 78.2L270.6 80.3L270.7 78.9L270.8 80.9L270.9 79.9L271 82.4L271 80.5L271.1 82.6L271.2 81.2L271.3 83.5L271.4 82.9L271.5 85.1L271.6 82.5L271.7 85.5L271.8 83.8L271.8 86.1L271.9 84.8L272 86.1L272.1 84.8L272.2 87.6L272.3 84.8L272.4 88.5L272.5 85.2L272.5 87.4L272.6 85.7L272.7 88.6L272.8 85.6L272.9 87.5L273 85.1L273.1 88L273.2 85.3L273.3 87.5L273.3 85.6L273.4 87.1L273.5 84.9L273.6 86.4L273.7 84.2L273.8 85L273.9 82.5L274 84.5L274.1 82.2L274.1 84.4L274.2 80.8L274.3 83.3L274.4 80.1L274.5 83.2L274.6 78.9L274.7 81.1L274.8 78.5L274.9 80.7L274.9 77.5L275 79.9L275.1 77.2L275.2 79.3L275.3 76L275.4 78.5L275.5 75.6L275.6 78.5L275.7 75.6L275.7 77.6L275.8 74.4L275.9 78.3L276 75L276.1 77.3L276.2 75L276.3 77.8L276.4 75.3L276.4 77.9L276.5 76L276.6 78L276.7 76.3L276.8 78.5L276.9 77.2L277 79.2L277.1 77.5L277.2 79.8L277.2 78.2L277.3 80L277.4 79.6L277.5 82.1L277.6 80.5L277.7 82.8L277.8 80.5L277.9 83.7L278 81.4L278 84.3L278.1 82.7L278.2 85.3L278.3 82.4L278.4 86.1L278.5 83.9L278.6 86.8L278.7 85.1L278.8 87.1L278.8 84.5L278.9 88.5L279 85.3L279.1 88.1L279.2 85.5L279.3 88.3L279.4 85.6L279.5 89L279.6 85.4L279.6 88.5L279.7 84.9L279.8 88L279.9 84.9L280 87.4L280.1 84L280.2 86.9L280.3 83.7L280.4 85.8L280.4 83.4L280.5 84.9L280.6 82.1L280.7 84.4L280.8 81.4L280.9 83.8L281 80.7L281.1 82.7L281.1 80.3L281.2 81.7L281.3 78.9L281.4 80.8L281.5 78.2L281.6 80L281.7 78.2L281.8 79.5L281.9 76.3L281.9 78.8L282 75.9L282.1 77.7L282.2 75.7L282.3 77.8L282.4 75.6L282.5 77.4L282.6 75.5L282.7 77.6L282.7 75.1L282.8 77.6L282.9 75.2L283 77.8L283.1 75.3L283.2 78.7L283.3 75.2L283.4 78.8L283.5 75.9L283.5 79.4L283.6 76.7L283.7 79.5L283.8 78.4L283.9 80.2L284 78.2L284.1 81.5L284.2 78.8L284.3 82.2L284.3 79.5L284.4 83.2L284.5 80L284.6 84L284.7 80.5L284.8 84.8L284.9 82.9L285 86.7L285.1 82.4L285.1 87.6L285.2 84.2L285.3 87.4L285.4 84.5L285.5 87.2L285.6 84.7L285.7 87.9L285.8 85L285.8 88.1L285.9 85.5L286 87.3L286.1 86.1L286.2 87.6L286.3 85.7L286.4 87.8L286.5 86.2L286.6 87.6L286.6 85.5L286.7 87.1L286.8 84.6L286.9 86.6L287 83.7L287.1 85.9L287.2 82.6L287.3 84.4L287.4 82L287.4 83.9L287.5 80.7L287.6 83.1L287.7 79.9L287.8 82.5L287.9 79.7L288 81.6L288.1 79.1L288.2 80.1L288.2 78.3L288.3 79.2L288.4 77.5L288.5 78.5L288.6 77.1L288.7 78.1L288.8 76.2L288.9 78.1L289 75.7L289 77.6L289.1 75.7L289.2 77.4L289.3 75.4L289.4 77.1L289.5 75.1L289.6 77.6L289.7 75.6L289.8 78.1L289.8 76L289.9 78.3L290 75.5L290.1 78.7L290.2 76.7L290.3 79.3L290.4 77.2L290.5 80.3L290.5 77.5L290.6 81.7L290.7 78.5L290.8 81.8L290.9 79.3L291 83.7L291.1 80.2L291.2 83.2L291.3 81.6L291.3 84.7L291.4 82.1L291.5 84.9L291.6 82.8L291.7 85.9L291.8 83.4L291.9 86.5L292 84.9L292.1 87.4L292.1 84.9L292.2 87.6L292.3 85.1L292.4 87.7L292.5 84.9L292.6 88L292.7 85.1L292.8 88.6L292.9 85.8L292.9 87.4L293 85.6L293.1 86.9L293.2 85.4L293.3 87L293.4 84.6L293.5 86.7L293.6 84.8L293.7 86.1L293.7 83.3L293.8 85.4L293.9 83.1L294 84.9L294.1 82L294.2 83.8L294.3 80.8L294.4 82.8L294.5 79.2L294.5 82.4L294.6 78.7L294.7 81.7L294.8 77.8L294.9 80.6L295 77.6L295.1 79.7L295.2 76.4L295.2 79.1L295.3 75.9L295.4 79.2L295.5 75.5L295.6 77.8L295.7 75.2L295.8 77.9L295.9 74.9L296 77.9L296 75L296.1 77.1L296.2 75.6L296.3 77.9L296.4 75.4L296.5 78.2L296.6 75.4L296.7 78.4L296.8 76.8L296.8 79.3L296.9 77.1L297 79.4L297.1 78L297.2 80L297.3 79.1L297.4 81.2L297.5 79.7L297.6 81L297.6 80.4L297.7 82.6L297.8 81.6L297.9 83.3L298 82.2L298.1 84.3L298.2 83L298.3 84.5L298.4 84L298.4 85.7L298.5 84.4L298.6 86.2L298.7 84.6L298.8 86.7L298.9 85.2L299 87.9L299.1 85.2L299.2 88.2L299.2 86.1L299.3 88.1L299.4 86.2L299.5 87.7L299.6 85.9L299.7 87.6L299.8 85.5L299.9 87.2L299.9 84.6L300 86.4L300.1 84.2L300.2 86.4L300.3 84.4L300.4 85.8L300.5 83.5L300.6 84.7L300.7 82.6L300.7 84.2L300.8 81.7L300.9 83.2L301 81.2L301.1 82.4L301.2 80.1L301.3 81.5L301.4 78.6L301.5 80.7L301.5 78.2L301.6 79.8L301.7 77L301.8 78.5L301.9 76.6L302 78.5L302.1 76.7L302.2 77.9L302.3 76.4L302.3 77.1L302.4 75.7L302.5 76.9L302.6 75.7L302.7 76.7L302.8 75.4L302.9 77.6L303 76.1L303.1 78L303.1 75.6L303.2 77.6L303.3 76.2L303.4 78.7L303.5 76L303.6 78.8L303.7 76.9L303.8 79.6L303.9 77L303.9 81L304 77.9L304.1 82.2L304.2 79.3L304.3 82.4L304.4 79.5L304.5 83.1L304.6 80.2L304.6 84.2L304.7 81.4L304.8 85.3L304.9 82.6L305 85.8L305.1 83.7L305.2 85.9L305.3 83.9L305.4 86.9L305.4 84.5L305.5 87.1L305.6 85.1L305.7 88L305.8 85.2L305.9 88.2L306 85.3L306.1 87.7L306.2 85.2L306.2 88.3L306.3 85.3L306.4 87.9L306.5 85.3L306.6 86.9L306.7 84.9L306.8 86.6L306.9 85L307 86L307 83.7L307.1 85L307.2 83L307.3 84.9L307.4 82.4L307.5 84.2L307.6 80.7L307.7 83.5L307.8 79.3L307.8 82.7L307.9 78.9L308 81.3L308.1 78.2L308.2 81L308.3 78.3L308.4 79.2L308.5 77.4L308.6 79L308.6 76.8L308.7 78.2L308.8 76.4L308.9 77.6L309 76.1L309.1 76.7L309.2 74.9L309.3 77L309.3 75.6L309.4 76.8L309.5 75.8L309.6 77.5L309.7 75.9L309.8 77.6L309.9 76.2L310 78.8L310.1 76L310.1 80.2L310.2 75.5L310.3 80.4L310.4 77.1L310.5 80L310.6 78L310.7 80.7L310.8 79L310.9 81.7L310.9 79.7L311 82.7L311.1 81.1L311.2 83.2L311.3 81.6L311.4 84.4L311.5 82.6L311.6 84.5L311.7 83.9L311.7 86.3L311.8 84.5L311.9 86.6L312 84.4L312.1 86.4L312.2 85.2L312.3 87.7L312.4 85.4L312.5 87.9L312.5 85.9L312.6 88.7L312.7 85.3L312.8 88.6L312.9 85.1L313 87.3L313.1 85.4L313.2 88.4L313.2 84.7L313.3 87.9L313.4 83.7L313.5 86.4L313.6 83.7L313.7 86.6L313.8 83.1L313.9 85.4L314 82.4L314 85L314.1 81.9L314.2 83.5L314.3 81.1L314.4 82.8L314.5 80L314.6 82.4L314.7 79.2L314.8 81L314.8 78.3L314.9 79.8L315 77.5L315.1 79.6L315.2 76.4L315.3 78.7L315.4 76L315.5 77.9L315.6 75.5L315.6 77.8L315.7 74.7L315.8 78.6L315.9 74.7L316 77.8L316.1 74.6L316.2 76.9L316.3 75.4L316.4 77.1L316.4 75.3L316.5 77.5L316.6 76.3L316.7 78.4L316.8 77L316.9 78.4L317 77.6L317.1 79.4L317.2 77.3L317.2 80.8L317.3 77.9L317.4 81.8L317.5 78.5L317.6 82.8L317.7 80L317.8 83.5L317.9 80.9L317.9 84.2L318 81.2L318.1 85.8L318.2 82.8L318.3 85.8L318.4 82.9L318.5 86.9L318.6 83.8L318.7 87.8L318.7 84.9L318.8 87.7L318.9 84.8L319 87.6L319.1 85.3L319.2 87.7L319.3 85.7L319.4 88L319.5 85.2L319.5 87.8L319.6 85.2L319.7 88.2L319.8 85.7L319.9 87.9L320 84.6L320.1 87.4L320.2 84.4L320.3 86.8L320.3 84.1L320.4 86.4L320.5 82.6L320.6 86.4L320.7 81.4L320.8 85L320.9 80.9L321 83.5L321.1 80.3L321.1 81.9L321.2 80.3L321.3 80.6L321.4 79.2L321.5 80.3L321.6 78.2L321.7 79.5L321.8 77.2L321.9 78.3L321.9 77L322 78.1L322.1 76.8L322.2 77.8L322.3 76.3L322.4 76.8L322.5 75.3L322.6 77.4L322.6 75.4L322.7 77.8L322.8 75.2L322.9 78.2L323 75.1L323.1 78L323.2 75.1L323.3 77.6L323.4 75.7L323.4 78.5L323.5 76.3L323.6 79.4L323.7 76.7L323.8 80.1L323.9 77.8L324 81.2L324.1 78.8L324.2 81.3L324.2 79.4L324.3 81.7L324.4 81.2L324.5 82.5L324.6 81.9L324.7 84L324.8 82.8L324.9 84.9L325 83.8L325 86.7L325.1 83.1L325.2 86.9L325.3 84.3L325.4 88.1L325.5 84.5L325.6 87.2L325.7 85.3L325.8 88.7L325.8 85.7L325.9 88.4L326 85.5L326.1 87.8L326.2 85.7L326.3 87.9L326.4 86L326.5 87.5L326.6 85.3L326.6 87.1L326.7 85.6L326.8 86.3L326.9 84.9L327 86.5L327.1 84.2L327.2 85.6L327.3 82.7L327.3 84.8L327.4 81.5L327.5 83.7L327.6 80.7L327.7 83.1L327.8 79.7L327.9 82.4L328 78.7L328.1 81.4L328.1 78.6L328.2 80.2L328.3 78L328.4 80.2L328.5 76.5L328.6 79.1L328.7 76.5L328.8 78.7L328.9 76.4L328.9 77.8L329 76.6L329.1 77.5L329.2 75.4L329.3 77L329.4 75.3L329.5 77.3L329.6 75.4L329.7 77.7L329.7 76.3L329.8 77.7L329.9 75.7L330 78.4L330.1 76.5L330.2 78.3L330.3 76.9L330.4 79.2L330.5 78L330.5 80.7L330.6 78.4L330.7 80.3L330.8 79.9L330.9 81.6L331 80.4L331.1 83.3L331.2 80.8L331.3 82.9L331.3 82.1L331.4 84.5L331.5 83.7L331.6 84.2L331.7 83.7L331.8 85.9L331.9 84.2L332 86.8L332 84.8L332.1 87.2L332.2 84.9L332.3 87.9L332.4 85L332.5 87.8L332.6 85.5L332.7 87.4L332.8 85.9L332.8 88.1L332.9 85.9L333 87.5L333.1 85.2L333.2 87.8L333.3 85.9L333.4 87.3L333.5 84.5L333.6 86.1L333.6 84.5L333.7 85.6L333.8 83.7L333.9 85L334 82.1L334.1 84.2L334.2 80.9L334.3 83.8L334.4 80.6L334.4 82.2L334.5 79.9L334.6 81.8L334.7 78.7L334.8 80.4L334.9 77.9L335 79.7L335.1 77.4L335.2 79.2L335.2 77.3L335.3 78.1L335.4 76.1L335.5 77.7L335.6 76.2L335.7 77.3L335.8 76L335.9 77.5L336 75.9L336 76.8L336.1 75.7L336.2 77.7L336.3 76L336.4 76.9L336.5 75.6L336.6 77.4L336.7 75.9L336.7 78.3L336.8 76.8L336.9 78.9L337 77.1L337.1 79.4L337.2 78.1L337.3 79.8L337.4 79.5L337.5 81.1L337.5 80.7L337.6 82L337.7 81.1L337.8 82.6L337.9 80.8L338 84L338.1 82.6L338.2 85.6L338.3 82.7L338.3 86L338.4 83.4L338.5 86.7L338.6 84L338.7 86.9L338.8 84.2L338.9 87.7L339 85.4L339.1 88.2L339.1 85.3L339.2 88.1L339.3 86.1L339.4 87.3L339.5 86.4L339.6 87.2L339.7 86.1L339.8 86.8L339.9 85.7L339.9 87L340 85.4L340.1 86.1L340.2 84.3L340.3 86.2L340.4 83.4L340.5 85L340.6 82.8L340.7 85.6L340.7 81.1L340.8 84L340.9 81L341 83.7L341.1 80.1L341.2 81.9L341.3 78.5L341.4 81.5L341.4 78.3L341.5 80.7L341.6 77.7L341.7 79.2L341.8 77.6L341.9 79.1L342 76.9L342.1 77.5L342.2 75.9L342.2 77.7L342.3 75.6L342.4 77.4L342.5 75.7L342.6 78.1L342.7 75.7L342.8 77.6L342.9 74.6L343 77.4L343 75.5L343.1 78L343.2 75.9L343.3 78.4L343.4 76.3L343.5 78.6L343.6 76.3L343.7 79.3L343.8 77.5L343.8 80.1L343.9 78.4L344 80.7L344.1 79.6L344.2 81L344.3 80.8L344.4 82.1L344.5 81.5L344.6 82.7L344.6 82L344.7 83.8L344.8 82.1L344.9 85.6L345 82.9L345.1 86.7L345.2 84.1L345.3 86.9" stroke="#EDB120"/>
</g>
<text transform="translate(26.0 12.7) scale(0.92 1)" text-anchor="end" font-size="9.0" fill="#1c1c1c" stroke="#1c1c1c" stroke-width="0.12">60</text>
<text transform="translate(26.0 36.7) scale(0.92 1)" text-anchor="end" font-size="9.0" fill="#1c1c1c" stroke="#1c1c1c" stroke-width="0.12">40</text>
<text transform="translate(26.0 60.8) scale(0.92 1)" text-anchor="end" font-size="9.0" fill="#1c1c1c" stroke="#1c1c1c" stroke-width="0.12">20</text>
<text transform="translate(26.0 86.4) scale(0.92 1)" text-anchor="end" font-size="9.0" fill="#1c1c1c" stroke="#1c1c1c" stroke-width="0.12">0</text>
<text transform="translate(26.0 108.8) scale(0.92 1)" text-anchor="end" font-size="9.0" fill="#1c1c1c" stroke="#1c1c1c" stroke-width="0.12">-20</text>
<text transform="translate(26.0 132.9) scale(0.92 1)" text-anchor="end" font-size="9.0" fill="#1c1c1c" stroke="#1c1c1c" stroke-width="0.12">-40</text>
<text transform="translate(26.0 156.9) scale(0.92 1)" text-anchor="end" font-size="9.0" fill="#1c1c1c" stroke="#1c1c1c" stroke-width="0.12">-60</text>
<text transform="translate(74.7 161.3) scale(0.92 1)" text-anchor="middle" font-size="9.0" fill="#1c1c1c" stroke="#1c1c1c" stroke-width="0.12">0.45</text>
<text transform="translate(140.2 161.3) scale(0.92 1)" text-anchor="middle" font-size="9.0" fill="#1c1c1c" stroke="#1c1c1c" stroke-width="0.12">0.5</text>
<text transform="translate(204.4 161.3) scale(0.92 1)" text-anchor="middle" font-size="9.0" fill="#1c1c1c" stroke="#1c1c1c" stroke-width="0.12">0.55</text>
<text transform="translate(268.1 161.3) scale(0.92 1)" text-anchor="middle" font-size="9.0" fill="#1c1c1c" stroke="#1c1c1c" stroke-width="0.12">0.6</text>
<text transform="translate(331.2 161.3) scale(0.92 1)" text-anchor="middle" font-size="9.0" fill="#1c1c1c" stroke="#1c1c1c" stroke-width="0.12">0.65</text>
<rect x="224" y="60" width="99" height="10.5" fill="#ffffff"/>
<text transform="translate(226.0 68.0) scale(0.90 1)" text-anchor="start" font-size="9.0" fill="#1c1c1c" stroke="#1c1c1c" stroke-width="0.12">3-phase motor currents [A]</text>
<line x1="410.9" y1="1.5" x2="410.9" y2="153.8" stroke="#eeeeee" stroke-width="0.90"/>
<line x1="475.4" y1="1.5" x2="475.4" y2="153.8" stroke="#eeeeee" stroke-width="0.90"/>
<line x1="540.0" y1="1.5" x2="540.0" y2="153.8" stroke="#eeeeee" stroke-width="0.90"/>
<line x1="604.5" y1="1.5" x2="604.5" y2="153.8" stroke="#eeeeee" stroke-width="0.90"/>
<line x1="669.0" y1="1.5" x2="669.0" y2="153.8" stroke="#eeeeee" stroke-width="0.90"/>
<line x1="357.5" y1="12.2" x2="680.3" y2="12.2" stroke="#eeeeee" stroke-width="0.90"/>
<line x1="357.5" y1="43.8" x2="680.3" y2="43.8" stroke="#eeeeee" stroke-width="0.90"/>
<line x1="357.5" y1="75.3" x2="680.3" y2="75.3" stroke="#eeeeee" stroke-width="0.90"/>
<line x1="357.5" y1="106.8" x2="680.3" y2="106.8" stroke="#eeeeee" stroke-width="0.90"/>
<line x1="357.5" y1="138.4" x2="680.3" y2="138.4" stroke="#eeeeee" stroke-width="0.90"/>
<line x1="357.5" y1="1.7" x2="680.3" y2="1.7" stroke="#d2d2d2" stroke-width="2.00"/>
<line x1="357.5" y1="153.8" x2="680.3" y2="153.8" stroke="#dcdcdc" stroke-width="1.00"/>
<line x1="680.3" y1="1.5" x2="680.3" y2="153.8" stroke="#868686" stroke-width="1.00"/>
<line x1="357.5" y1="1.5" x2="357.5" y2="153.8" stroke="#868686" stroke-width="1.00"/>
<line x1="411.5" y1="150.6" x2="411.5" y2="153.8" stroke="#747474" stroke-width="1.00"/>
<line x1="411.5" y1="1.5" x2="411.5" y2="4.7" stroke="#747474" stroke-width="1.00"/>
<line x1="475.5" y1="150.6" x2="475.5" y2="153.8" stroke="#747474" stroke-width="1.00"/>
<line x1="475.5" y1="1.5" x2="475.5" y2="4.7" stroke="#747474" stroke-width="1.00"/>
<line x1="540.5" y1="150.6" x2="540.5" y2="153.8" stroke="#747474" stroke-width="1.00"/>
<line x1="540.5" y1="1.5" x2="540.5" y2="4.7" stroke="#747474" stroke-width="1.00"/>
<line x1="604.5" y1="150.6" x2="604.5" y2="153.8" stroke="#747474" stroke-width="1.00"/>
<line x1="604.5" y1="1.5" x2="604.5" y2="4.7" stroke="#747474" stroke-width="1.00"/>
<line x1="669.5" y1="150.6" x2="669.5" y2="153.8" stroke="#747474" stroke-width="1.00"/>
<line x1="669.5" y1="1.5" x2="669.5" y2="4.7" stroke="#747474" stroke-width="1.00"/>
<line x1="359.7" y1="12.5" x2="360.7" y2="12.5" stroke="#747474" stroke-width="1.00"/>
<line x1="677.1" y1="12.5" x2="680.3" y2="12.5" stroke="#747474" stroke-width="1.00"/>
<line x1="359.7" y1="43.5" x2="360.7" y2="43.5" stroke="#747474" stroke-width="1.00"/>
<line x1="677.1" y1="43.5" x2="680.3" y2="43.5" stroke="#747474" stroke-width="1.00"/>
<line x1="359.7" y1="75.5" x2="360.7" y2="75.5" stroke="#747474" stroke-width="1.00"/>
<line x1="677.1" y1="75.5" x2="680.3" y2="75.5" stroke="#747474" stroke-width="1.00"/>
<line x1="359.7" y1="106.5" x2="360.7" y2="106.5" stroke="#747474" stroke-width="1.00"/>
<line x1="677.1" y1="106.5" x2="680.3" y2="106.5" stroke="#747474" stroke-width="1.00"/>
<line x1="359.7" y1="138.5" x2="360.7" y2="138.5" stroke="#747474" stroke-width="1.00"/>
<line x1="677.1" y1="138.5" x2="680.3" y2="138.5" stroke="#747474" stroke-width="1.00"/>
<g clip-path="url(#ctr)" fill="none" stroke-linejoin="round" stroke-width="0.65" stroke-opacity="0.85">
<path d="M357.5 138.18L357.86 138.04L358.22 138.38L358.58 138.53L358.94 138.35L359.3 137.86L359.65 138.57L360.01 138.56L360.37 138.3L360.73 138.45L361.09 138.57L361.45 138.32L361.81 138.32L362.17 138.44L362.53 138.5L362.89 138.39L363.25 138.45L363.6 138.44L363.96 138.45L364.32 138.45L364.68 138.29L365.04 138.17L365.4 138.34L365.76 138.3L366.12 138.15L366.48 138.56L366.84 138.31L367.19 138.51L367.55 138.3L367.91 138.43L368.27 138.44L368.63 138.44L368.99 138.38L369.35 138.37L369.71 138.39L370.07 138.73L370.43 138.56L370.79 138.31L371.14 138.38L371.5 138.26L371.86 138.6L372.22 138.5L372.58 138.38L372.94 138.26L373.3 138.28L373.66 138.35L374.02 138.34L374.38 138.36L374.74 138.37L375.09 138.25L375.45 138.42L375.81 138.39L376.17 138.48L376.53 138.24L376.89 138.49L377.25 138.52L377.61 138.44L377.97 138.3L378.33 138.3L378.68 138.39L379.04 138.44L379.4 138.46L379.76 138.4L380.12 138.2L380.48 138.36L380.84 138.39L381.2 138.33L381.56 138.44L381.92 138.53L382.28 138.26L382.63 138.46L382.99 138.3L383.35 138.29L383.71 138.36L384.07 138.62L384.43 138.47L384.79 138.37L385.15 138.54L385.51 138.41L385.87 138.45L386.23 138.27L386.58 138.27L386.94 138.22L387.3 138.51L387.66 138.23L388.02 138.56L388.38 138.23L388.74 138.39L389.1 138.42L389.46 138.25L389.82 138.15L390.17 138.33L390.53 138.59L390.89 138.56L391.25 138.24L391.61 138.4L391.97 138.37L392.33 138.53L392.69 138.44L393.05 138.29L393.41 138.67L393.77 138.49L394.12 138.3L394.48 138.54L394.84 138.5L395.2 138.55L395.56 138.26L395.92 138.42L396.28 138.32L396.64 138.38L397 138.37L397.36 138.45L397.72 138.28L398.07 138.52L398.43 138.35L398.79 138.45L399.15 138.39L399.51 138.43L399.87 138.49L400.23 138.35L400.59 138.5L400.95 138.35L401.31 138.45L401.67 138.38L402.02 138.31L402.38 138.13L402.74 138.3L403.1 138.32L403.46 138.34L403.82 138.55L404.18 138.28L404.54 138.47L404.9 138.71L405.26 138.29L405.61 138.45L405.97 138.49L406.33 138.4L406.69 138.42L407.05 138.48L407.41 138.69L407.77 138.31L408.13 138.46L408.49 138.42L408.85 138.65L409.21 138.59L409.56 138.64L409.92 138.47L410.28 138.45L410.64 138.41L411 138.36L411.36 138.31L411.72 138.44L412.08 138.49L412.44 138.44L412.8 138.21L413.16 138.46L413.51 138.73L413.87 138.39L414.23 138.27L414.59 138.56L414.95 138.28L415.31 138.42L415.67 138.44L416.03 138.34L416.39 138.29L416.75 138.44L417.1 138.26L417.46 138.45L417.82 138.46L418.18 138.27L418.54 138.49L418.9 138.25L419.26 138.43L419.62 138.31L419.98 138.25L420.34 138.34L420.7 138.42L421.05 138.49L421.41 138.47L421.77 138.3L422.13 138.39L422.49 138.08L422.85 138.5L423.21 138.4L423.57 138.38L423.93 138.37L424.29 138.17L424.65 138.44L425 138.42L425.36 138.39L425.72 138.52L426.08 138.38L426.44 138.34L426.8 138.54L427.16 138.37L427.52 138.3L427.88 138.14L428.24 138.34L428.59 138.35L428.95 138.27L429.31 138.45L429.67 138.2L430.03 138.39L430.39 138.4L430.75 138.52L431.11 138.4L431.47 138.36L431.83 138.52L432.19 138.57L432.54 138.43L432.9 138.3L433.26 138.46L433.62 138.26L433.98 138.55L434.34 138.43L434.7 138.29L435.06 138.62L435.42 138.23L435.78 138.52L436.14 138.36L436.49 138.34L436.85 138.22L437.21 138.17L437.57 138.43L437.93 138.28L438.29 138.52L438.65 138.39L439.01 138.44L439.37 138.63L439.73 138.2L440.09 138.41L440.44 138.35L440.8 138.48L441.16 138.38L441.52 138.33L441.88 138.3L442.24 138.37L442.6 138.23L442.96 138.47L443.32 138.06L443.68 138.46L444.03 138.46L444.39 138.41L444.75 138.36L445.11 138.51L445.47 138.49L445.83 138.49L446.19 138.35L446.55 138.45L446.91 138.39L447.27 138.34L447.63 138.53L447.98 138.24L448.34 138.37L448.7 138.24L449.06 138.18L449.42 138.55L449.78 138.48L450.14 138.43L450.5 138.26L450.86 138.4L451.22 138.48L451.58 138.17L451.93 138.48L452.29 138.45L452.65 138.62L453.01 138.3L453.37 138.63L453.73 138.42L454.09 138.46L454.45 138.52L454.81 138.7L455.17 138.55L455.52 138.65L455.88 138.44L456.24 138.52L456.6 138.55L456.96 138.29L457.32 138.48L457.68 138.48L458.04 138.53L458.4 138.66L458.76 138.55L459.12 138.51L459.47 138.49L459.83 138.49L460.19 138.32L460.55 138.46L460.91 138.39L461.27 138.33L461.63 138.62L461.99 138.39L462.35 138.38L462.71 138.31L463.07 138.65L463.42 138.69L463.78 138.57L464.14 138.49L464.5 138.59L464.86 138.59L465.22 138.54L465.58 138.57L465.94 138.34L466.3 138.56L466.66 138.49L467.02 138.52L467.37 138.53L467.73 138.38L468.09 138.57L468.45 138.62L468.81 138.28L469.17 138.36L469.53 138.71L469.89 138.36L470.25 138.62L470.61 138.64L470.96 138.76L471.32 138.49L471.68 138.44L472.04 138.44L472.4 138.43L472.76 138.32L473.12 138.37L473.48 138.44L473.84 138.44L474.2 138.58L474.56 138.57L474.91 138.48L475.27 138.25L475.63 138.52L475.99 138.41L476.35 138.21L476.71 138.36L477.07 138.32L477.43 138.4L477.79 138.49L478.15 138.32L478.51 135.73L478.86 130.75L479.22 121.92L479.58 111.9L479.94 102.22L480.3 94.22L480.66 86.61L481.02 79.21L481.38 72.46L481.74 65.6L482.1 59.26L482.45 53.06L482.81 47.58L483.17 42.99L483.53 38.6L483.89 35.28L484.25 31.86L484.61 29.09L484.97 26.52L485.33 24.27L485.69 22.07L486.05 20.33L486.4 18.98L486.76 18.01L487.12 17.41L487.48 17.06L487.84 17.19L488.2 17.38L488.56 18.16L488.92 19.39L489.28 20.44L489.64 21.54L490 22.91L490.35 24.42L490.71 25.78L491.07 27.22L491.43 28.92L491.79 30.7L492.15 32.23L492.51 33.94L492.87 35.57L493.23 36.58L493.59 37.91L493.94 39.08L494.3 39.8L494.66 40.83L495.02 41.83L495.38 42.35L495.74 42.8L496.1 43.75L496.46 44.04L496.82 44.46L497.18 44.68L497.54 44.78L497.89 45.05L498.25 45.18L498.61 45.52L498.97 45.52L499.33 45.37L499.69 45.43L500.05 45.44L500.41 45.46L500.77 45.31L501.13 44.93L501.49 45.05L501.84 44.6L502.2 44.51L502.56 44.21L502.92 44.19L503.28 44.17L503.64 43.92L504 43.87L504.36 43.69L504.72 43.37L505.08 43.15L505.44 43.2L505.79 42.96L506.15 42.84L506.51 42.72L506.87 42.41L507.23 42.24L507.59 42.23L507.95 42.04L508.31 41.91L508.67 41.77L509.03 41.76L509.38 41.64L509.74 41.65L510.1 41.59L510.46 41.6L510.82 41.43L511.18 41.38L511.54 41.38L511.9 41.32L512.26 41.35L512.62 41.26L512.98 41.38L513.33 41.27L513.69 41.62L514.05 41.6L514.41 41.72L514.77 41.59L515.13 41.74L515.49 41.88L515.85 41.8L516.21 42.26L516.57 42.29L516.93 42.29L517.28 42.47L517.64 42.19L518 42.35L518.36 42.66L518.72 42.68L519.08 42.63L519.44 42.75L519.8 42.77L520.16 42.75L520.52 42.79L520.87 42.78L521.23 42.93L521.59 42.94L521.95 43.1L522.31 42.82L522.67 43.03L523.03 43L523.39 42.99L523.75 43.05L524.11 43.28L524.47 43.33L524.82 42.87L525.18 43.25L525.54 42.95L525.9 43.01L526.26 43.04L526.62 43L526.98 43.29L527.34 43.36L527.7 42.96L528.06 43.24L528.42 43.22L528.77 43.12L529.13 43.13L529.49 43.16L529.85 43.15L530.21 43.08L530.57 43.18L530.93 43.23L531.29 43.24L531.65 43.1L532.01 43.32L532.36 43.09L532.72 43.18L533.08 43.13L533.44 43.06L533.8 43.31L534.16 43.2L534.52 43.46L534.88 43.29L535.24 43.43L535.6 43.23L535.96 43.27L536.31 43.4L536.67 43.29L537.03 43.24L537.39 43.36L537.75 43.49L538.11 43.4L538.47 43.4L538.83 43.62L539.19 43.42L539.55 43.25L539.91 43.32L540.26 43.13L540.62 43.2L540.98 43.35L541.34 43.14L541.7 42.83L542.06 42.74L542.42 42.46L542.78 42.68L543.14 42.06L543.5 41.63L543.86 41.61L544.21 41.08L544.57 40.61L544.93 40.33L545.29 40.06L545.65 39.93L546.01 39.71L546.37 39.57L546.73 39.24L547.09 39.14L547.45 39.16L547.8 39.23L548.16 39.35L548.52 39.33L548.88 39.16L549.24 39.41L549.6 39.69L549.96 39.67L550.32 39.79L550.68 39.95L551.04 40.36L551.4 40.51L551.75 40.77L552.11 40.89L552.47 41.29L552.83 41.33L553.19 41.42L553.55 41.57L553.91 41.68L554.27 42.02L554.63 42.15L554.99 42.09L555.35 42.17L555.7 42.6L556.06 42.53L556.42 42.68L556.78 42.63L557.14 42.63L557.5 42.68L557.86 42.89L558.22 43L558.58 42.82L558.94 42.83L559.29 42.96L559.65 42.96L560.01 42.89L560.37 42.85L560.73 42.86L561.09 43.15L561.45 42.94L561.81 42.96L562.17 42.98L562.53 42.89L562.89 43.1L563.24 43.05L563.6 43.12L563.96 43.24L564.32 43.06L564.68 43.11L565.04 43.02L565.4 43.22L565.76 43.17L566.12 43.25L566.48 43.32L566.84 42.98L567.19 43.33L567.55 43L567.91 43.03L568.27 42.93L568.63 43.36L568.99 43.11L569.35 43.25L569.71 43.11L570.07 43.4L570.43 43.05L570.78 43.2L571.14 43.08L571.5 43.18L571.86 43.39L572.22 43.26L572.58 43.27L572.94 43.33L573.3 43.18L573.66 43.1L574.02 43.12L574.38 43.2L574.73 43.4L575.09 43.27L575.45 43.21L575.81 43.29L576.17 43.19L576.53 43.39L576.89 43.38L577.25 43.2L577.61 43.5L577.97 43.15L578.33 43.36L578.68 43.27L579.04 43.41L579.4 43.42L579.76 43.33L580.12 43.36L580.48 43.16L580.84 43.15L581.2 43.34L581.56 43.38L581.92 43.28L582.28 43.42L582.63 43.48L582.99 43.15L583.35 43.4L583.71 43.59L584.07 43.35L584.43 43.36L584.79 43.37L585.15 43.43L585.51 43.08L585.87 43.43L586.22 43.34L586.58 43.46L586.94 43.32L587.3 43.38L587.66 43.44L588.02 43.52L588.38 43.38L588.74 43.45L589.1 43.29L589.46 43.4L589.82 43.46L590.17 43.65L590.53 43.32L590.89 43.44L591.25 43.36L591.61 43.5L591.97 43.33L592.33 43.53L592.69 43.31L593.05 43.64L593.41 43.45L593.77 43.42L594.12 43.46L594.48 43.48L594.84 43.5L595.2 43.58L595.56 43.47L595.92 43.39L596.28 43.3L596.64 43.41L597 43.36L597.36 43.59L597.71 43.34L598.07 43.42L598.43 43.52L598.79 43.67L599.15 43.31L599.51 43.48L599.87 43.61L600.23 43.31L600.59 43.59L600.95 43.25L601.31 43.5L601.66 43.4L602.02 43.47L602.38 43.56L602.74 43.71L603.1 43.43L603.46 43.73L603.82 43.74L604.18 43.36L604.54 43.55L604.9 43.62L605.26 43.73L605.61 43.64L605.97 43.51L606.33 43.5L606.69 43.65L607.05 43.47L607.41 43.6L607.77 43.58L608.13 43.48L608.49 43.85L608.85 43.6L609.21 43.84L609.56 43.72L609.92 43.72L610.28 43.52L610.64 43.53L611 43.61L611.36 43.59L611.72 43.46L612.08 43.88L612.44 43.89L612.8 43.69L613.15 43.64L613.51 43.59L613.87 43.5L614.23 43.68L614.59 43.63L614.95 43.7L615.31 43.75L615.67 43.9L616.03 43.64L616.39 43.67L616.75 43.62L617.1 43.69L617.46 43.53L617.82 43.85L618.18 43.72L618.54 43.51L618.9 43.67L619.26 43.81L619.62 43.75L619.98 43.6L620.34 43.75L620.7 43.72L621.05 43.61L621.41 43.72L621.77 43.55L622.13 43.64L622.49 43.54L622.85 43.81L623.21 43.82L623.57 43.65L623.93 43.72L624.29 43.88L624.64 43.52L625 43.7L625.36 43.78L625.72 43.78L626.08 43.66L626.44 43.48L626.8 43.64L627.16 43.85L627.52 43.65L627.88 43.75L628.24 43.71L628.59 43.84L628.95 43.66L629.31 43.78L629.67 43.77L630.03 43.62L630.39 43.78L630.75 43.86L631.11 43.79L631.47 43.67L631.83 43.68L632.19 43.6L632.54 43.62L632.9 43.51L633.26 43.8L633.62 43.76L633.98 43.76L634.34 44.07L634.7 43.78L635.06 43.86L635.42 43.62L635.78 43.73L636.13 43.7L636.49 43.8L636.85 43.65L637.21 43.7L637.57 43.7L637.93 43.82L638.29 43.64L638.65 43.81L639.01 43.85L639.37 43.81L639.73 43.94L640.08 43.81L640.44 43.82L640.8 43.83L641.16 43.91L641.52 43.86L641.88 43.81L642.24 43.89L642.6 43.72L642.96 43.91L643.32 43.67L643.68 43.97L644.03 43.74L644.39 43.79L644.75 43.79L645.11 43.88L645.47 43.59L645.83 43.77L646.19 43.9L646.55 43.87L646.91 43.69L647.27 43.98L647.63 44.05L647.98 43.73L648.34 43.78L648.7 43.69L649.06 43.76L649.42 43.81L649.78 44.09L650.14 43.68L650.5 44.06L650.86 43.84L651.22 43.8L651.57 43.78L651.93 43.91L652.29 43.8L652.65 43.82L653.01 43.82L653.37 43.85L653.73 43.88L654.09 43.81L654.45 43.75L654.81 43.93L655.17 43.87L655.52 43.85L655.88 43.62L656.24 43.84L656.6 43.76L656.96 43.73L657.32 43.8L657.68 43.74L658.04 43.62L658.4 43.71L658.76 43.96L659.12 43.83L659.47 43.75L659.83 43.85L660.19 43.62L660.55 44.03L660.91 43.99L661.27 43.84L661.63 43.9L661.99 43.78L662.35 43.8L662.71 43.83L663.06 43.8L663.42 43.92L663.78 43.73L664.14 43.93L664.5 43.75L664.86 43.88L665.22 44.01L665.58 44.07L665.94 43.69L666.3 43.94L666.66 44.04L667.01 43.87L667.37 44.03L667.73 43.77L668.09 43.87L668.45 44.14L668.81 43.96L669.17 43.99L669.53 43.86L669.89 43.85L670.25 43.98L670.61 43.89L670.96 44.08L671.32 43.79L671.68 43.77L672.04 43.93L672.4 43.71L672.76 43.95L673.12 44.05L673.48 44.1L673.84 43.74L674.2 43.84L674.55 43.98L674.91 43.83L675.27 43.94L675.63 43.69L675.99 43.88L676.35 43.96L676.71 43.81L677.07 43.95L677.43 43.9L677.79 43.86L678.15 43.78L678.5 43.87L678.86 43.93L679.22 43.87L679.58 43.97L679.94 43.96L680.3 43.76" stroke="#0072BD"/>
</g>
<text transform="translate(359.8 15.5) scale(0.92 1)" text-anchor="end" font-size="9.0" fill="#1c1c1c" stroke="#1c1c1c" stroke-width="0.12">350</text>
<text transform="translate(359.8 46.9) scale(0.92 1)" text-anchor="end" font-size="9.0" fill="#1c1c1c" stroke="#1c1c1c" stroke-width="0.12">300</text>
<text transform="translate(359.8 77.8) scale(0.92 1)" text-anchor="end" font-size="9.0" fill="#1c1c1c" stroke="#1c1c1c" stroke-width="0.12">250</text>
<text transform="translate(359.8 109.5) scale(0.92 1)" text-anchor="end" font-size="9.0" fill="#1c1c1c" stroke="#1c1c1c" stroke-width="0.12">200</text>
<text transform="translate(359.8 140.5) scale(0.92 1)" text-anchor="end" font-size="9.0" fill="#1c1c1c" stroke="#1c1c1c" stroke-width="0.12">150</text>
<text transform="translate(409.0 161.3) scale(0.92 1)" text-anchor="middle" font-size="9.0" fill="#1c1c1c" stroke="#1c1c1c" stroke-width="0.12">0.45</text>
<text transform="translate(474.4 161.3) scale(0.92 1)" text-anchor="middle" font-size="9.0" fill="#1c1c1c" stroke="#1c1c1c" stroke-width="0.12">0.5</text>
<text transform="translate(538.7 161.3) scale(0.92 1)" text-anchor="middle" font-size="9.0" fill="#1c1c1c" stroke="#1c1c1c" stroke-width="0.12">0.55</text>
<text transform="translate(604.1 161.3) scale(0.92 1)" text-anchor="middle" font-size="9.0" fill="#1c1c1c" stroke="#1c1c1c" stroke-width="0.12">0.6</text>
<text transform="translate(669.4 161.3) scale(0.92 1)" text-anchor="middle" font-size="9.0" fill="#1c1c1c" stroke="#1c1c1c" stroke-width="0.12">0.65</text>
<rect x="567" y="48.5" width="74" height="10.5" fill="#ffffff"/>
<text transform="translate(569.6 57.1) scale(0.92 1)" text-anchor="start" font-size="9.0" fill="#1c1c1c" stroke="#1c1c1c" stroke-width="0.12">Motor speed [rad/s]</text>
<line x1="79.0" y1="168.2" x2="79.0" y2="311.5" stroke="#eeeeee" stroke-width="0.90"/>
<line x1="142.6" y1="168.2" x2="142.6" y2="311.5" stroke="#eeeeee" stroke-width="0.90"/>
<line x1="206.3" y1="168.2" x2="206.3" y2="311.5" stroke="#eeeeee" stroke-width="0.90"/>
<line x1="269.9" y1="168.2" x2="269.9" y2="311.5" stroke="#eeeeee" stroke-width="0.90"/>
<line x1="333.6" y1="168.2" x2="333.6" y2="311.5" stroke="#eeeeee" stroke-width="0.90"/>
<line x1="26.5" y1="183.2" x2="344.8" y2="183.2" stroke="#eeeeee" stroke-width="0.90"/>
<line x1="26.5" y1="206.7" x2="344.8" y2="206.7" stroke="#eeeeee" stroke-width="0.90"/>
<line x1="26.5" y1="230.2" x2="344.8" y2="230.2" stroke="#eeeeee" stroke-width="0.90"/>
<line x1="26.5" y1="253.6" x2="344.8" y2="253.6" stroke="#eeeeee" stroke-width="0.90"/>
<line x1="26.5" y1="277.1" x2="344.8" y2="277.1" stroke="#eeeeee" stroke-width="0.90"/>
<line x1="26.5" y1="300.6" x2="344.8" y2="300.6" stroke="#eeeeee" stroke-width="0.90"/>
<line x1="26.5" y1="168.2" x2="344.8" y2="168.2" stroke="#868686" stroke-width="1.00"/>
<line x1="26.5" y1="311.5" x2="344.8" y2="311.5" stroke="#ebebeb" stroke-width="1.00"/>
<line x1="344.8" y1="168.2" x2="344.8" y2="311.5" stroke="#dcdcdc" stroke-width="1.00"/>
<line x1="26.5" y1="168.2" x2="26.5" y2="311.5" stroke="#868686" stroke-width="1.00"/>
<line x1="79.5" y1="308.3" x2="79.5" y2="311.5" stroke="#747474" stroke-width="1.00"/>
<line x1="79.5" y1="168.2" x2="79.5" y2="171.4" stroke="#747474" stroke-width="1.00"/>
<line x1="142.5" y1="308.3" x2="142.5" y2="311.5" stroke="#747474" stroke-width="1.00"/>
<line x1="142.5" y1="168.2" x2="142.5" y2="171.4" stroke="#747474" stroke-width="1.00"/>
<line x1="206.5" y1="308.3" x2="206.5" y2="311.5" stroke="#747474" stroke-width="1.00"/>
<line x1="206.5" y1="168.2" x2="206.5" y2="171.4" stroke="#747474" stroke-width="1.00"/>
<line x1="270.5" y1="308.3" x2="270.5" y2="311.5" stroke="#747474" stroke-width="1.00"/>
<line x1="270.5" y1="168.2" x2="270.5" y2="171.4" stroke="#747474" stroke-width="1.00"/>
<line x1="333.5" y1="308.3" x2="333.5" y2="311.5" stroke="#747474" stroke-width="1.00"/>
<line x1="333.5" y1="168.2" x2="333.5" y2="171.4" stroke="#747474" stroke-width="1.00"/>
<line x1="26.5" y1="183.5" x2="29.7" y2="183.5" stroke="#747474" stroke-width="1.00"/>
<line x1="341.6" y1="183.5" x2="344.8" y2="183.5" stroke="#747474" stroke-width="1.00"/>
<line x1="26.5" y1="206.5" x2="29.7" y2="206.5" stroke="#747474" stroke-width="1.00"/>
<line x1="341.6" y1="206.5" x2="344.8" y2="206.5" stroke="#747474" stroke-width="1.00"/>
<line x1="26.5" y1="230.5" x2="29.7" y2="230.5" stroke="#747474" stroke-width="1.00"/>
<line x1="341.6" y1="230.5" x2="344.8" y2="230.5" stroke="#747474" stroke-width="1.00"/>
<line x1="26.5" y1="253.5" x2="29.7" y2="253.5" stroke="#747474" stroke-width="1.00"/>
<line x1="341.6" y1="253.5" x2="344.8" y2="253.5" stroke="#747474" stroke-width="1.00"/>
<line x1="26.5" y1="277.5" x2="29.7" y2="277.5" stroke="#747474" stroke-width="1.00"/>
<line x1="341.6" y1="277.5" x2="344.8" y2="277.5" stroke="#747474" stroke-width="1.00"/>
<line x1="26.5" y1="300.5" x2="29.7" y2="300.5" stroke="#747474" stroke-width="1.00"/>
<line x1="341.6" y1="300.5" x2="344.8" y2="300.5" stroke="#747474" stroke-width="1.00"/>
<g clip-path="url(#cbl)" fill="none" stroke-linejoin="round" stroke-width="0.65" stroke-opacity="0.85">
<path d="M26.5 297.4L147.2 270.3L344.8 183.0" stroke="#0072BD"/>
</g>
<text transform="translate(26.2 186.5) scale(0.92 1)" text-anchor="end" font-size="9.0" fill="#1c1c1c" stroke="#1c1c1c" stroke-width="0.12">3.844</text>
<text transform="translate(26.2 210.0) scale(0.92 1)" text-anchor="end" font-size="9.0" fill="#1c1c1c" stroke="#1c1c1c" stroke-width="0.12">3.8435</text>
<text transform="translate(26.2 234.0) scale(0.92 1)" text-anchor="end" font-size="9.0" fill="#1c1c1c" stroke="#1c1c1c" stroke-width="0.12">3.843</text>
<text transform="translate(26.2 257.7) scale(0.92 1)" text-anchor="end" font-size="9.0" fill="#1c1c1c" stroke="#1c1c1c" stroke-width="0.12">3.8425</text>
<text transform="translate(26.2 281.0) scale(0.92 1)" text-anchor="end" font-size="9.0" fill="#1c1c1c" stroke="#1c1c1c" stroke-width="0.12">3.842</text>
<text transform="translate(26.2 303.8) scale(0.92 1)" text-anchor="end" font-size="9.0" fill="#1c1c1c" stroke="#1c1c1c" stroke-width="0.12">3.8415</text>
<text transform="translate(74.1 320.3) scale(0.92 1)" text-anchor="middle" font-size="9.0" fill="#1c1c1c" stroke="#1c1c1c" stroke-width="0.12">0.45</text>
<text transform="translate(140.3 320.3) scale(0.92 1)" text-anchor="middle" font-size="9.0" fill="#1c1c1c" stroke="#1c1c1c" stroke-width="0.12">0.5</text>
<text transform="translate(204.4 320.3) scale(0.92 1)" text-anchor="middle" font-size="9.0" fill="#1c1c1c" stroke="#1c1c1c" stroke-width="0.12">0.55</text>
<text transform="translate(268.1 320.3) scale(0.92 1)" text-anchor="middle" font-size="9.0" fill="#1c1c1c" stroke="#1c1c1c" stroke-width="0.12">0.6</text>
<text transform="translate(331.2 320.3) scale(0.92 1)" text-anchor="middle" font-size="9.0" fill="#1c1c1c" stroke="#1c1c1c" stroke-width="0.12">0.65</text>
<text transform="translate(19.8 167.3) scale(0.92 1)" text-anchor="start" font-size="9.0" fill="#1c1c1c" stroke="#1c1c1c" stroke-width="0.12">x10<tspan dy="-3" font-size="6.4">5</tspan></text>
<rect x="188" y="251.5" width="67" height="10.5" fill="#ffffff"/>
<text transform="translate(190.3 260.2) scale(0.92 1)" text-anchor="start" font-size="9.0" fill="#1c1c1c" stroke="#1c1c1c" stroke-width="0.12">Rotor angle [rad.]</text>
<text transform="translate(176.0 324.8) scale(0.92 1)" text-anchor="middle" font-size="9.0" fill="#1c1c1c" stroke="#1c1c1c" stroke-width="0.12">Time (s)</text>
<text transform="translate(14.8 322.3) scale(0.92 1)" text-anchor="start" font-size="4.0" fill="#1c1c1c" stroke="#1c1c1c" stroke-width="0.10">Offset=0</text>
<line x1="410.9" y1="165.3" x2="410.9" y2="311.8" stroke="#eeeeee" stroke-width="0.90"/>
<line x1="475.4" y1="165.3" x2="475.4" y2="311.8" stroke="#eeeeee" stroke-width="0.90"/>
<line x1="540.0" y1="165.3" x2="540.0" y2="311.8" stroke="#eeeeee" stroke-width="0.90"/>
<line x1="604.5" y1="165.3" x2="604.5" y2="311.8" stroke="#eeeeee" stroke-width="0.90"/>
<line x1="669.0" y1="165.3" x2="669.0" y2="311.8" stroke="#eeeeee" stroke-width="0.90"/>
<line x1="357.5" y1="178.4" x2="680.3" y2="178.4" stroke="#eeeeee" stroke-width="0.90"/>
<line x1="357.5" y1="199.9" x2="680.3" y2="199.9" stroke="#eeeeee" stroke-width="0.90"/>
<line x1="357.5" y1="221.4" x2="680.3" y2="221.4" stroke="#eeeeee" stroke-width="0.90"/>
<line x1="357.5" y1="242.8" x2="680.3" y2="242.8" stroke="#eeeeee" stroke-width="0.90"/>
<line x1="357.5" y1="264.3" x2="680.3" y2="264.3" stroke="#eeeeee" stroke-width="0.90"/>
<line x1="357.5" y1="285.8" x2="680.3" y2="285.8" stroke="#eeeeee" stroke-width="0.90"/>
<line x1="357.5" y1="307.3" x2="680.3" y2="307.3" stroke="#eeeeee" stroke-width="0.90"/>
<line x1="357.5" y1="165.3" x2="680.3" y2="165.3" stroke="#868686" stroke-width="1.00"/>
<line x1="357.5" y1="311.8" x2="680.3" y2="311.8" stroke="#ebebeb" stroke-width="1.00"/>
<line x1="680.3" y1="165.3" x2="680.3" y2="311.8" stroke="#868686" stroke-width="1.00"/>
<line x1="357.5" y1="165.3" x2="357.5" y2="311.8" stroke="#868686" stroke-width="1.00"/>
<line x1="411.5" y1="308.6" x2="411.5" y2="311.8" stroke="#747474" stroke-width="1.00"/>
<line x1="411.5" y1="165.3" x2="411.5" y2="168.5" stroke="#747474" stroke-width="1.00"/>
<line x1="475.5" y1="308.6" x2="475.5" y2="311.8" stroke="#747474" stroke-width="1.00"/>
<line x1="475.5" y1="165.3" x2="475.5" y2="168.5" stroke="#747474" stroke-width="1.00"/>
<line x1="540.5" y1="308.6" x2="540.5" y2="311.8" stroke="#747474" stroke-width="1.00"/>
<line x1="540.5" y1="165.3" x2="540.5" y2="168.5" stroke="#747474" stroke-width="1.00"/>
<line x1="604.5" y1="308.6" x2="604.5" y2="311.8" stroke="#747474" stroke-width="1.00"/>
<line x1="604.5" y1="165.3" x2="604.5" y2="168.5" stroke="#747474" stroke-width="1.00"/>
<line x1="669.5" y1="308.6" x2="669.5" y2="311.8" stroke="#747474" stroke-width="1.00"/>
<line x1="669.5" y1="165.3" x2="669.5" y2="168.5" stroke="#747474" stroke-width="1.00"/>
<line x1="357.5" y1="178.5" x2="360.7" y2="178.5" stroke="#747474" stroke-width="1.00"/>
<line x1="677.1" y1="178.5" x2="680.3" y2="178.5" stroke="#747474" stroke-width="1.00"/>
<line x1="357.5" y1="199.5" x2="360.7" y2="199.5" stroke="#747474" stroke-width="1.00"/>
<line x1="677.1" y1="199.5" x2="680.3" y2="199.5" stroke="#747474" stroke-width="1.00"/>
<line x1="357.5" y1="221.5" x2="360.7" y2="221.5" stroke="#747474" stroke-width="1.00"/>
<line x1="677.1" y1="221.5" x2="680.3" y2="221.5" stroke="#747474" stroke-width="1.00"/>
<line x1="357.5" y1="242.5" x2="360.7" y2="242.5" stroke="#747474" stroke-width="1.00"/>
<line x1="677.1" y1="242.5" x2="680.3" y2="242.5" stroke="#747474" stroke-width="1.00"/>
<line x1="357.5" y1="264.5" x2="360.7" y2="264.5" stroke="#747474" stroke-width="1.00"/>
<line x1="677.1" y1="264.5" x2="680.3" y2="264.5" stroke="#747474" stroke-width="1.00"/>
<line x1="357.5" y1="285.5" x2="360.7" y2="285.5" stroke="#747474" stroke-width="1.00"/>
<line x1="677.1" y1="285.5" x2="680.3" y2="285.5" stroke="#747474" stroke-width="1.00"/>
<line x1="357.5" y1="307.5" x2="360.7" y2="307.5" stroke="#747474" stroke-width="1.00"/>
<line x1="677.1" y1="307.5" x2="680.3" y2="307.5" stroke="#747474" stroke-width="1.00"/>
<g clip-path="url(#cbr)" fill="none" stroke-linejoin="round" stroke-width="0.7">
<path d="M357.3 271.4L357.4 270.8L357.5 278.7L357.5 272.2L357.6 274.6L357.7 272.7L357.8 274.3L357.9 274.3L358 276.6L358.1 276.5L358.2 271.6L358.3 277.4L358.4 278.7L358.4 267.8L358.5 277.4L358.6 279.2L358.7 277.9L358.8 272.3L358.9 272.5L359 271.5L359.1 271.4L359.2 270.4L359.3 278.1L359.3 278L359.4 270.9L359.5 271.2L359.6 275.1L359.7 277.2L359.8 278.3L359.9 270.6L360 274L360.1 274.2L360.2 278.4L360.2 282L360.3 276.1L360.4 271.4L360.5 272.2L360.6 277.7L360.7 279.6L360.8 274L360.9 273L361 271.1L361.1 271.6L361.1 277.8L361.2 275L361.3 273.3L361.4 278.4L361.5 271.3L361.6 278.9L361.7 280.2L361.8 277.4L361.9 272.7L361.9 274.7L362 277.5L362.1 277L362.2 275.3L362.3 272.3L362.4 268.9L362.5 273.5L362.6 278.9L362.7 271.7L362.8 272.3L362.8 273.3L362.9 271.6L363 280.1L363.1 272.1L363.2 275.5L363.3 267.3L363.4 270.9L363.5 279L363.6 270.7L363.7 271.2L363.7 273L363.8 276.8L363.9 272.9L364 280L364.1 280L364.2 278.1L364.3 278L364.4 280.2L364.5 271.6L364.6 272.5L364.6 272.7L364.7 272.3L364.8 267.3L364.9 278.8L365 275.5L365.1 276.6L365.2 276.6L365.3 273.8L365.4 279.1L365.5 271.1L365.5 280.7L365.6 278.7L365.7 271.6L365.8 277.8L365.9 276.8L366 275.9L366.1 273.2L366.2 267.9L366.3 273.8L366.4 282.1L366.4 271.9L366.5 277.2L366.6 279.5L366.7 280L366.8 272.1L366.9 275.2L367 278L367.1 279.7L367.2 270.8L367.3 272.5L367.3 272.9L367.4 277.5L367.5 282.2L367.6 276.8L367.7 273.9L367.8 274.2L367.9 279.3L368 268.4L368.1 274.5L368.2 274.8L368.2 274L368.3 274.9L368.4 270.9L368.5 278.2L368.6 273.5L368.7 274.3L368.8 269L368.9 269.5L369 278.1L369.1 276.7L369.1 271.5L369.2 281L369.3 268.7L369.4 275.3L369.5 280L369.6 269.6L369.7 278.5L369.8 279.3L369.9 275.3L370 277.2L370 272L370.1 270.8L370.2 270.1L370.3 275.6L370.4 272.7L370.5 277.2L370.6 275.7L370.7 275.3L370.8 279.5L370.9 278.5L370.9 271.5L371 274L371.1 276.9L371.2 277.4L371.3 279.3L371.4 275.8L371.5 277.1L371.6 271.5L371.7 279.3L371.8 278.4L371.8 274L371.9 277.7L372 277L372.1 271.1L372.2 278.2L372.3 278.9L372.4 277.2L372.5 276.6L372.6 275.5L372.7 273.3L372.7 279L372.8 281.4L372.9 270.4L373 273.7L373.1 279.4L373.2 274.6L373.3 272.2L373.4 278.1L373.5 275.6L373.6 272.6L373.6 277.7L373.7 273.4L373.8 279.7L373.9 274.6L374 274.3L374.1 279.8L374.2 272.6L374.3 272.6L374.4 278.6L374.4 279.7L374.5 275.3L374.6 275.4L374.7 276L374.8 269.7L374.9 279.8L375 274.2L375.1 272.1L375.2 272.5L375.3 273.3L375.3 282.2L375.4 278.4L375.5 277.4L375.6 272.7L375.7 279.6L375.8 282.5L375.9 271.6L376 276.8L376.1 271.6L376.2 271.3L376.2 279.6L376.3 276.5L376.4 272.2L376.5 280.7L376.6 271.7L376.7 271.8L376.8 276.6L376.9 272.5L377 276.3L377.1 272L377.1 266.7L377.2 274.7L377.3 273.8L377.4 278.5L377.5 278.9L377.6 276.5L377.7 277.7L377.8 275.9L377.9 278.7L378 273.9L378 275.1L378.1 278.7L378.2 279.7L378.3 274.7L378.4 270L378.5 271L378.6 270.7L378.7 276.4L378.8 269.6L378.9 279.5L378.9 280.8L379 279.4L379.1 280.4L379.2 281.6L379.3 275.7L379.4 269.4L379.5 273.3L379.6 275.3L379.7 279.9L379.8 274.2L379.8 274.3L379.9 269.5L380 275.1L380.1 277.3L380.2 277.7L380.3 275.7L380.4 277.9L380.5 270.9L380.6 279.6L380.7 273.9L380.7 276.6L380.8 276.5L380.9 275.3L381 277.4L381.1 273.4L381.2 274.5L381.3 275.8L381.4 276.3L381.5 272.3L381.6 273.3L381.6 278.9L381.7 283.3L381.8 279L381.9 276.7L382 275.4L382.1 276.8L382.2 272.9L382.3 274.1L382.4 274.1L382.5 275.2L382.5 271L382.6 280.3L382.7 275.9L382.8 277L382.9 270.8L383 277.5L383.1 276.5L383.2 272.3L383.3 276.4L383.4 279.1L383.4 278.4L383.5 274.2L383.6 276.9L383.7 274.9L383.8 278.2L383.9 268.4L384 279.5L384.1 276.9L384.2 270.7L384.3 272.3L384.3 272.1L384.4 275.2L384.5 272.2L384.6 274.1L384.7 277.2L384.8 275.8L384.9 278.2L385 269.8L385.1 272.4L385.2 275.4L385.2 277.3L385.3 273.4L385.4 280.7L385.5 277.6L385.6 280.6L385.7 283.6L385.8 277.4L385.9 278.3L386 276.4L386.1 274.2L386.1 279.3L386.2 279L386.3 274.5L386.4 273.6L386.5 271.6L386.6 275.7L386.7 280.1L386.8 277.3L386.9 273.9L386.9 276.7L387 279.2L387.1 269.6L387.2 272.3L387.3 278.1L387.4 279.4L387.5 275.9L387.6 278.2L387.7 272.2L387.8 273.4L387.8 280.8L387.9 277L388 273.7L388.1 275.4L388.2 280.5L388.3 277.4L388.4 279.4L388.5 272.2L388.6 276.1L388.7 272.8L388.7 278L388.8 280.1L388.9 271.9L389 268.4L389.1 275L389.2 279.6L389.3 280L389.4 274.1L389.5 275.5L389.6 277.3L389.6 275L389.7 280.2L389.8 278.6L389.9 271.1L390 276.3L390.1 276.4L390.2 271L390.3 276.3L390.4 280.3L390.5 274.1L390.5 275.7L390.6 278.2L390.7 272.8L390.8 277.8L390.9 270.8L391 271.1L391.1 281.8L391.2 273.4L391.3 268.6L391.4 273.8L391.4 275.2L391.5 277.9L391.6 276.9L391.7 279.4L391.8 280.1L391.9 273.8L392 279.6L392.1 280.2L392.2 280L392.3 280.6L392.3 274.8L392.4 275.6L392.5 280L392.6 280L392.7 275.7L392.8 273.9L392.9 277.4L393 278.1L393.1 278.5L393.2 278L393.2 279.9L393.3 275.1L393.4 283.5L393.5 277.9L393.6 279.6L393.7 278.5L393.8 270.8L393.9 276.9L394 276.3L394.1 277.8L394.1 267.4L394.2 270.4L394.3 280.2L394.4 278.3L394.5 276.5L394.6 272.6L394.7 277.6L394.8 280L394.9 279.4L395 271.6L395 276.9L395.1 280L395.2 276.5L395.3 271L395.4 273.9L395.5 278.5L395.6 278.9L395.7 279.6L395.8 271.8L395.9 276.3L395.9 273.9L396 272.1L396.1 280.2L396.2 282.7L396.3 276.7L396.4 273.3L396.5 276.5L396.6 280.1L396.7 280.1L396.8 276.7L396.8 278.9L396.9 271.3L397 272.2L397.1 276.8L397.2 280L397.3 277.1L397.4 271.2L397.5 274.6L397.6 276L397.7 276.9L397.7 278.9L397.8 279.4L397.9 276.7L398 268.8L398.1 271.5L398.2 268.8L398.3 280.7L398.4 275L398.5 279L398.6 278.4L398.6 279.1L398.7 277.2L398.8 280.3L398.9 272.4L399 269L399.1 278.9L399.2 277.6L399.3 278.7L399.4 274L399.5 271.1L399.5 271.7L399.6 280.4L399.7 271.7L399.8 279.3L399.9 281.1L400 277.9L400.1 275.7L400.2 281.3L400.3 274.9L400.3 280.1L400.4 274.3L400.5 277.5L400.6 272.5L400.7 273.4L400.8 280.3L400.9 268.2L401 278.8L401.1 273.2L401.2 277L401.2 275.2L401.3 279.5L401.4 279.8L401.5 278.6L401.6 276.8L401.7 277.2L401.8 281.3L401.9 277L402 277.2L402.1 268.6L402.1 279.5L402.2 274L402.3 275.3L402.4 275.4L402.5 269.1L402.6 271.5L402.7 284.6L402.8 276.9L402.9 271.1L403 278.9L403 275.9L403.1 279.9L403.2 274.9L403.3 273.2L403.4 272.5L403.5 281.8L403.6 273.7L403.7 273.8L403.8 279.8L403.9 274.8L403.9 282.9L404 276.9L404.1 277.5L404.2 279.4L404.3 274.3L404.4 274.2L404.5 271.5L404.6 274.5L404.7 273.9L404.8 275.5L404.8 271.4L404.9 275L405 275.6L405.1 273.4L405.2 278.5L405.3 271.5L405.4 274.4L405.5 277.5L405.6 278.2L405.7 277.5L405.7 271.2L405.8 281.2L405.9 279.7L406 272.4L406.1 279.3L406.2 277.6L406.3 277.6L406.4 279.3L406.5 279.2L406.6 272.6L406.6 271.6L406.7 280.9L406.8 277.1L406.9 272.5L407 278.1L407.1 280.7L407.2 270.2L407.3 273.4L407.4 280.7L407.5 273.6L407.5 276.8L407.6 275L407.7 279.4L407.8 277.7L407.9 268.3L408 276.6L408.1 277.1L408.2 269.1L408.3 273.2L408.4 276.1L408.4 280.5L408.5 274L408.6 278.4L408.7 277.8L408.8 278.7L408.9 280.3L409 272.4L409.1 275.6L409.2 273.1L409.3 271.6L409.3 271.6L409.4 281.9L409.5 278.8L409.6 280.7L409.7 271.7L409.8 279.3L409.9 272.8L410 278.8L410.1 272.3L410.2 280.3L410.2 273.4L410.3 270.3L410.4 276.3L410.5 279.2L410.6 275.1L410.7 270.2L410.8 279.8L410.9 273.1L411 278.7L411.1 271.2L411.1 279.6L411.2 273.5L411.3 275.7L411.4 275L411.5 276.1L411.6 277.1L411.7 278.9L411.8 274.5L411.9 280.4L412 271.9L412 279.4L412.1 280.3L412.2 274.4L412.3 273.1L412.4 274.6L412.5 278.7L412.6 280.2L412.7 280.3L412.8 276.7L412.8 272.2L412.9 279.3L413 274.2L413.1 273.5L413.2 273.1L413.3 271.5L413.4 270.8L413.5 274.2L413.6 276.3L413.7 272.5L413.7 272.3L413.8 272.2L413.9 280.2L414 277.8L414.1 278.4L414.2 280.9L414.3 280.7L414.4 281.2L414.5 278.9L414.6 271.3L414.6 278.2L414.7 278.1L414.8 280.8L414.9 271L415 271.3L415.1 273.4L415.2 272.6L415.3 280.6L415.4 280.1L415.5 282.3L415.5 277L415.6 279.5L415.7 280.8L415.8 276L415.9 271.3L416 277.1L416.1 279.3L416.2 278.8L416.3 279.4L416.4 280.9L416.4 274.7L416.5 274.2L416.6 271.5L416.7 277.2L416.8 279.9L416.9 282.2L417 276.3L417.1 271.6L417.2 280.4L417.3 273.1L417.3 282.1L417.4 280.6L417.5 279.7L417.6 274.6L417.7 280.6L417.8 275.1L417.9 271.7L418 276.8L418.1 271.8L418.2 278.7L418.2 274.2L418.3 271.6L418.4 278.5L418.5 272.1L418.6 272.3L418.7 272.3L418.8 280.4L418.9 280.8L419 278.3L419.1 280.2L419.1 278L419.2 274.4L419.3 274.7L419.4 281.9L419.5 276.4L419.6 272.6L419.7 274.8L419.8 273.7L419.9 272.9L420 275.9L420 274L420.1 275.3L420.2 279.1L420.3 280.5L420.4 275.9L420.5 273.2L420.6 272.6L420.7 273.4L420.8 276.7L420.9 274.4L420.9 279.2L421 273.3L421.1 278L421.2 276.9L421.3 274.1L421.4 272.4L421.5 273.2L421.6 280.2L421.7 279.8L421.8 278.9L421.8 278.3L421.9 279.9L422 271.8L422.1 276.1L422.2 283.6L422.3 277.5L422.4 276.5L422.5 273.8L422.6 273.4L422.7 282.1L422.7 281.8L422.8 272.4L422.9 276.8L423 275.5L423.1 271.5L423.2 279.3L423.3 282.5L423.4 275.9L423.5 279.1L423.6 279.1L423.6 278.1L423.7 279.8L423.8 279.5L423.9 269.2L424 281.1L424.1 268.6L424.2 272L424.3 278.8L424.4 281.1L424.5 278.8L424.5 270.2L424.6 281L424.7 277.7L424.8 280.8L424.9 274.6L425 280.6L425.1 278.3L425.2 283.2L425.3 279.7L425.3 279.6L425.4 271.4L425.5 275.7L425.6 271.8L425.7 278.2L425.8 276.6L425.9 271.9L426 270.2L426.1 275.6L426.2 274.8L426.2 280.6L426.3 271.7L426.4 271.8L426.5 274.2L426.6 277.4L426.7 278.2L426.8 278.5L426.9 279.5L427 285L427.1 281L427.1 276.8L427.2 280.2L427.3 278.8L427.4 276.5L427.5 271.4L427.6 278.3L427.7 272L427.8 278.5L427.9 276L428 275.1L428 279.9L428.1 272.8L428.2 279.6L428.3 277.8L428.4 276L428.5 269.6L428.6 272.8L428.7 277.8L428.8 275.1L428.9 278.7L428.9 277.5L429 277.9L429.1 276L429.2 277.2L429.3 271.4L429.4 277.8L429.5 272.7L429.6 271.9L429.7 272.6L429.8 271.7L429.8 269.1L429.9 277L430 271.7L430.1 273.4L430.2 276.6L430.3 273.8L430.4 273.8L430.5 275.1L430.6 279.1L430.7 277.6L430.7 272.7L430.8 277.7L430.9 275.7L431 279.5L431.1 273.4L431.2 271.9L431.3 274.6L431.4 272.5L431.5 271.1L431.6 277.6L431.6 279.8L431.7 273L431.8 269.6L431.9 274.6L432 278.4L432.1 273.7L432.2 279.9L432.3 279.8L432.4 277.5L432.5 274.2L432.5 271.9L432.6 275.8L432.7 279.1L432.8 276.5L432.9 279.2L433 275.2L433.1 276L433.2 282.7L433.3 276.3L433.4 279.3L433.4 271.7L433.5 272.1L433.6 275.1L433.7 275L433.8 279.6L433.9 279.1L434 281.3L434.1 272.7L434.2 271.7L434.3 272.1L434.3 274.8L434.4 271.3L434.5 275.1L434.6 272.2L434.7 273.3L434.8 276.2L434.9 280L435 273.5L435.1 279.2L435.2 275.1L435.2 277.5L435.3 274.6L435.4 277.4L435.5 278.8L435.6 273.1L435.7 276L435.8 274.3L435.9 275.5L436 269.5L436.1 273.7L436.1 271.6L436.2 274.3L436.3 270.4L436.4 272.5L436.5 274.6L436.6 271.6L436.7 279.9L436.8 281.3L436.9 279L437 273.9L437 273.3L437.1 272.1L437.2 274.8L437.3 277.7L437.4 278.7L437.5 271.5L437.6 274.8L437.7 281.1L437.8 277.9L437.8 276.5L437.9 277L438 271.6L438.1 280.1L438.2 278.3L438.3 281.1L438.4 274.1L438.5 277L438.6 281.8L438.7 271.1L438.7 279.1L438.8 279.4L438.9 270L439 281.1L439.1 271.8L439.2 272.5L439.3 278.9L439.4 278.9L439.5 276.4L439.6 280.6L439.6 273.1L439.7 276L439.8 272.9L439.9 273L440 275L440.1 274L440.2 271L440.3 280.4L440.4 278.6L440.5 276.3L440.5 279.5L440.6 274.4L440.7 272L440.8 275L440.9 281.4L441 275.2L441.1 275L441.2 280.9L441.3 272.9L441.4 278.5L441.4 278.2L441.5 281L441.6 273.4L441.7 273.7L441.8 280.6L441.9 277.1L442 273.9L442.1 279.8L442.2 273.4L442.3 276.8L442.3 271.1L442.4 273.4L442.5 273.9L442.6 280L442.7 276.3L442.8 275.4L442.9 282.2L443 273.1L443.1 273.2L443.2 274L443.2 271.8L443.3 278.6L443.4 273.8L443.5 269.9L443.6 273.7L443.7 278.9L443.8 272.7L443.9 273L444 271.3L444.1 277.5L444.1 278L444.2 279.4L444.3 278.5L444.4 278.4L444.5 277.5L444.6 278.3L444.7 281.1L444.8 274.7L444.9 275.3L445 279.1L445 274.2L445.1 278.3L445.2 276.6L445.3 280L445.4 280.5L445.5 275.4L445.6 271.5L445.7 271.4L445.8 282.2L445.9 280.8L445.9 277.1L446 274.5L446.1 268.6L446.2 277L446.3 275.8L446.4 281L446.5 278.8L446.6 272.2L446.7 278.3L446.8 272.4L446.8 279.1L446.9 279L447 277.7L447.1 277.3L447.2 276.8L447.3 278.4L447.4 275L447.5 279.3L447.6 275.7L447.7 275.6L447.7 273.7L447.8 271.4L447.9 275.8L448 272.7L448.1 272.5L448.2 271.6L448.3 271.6L448.4 280.1L448.5 278.1L448.6 273.7L448.6 280.1L448.7 281.9L448.8 280.3L448.9 272.4L449 277L449.1 278.6L449.2 272.6L449.3 272.1L449.4 278.6L449.5 279.1L449.5 273.9L449.6 271.5L449.7 279L449.8 281.1L449.9 270.4L450 274.5L450.1 279.6L450.2 279.3L450.3 280.7L450.3 279.2L450.4 273.1L450.5 271.4L450.6 276.9L450.7 282.8L450.8 278.2L450.9 272L451 274.5L451.1 272L451.2 273.6L451.2 278.5L451.3 278.8L451.4 273.2L451.5 272.2L451.6 280.1L451.7 278.8L451.8 277.9L451.9 274.2L452 278.9L452.1 280.4L452.1 276.1L452.2 272.4L452.3 280.8L452.4 279.6L452.5 276.1L452.6 277.2L452.7 280.2L452.8 277.1L452.9 273.9L453 270.6L453 271.6L453.1 272L453.2 268.4L453.3 280.3L453.4 272.1L453.5 278.6L453.6 272.7L453.7 273.7L453.8 272.8L453.9 278L453.9 276.8L454 275.1L454.1 272.5L454.2 273.2L454.3 276.3L454.4 279.2L454.5 275.6L454.6 271.3L454.7 278.6L454.8 273.1L454.8 273.1L454.9 271.5L455 273L455.1 274.8L455.2 276.1L455.3 276.7L455.4 274.8L455.5 278.7L455.6 280.7L455.7 272.3L455.7 280.1L455.8 271.8L455.9 273.9L456 280.7L456.1 276.1L456.2 277.4L456.3 274.7L456.4 280.8L456.5 271.3L456.6 276.4L456.6 280.7L456.7 279.9L456.8 278.3L456.9 279.9L457 280.3L457.1 272.6L457.2 280.4L457.3 280.1L457.4 280.2L457.5 274.6L457.5 276.4L457.6 277L457.7 270.1L457.8 277.7L457.9 276.7L458 273.9L458.1 277.6L458.2 278.5L458.3 272.4L458.4 280.7L458.4 274.6L458.5 280.5L458.6 282.9L458.7 278.6L458.8 278.5L458.9 272.5L459 274.9L459.1 271.6L459.2 273.2L459.3 280.7L459.3 278.7L459.4 273.5L459.5 271.2L459.6 279.8L459.7 280.3L459.8 283L459.9 271.7L460 273.2L460.1 271.3L460.2 274.5L460.2 272.9L460.3 274.7L460.4 278.5L460.5 274.6L460.6 279.7L460.7 273.8L460.8 276.8L460.9 279.3L461 271.8L461.1 273.8L461.1 277.1L461.2 268.8L461.3 271.5L461.4 268.2L461.5 271.7L461.6 275.7L461.7 278.3L461.8 272.4L461.9 275.5L462 279L462 275.8L462.1 276.7L462.2 276.2L462.3 271.4L462.4 275.9L462.5 277.3L462.6 273L462.7 272.4L462.8 273.9L462.8 280L462.9 277.5L463 271.7L463.1 275L463.2 279.9L463.3 273.9L463.4 273.9L463.5 278.2L463.6 273.7L463.7 278.5L463.7 271.3L463.8 274.5L463.9 279.2L464 271.8L464.1 272.3L464.2 280.2L464.3 272.2L464.4 268.3L464.5 279.7L464.6 272.1L464.6 284.2L464.7 274.6L464.8 275.1L464.9 270.3L465 274.8L465.1 280.5L465.2 281.1L465.3 269.8L465.4 272.2L465.5 277.4L465.5 271.3L465.6 270.3L465.7 276.7L465.8 281.7L465.9 277.2L466 275.4L466.1 279.7L466.2 268.5L466.3 277L466.4 278.5L466.4 274.7L466.5 273.4L466.6 279.2L466.7 277L466.8 276.7L466.9 269.4L467 278.3L467.1 277.2L467.2 278.7L467.3 275.8L467.3 276.8L467.4 273.7L467.5 277.1L467.6 278.9L467.7 279.3L467.8 269.9L467.9 279.2L468 279L468.1 270.6L468.2 273.2L468.2 280.1L468.3 279.6L468.4 280.4L468.5 277.2L468.6 275.6L468.7 279L468.8 271.5L468.9 279L469 271.8L469.1 278.2L469.1 274.9L469.2 276.2L469.3 278.9L469.4 279.5L469.5 279.8L469.6 276.3L469.7 282.8L469.8 277L469.9 280.3L470 280L470 273.3L470.1 271.6L470.2 278.6L470.3 276.1L470.4 271.5L470.5 277.4L470.6 281.4L470.7 273.6L470.8 278.1L470.9 276.9L470.9 277.5L471 276.7L471.1 278.5L471.2 280.5L471.3 279.7L471.4 271.9L471.5 273.8L471.6 271.8L471.7 277.3L471.8 280.3L471.8 278.4L471.9 277.6L472 271.7L472.1 271.5L472.2 278.1L472.3 278L472.4 276.2L472.5 277.9L472.6 272.3L472.7 273.6L472.7 271.2L472.8 276.3L472.9 270.6L473 276.4L473.1 281.5L473.2 272.3L473.3 273.7L473.4 276.1L473.5 274.2L473.6 281L473.6 275L473.7 280.2L473.8 275.2L473.9 272L474 279.6L474.1 277.4L474.2 277.1L474.3 279.5L474.4 275L474.5 272.3L474.5 270.3L474.6 282.7L474.7 281.9L474.8 275.7L474.9 273.1L475 280.7L475.1 270.5L475.2 275.4L475.3 270.5L475.3 272.3L475.4 278.5L475.5 271.5L475.6 276L475.7 271L475.8 277.3L475.9 272.6L476 273L476.1 277.7L476.2 279.6L476.2 278.6L476.3 276.5L476.4 271.3L476.5 275.1L476.6 271.2L476.7 272L476.8 271.3L476.9 274.6L477 273.9L477.1 272.4L477.1 270.8L477.2 270L477.3 274.4L477.4 274.1L477.5 274.5L477.6 273L477.7 271.9L477.8 280L477.9 274L478 273.4L478 277.3L478.1 276.4L478.2 272.7L478.3 271.1L478.4 266.2L478.5 260.6L478.6 255.6L478.7 249.8L478.8 245.2L478.9 236L478.9 229.8L479 224.7L479.1 217.5L479.2 212.3L479.3 208.3L479.4 205.8L479.5 201.4L479.6 198.6L479.7 196.6L479.8 194.1L479.8 192.1L479.9 190.2L480 188.2L480.1 185L480.2 183L480.3 181.8L480.4 180.9L480.5 184.2L480.6 183.9L480.7 182.9L480.7 183.2L480.8 183.8L480.9 186.1L481 186.1L481.1 187.5L481.2 189.8L481.3 191.7L481.4 191.7L481.5 193.7L481.6 193.2L481.6 196.4L481.7 197.7L481.8 199.1L481.9 201.3L482 203.1L482.1 203.7L482.2 206.3L482.3 206.6L482.4 208.2L482.5 208.7L482.5 213.1L482.6 213.4L482.7 215L482.8 214.8L482.9 217.4L483 217.7L483.1 219.3L483.2 222.6L483.3 224.4L483.4 224.5L483.4 224.9L483.5 227.9L483.6 228.2L483.7 231L483.8 233.5L483.9 232.7L484 235.4L484.1 237L484.2 236.3L484.3 239.7L484.3 242.5L484.4 242.7L484.5 242.9L484.6 243.8L484.7 245.3L484.8 247.6L484.9 247.5L485 249.3L485.1 251.4L485.2 252.6L485.2 254L485.3 254.7L485.4 255.7L485.5 256.8L485.6 257.7L485.7 258.2L485.8 260.2L485.9 260.4L486 260.4L486.1 261.6L486.1 262.1L486.2 262.9L486.3 263.6L486.4 266.7L486.5 265.2L486.6 265.8L486.7 266.8L486.8 267.1L486.9 269.8L487 270.2L487 270.3L487.1 271.3L487.2 272.4L487.3 272.8L487.4 273.3L487.5 272.8L487.6 275.2L487.7 273.6L487.8 276.3L487.9 274.8L487.9 277.4L488 278.5L488.1 276.7L488.2 277.1L488.3 278.3L488.4 278.8L488.5 280.9L488.6 282L488.7 281.7L488.7 282.3L488.8 282.7L488.9 281.9L489 284.2L489.1 283.8L489.2 282L489.3 282.1L489.4 282.8L489.5 284.1L489.6 285.5L489.6 284.5L489.7 288.3L489.8 287.1L489.9 288.6L490 288.1L490.1 288.8L490.2 286.9L490.3 287.7L490.4 287.7L490.5 289.4L490.5 291.4L490.6 291.4L490.7 289.4L490.8 291.9L490.9 291.4L491 286.7L491.1 292.2L491.2 294.2L491.3 286.2L491.4 286.1L491.4 295.4L491.5 286.9L491.6 289.8L491.7 293.7L491.8 288.2L491.9 291.3L492 286.5L492.1 285.8L492.2 294.1L492.3 287L492.3 293.9L492.4 286.5L492.5 289.8L492.6 293.9L492.7 290.2L492.8 290.6L492.9 287.4L493 287.2L493.1 289.8L493.2 286.8L493.2 295.3L493.3 290.4L493.4 291.4L493.5 290.8L493.6 289.5L493.7 290.2L493.8 284.2L493.9 283.5L494 283.6L494.1 284.8L494.1 284.2L494.2 289.9L494.3 289.6L494.4 283.4L494.5 287L494.6 288.8L494.7 288.7L494.8 286.8L494.9 285.5L495 288.6L495 285.4L495.1 287.1L495.2 281.4L495.3 282.4L495.4 286.1L495.5 286.6L495.6 281.3L495.7 281.3L495.8 279.4L495.9 285.9L495.9 282.4L496 280L496.1 282.9L496.2 284.4L496.3 285.2L496.4 284L496.5 282.9L496.6 280.4L496.7 285L496.8 277.7L496.8 284.2L496.9 282.9L497 281.3L497.1 284.4L497.2 281.8L497.3 276.6L497.4 276.4L497.5 274.5L497.6 281.6L497.7 277.1L497.7 276.9L497.8 283.7L497.9 280L498 278.9L498.1 277.9L498.2 281.1L498.3 280.1L498.4 274.2L498.5 282.1L498.6 272.5L498.6 277.4L498.7 273.7L498.8 277.1L498.9 278.6L499 273.5L499.1 273.7L499.2 276.5L499.3 274.3L499.4 281.4L499.5 276.1L499.5 274.3L499.6 279.2L499.7 278.9L499.8 273.3L499.9 273.2L500 272.4L500.1 271L500.2 279.2L500.3 272.8L500.4 271.4L500.4 272.2L500.5 273.3L500.6 279.3L500.7 275.8L500.8 271.4L500.9 272.7L501 278.1L501.1 270.7L501.2 273.3L501.2 272.2L501.3 278.1L501.4 273.4L501.5 271.6L501.6 279.8L501.7 278.7L501.8 270.6L501.9 273.7L502 271.2L502.1 271.2L502.1 273.5L502.2 278.4L502.3 271.3L502.4 275L502.5 271.8L502.6 277.4L502.7 271L502.8 270.8L502.9 270.1L503 273.3L503 270.2L503.1 276L503.2 278L503.3 269.4L503.4 277.6L503.5 275.9L503.6 277.4L503.7 279L503.8 277L503.9 274.2L503.9 276.5L504 269.1L504.1 277.6L504.2 275.3L504.3 276.1L504.4 272.9L504.5 277.4L504.6 272.9L504.7 276.6L504.8 270.1L504.8 274.4L504.9 274.6L505 269.8L505.1 276.7L505.2 272.7L505.3 271.2L505.4 274.5L505.5 268.6L505.6 268.6L505.7 277.7L505.7 266.6L505.8 269.7L505.9 277.5L506 268.1L506.1 275.3L506.2 277.8L506.3 270.1L506.4 277.9L506.5 270.9L506.6 269.3L506.6 275.9L506.7 269.1L506.8 269.6L506.9 275.7L507 274.3L507.1 272.6L507.2 278.3L507.3 276.9L507.4 273.5L507.5 275.5L507.5 274L507.6 277.4L507.7 269.7L507.8 274.9L507.9 276.8L508 281L508.1 273.5L508.2 277.6L508.3 271.4L508.4 272.4L508.4 278.6L508.5 278.3L508.6 274.8L508.7 275.1L508.8 275.2L508.9 272.3L509 275L509.1 271L509.2 273.5L509.3 276.4L509.3 275.4L509.4 280.7L509.5 272.3L509.6 270.8L509.7 273L509.8 270.3L509.9 272L510 273.6L510.1 271.2L510.2 272.8L510.2 279.3L510.3 271.6L510.4 271.8L510.5 271.8L510.6 276.7L510.7 280L510.8 283.5L510.9 277.2L511 277.6L511.1 276.7L511.1 278.5L511.2 278.7L511.3 282L511.4 277.2L511.5 275.6L511.6 271.5L511.7 270.5L511.8 273.7L511.9 274.4L512 274.7L512 270.2L512.1 270.8L512.2 273.3L512.3 276.1L512.4 271.3L512.5 268.8L512.6 274.7L512.7 277.7L512.8 274.8L512.9 277.8L512.9 281.1L513 273.3L513.1 273.7L513.2 273.9L513.3 278.9L513.4 273L513.5 275.5L513.6 277.1L513.7 276.4L513.7 275.2L513.8 274.4L513.9 271.7L514 271.7L514.1 279.8L514.2 275.3L514.3 272.7L514.4 276L514.5 279.3L514.6 270.3L514.6 274.5L514.7 279.9L514.8 270.4L514.9 280.6L515 279L515.1 278.4L515.2 277.8L515.3 273.8L515.4 270.5L515.5 276.1L515.5 270.7L515.6 277.1L515.7 276.6L515.8 274.4L515.9 269.7L516 273L516.1 276L516.2 280.9L516.3 277.2L516.4 271.1L516.4 280.3L516.5 278.1L516.6 277.2L516.7 279.5L516.8 270.4L516.9 275.1L517 271.1L517.1 270.9L517.2 274L517.3 272.6L517.3 278.5L517.4 275.7L517.5 278.8L517.6 278.7L517.7 275L517.8 271.6L517.9 280.9L518 279.5L518.1 271.6L518.2 275.4L518.2 278.6L518.3 271L518.4 274.4L518.5 272.4L518.6 270.8L518.7 278.5L518.8 278.3L518.9 270.6L519 276.7L519.1 274L519.1 274.4L519.2 277.7L519.3 276.9L519.4 278.8L519.5 274.8L519.6 273.6L519.7 279.7L519.8 271.7L519.9 280.1L520 274.7L520 279.2L520.1 279.5L520.2 279L520.3 271.2L520.4 276.7L520.5 267.8L520.6 278.6L520.7 274.5L520.8 270.5L520.9 277.1L520.9 267.2L521 266.5L521.1 279.1L521.2 274.6L521.3 277.8L521.4 275.2L521.5 269.2L521.6 272.1L521.7 277.4L521.8 274.2L521.8 270.5L521.9 277.6L522 278L522.1 274.4L522.2 276L522.3 277.1L522.4 270.3L522.5 270.5L522.6 277.5L522.7 278.7L522.7 275.5L522.8 270.8L522.9 271.2L523 270.5L523.1 273.2L523.2 273.5L523.3 274.4L523.4 279.9L523.5 270.5L523.6 273.1L523.6 276.5L523.7 273.9L523.8 275.8L523.9 270.9L524 275.2L524.1 274.4L524.2 278.3L524.3 272.8L524.4 275.4L524.5 278.5L524.5 274.9L524.6 277.9L524.7 279.7L524.8 277.2L524.9 274.9L525 272.6L525.1 268.9L525.2 274.9L525.3 267.3L525.4 271.7L525.4 279.5L525.5 276.6L525.6 279L525.7 271.4L525.8 279.6L525.9 277.6L526 274.2L526.1 278.8L526.2 268.9L526.2 281.1L526.3 278.9L526.4 278.8L526.5 276L526.6 275.2L526.7 274L526.8 279L526.9 278.3L527 276.9L527.1 279.3L527.1 282.8L527.2 276.6L527.3 279.3L527.4 272.7L527.5 270.4L527.6 278.5L527.7 272.6L527.8 279.6L527.9 279.6L528 279.4L528 280.5L528.1 281.4L528.2 274.6L528.3 272.3L528.4 271.1L528.5 270.9L528.6 276.8L528.7 269.3L528.8 274.2L528.9 273.4L528.9 273.1L529 277.5L529.1 270.7L529.2 278.2L529.3 279L529.4 275.1L529.5 274.4L529.6 274.4L529.7 274.1L529.8 270.3L529.8 274.6L529.9 269.3L530 268.6L530.1 273.2L530.2 274.1L530.3 271.1L530.4 277.5L530.5 271L530.6 279.8L530.7 273.4L530.7 270.1L530.8 275.7L530.9 268.3L531 279L531.1 278.5L531.2 278.3L531.3 271.2L531.4 270.2L531.5 272.4L531.6 276.5L531.6 270.6L531.7 277.4L531.8 274.9L531.9 270L532 280.8L532.1 272.5L532.2 278.5L532.3 272.1L532.4 276.4L532.5 278.1L532.5 273.9L532.6 273.7L532.7 275.9L532.8 277.4L532.9 270.5L533 278.1L533.1 273L533.2 276L533.3 266.6L533.4 270.1L533.4 272.2L533.5 274.4L533.6 275L533.7 278.4L533.8 274.1L533.9 271.3L534 269.8L534.1 276L534.2 278.2L534.3 275.1L534.3 280.4L534.4 274.1L534.5 272.7L534.6 279.6L534.7 270.5L534.8 278.9L534.9 273.8L535 269.1L535.1 270L535.2 270L535.2 272.4L535.3 275.2L535.4 272.2L535.5 272.6L535.6 276L535.7 270.7L535.8 278.3L535.9 280.9L536 277.7L536.1 273.1L536.1 269.8L536.2 275.6L536.3 278.3L536.4 271.7L536.5 269.8L536.6 278.9L536.7 272.9L536.8 274.4L536.9 273.4L537 276L537 277.4L537.1 271.2L537.2 282.1L537.3 272.8L537.4 275.3L537.5 270.3L537.6 270.2L537.7 272.4L537.8 272.3L537.9 274.8L537.9 273L538 275.4L538.1 276.7L538.2 271.1L538.3 273.7L538.4 271.8L538.5 273.7L538.6 274.5L538.7 272.1L538.7 277.8L538.8 269.9L538.9 273.4L539 277L539.1 270L539.2 271.3L539.3 277.2L539.4 276L539.5 274.2L539.6 277.2L539.6 272.8L539.7 271.5L539.8 274.9L539.9 279.1L540 276.3L540.1 272.4L540.2 273.5L540.3 274.4L540.4 271.9L540.5 270L540.5 274.7L540.6 276.9L540.7 272.1L540.8 277.8L540.9 278L541 270.1L541.1 277.1L541.2 268.5L541.3 276.9L541.4 274.9L541.4 279.4L541.5 277.6L541.6 277L541.7 273.4L541.8 277.6L541.9 270L542 274.9L542.1 277.1L542.2 271.6L542.3 277.3L542.3 270.6L542.4 274.3L542.5 272.4L542.6 270.3L542.7 275.3L542.8 273.3L542.9 279.3L543 272.8L543.1 279.3L543.2 277.6L543.2 269.4L543.3 273.7L543.4 277.2L543.5 279.4L543.6 279.3L543.7 273.1L543.8 278.1L543.9 278.3L544 280.7L544.1 275.5L544.1 274.1L544.2 272.2L544.3 272L544.4 279.2L544.5 280.7L544.6 278.3L544.7 280L544.8 280.5L544.9 274L545 278.4L545 274.6L545.1 280.1L545.2 281.8L545.3 278.9L545.4 276.1L545.5 278.8L545.6 273.4L545.7 280.9L545.8 276.1L545.9 279.1L545.9 276.2L546 278.2L546.1 274L546.2 275.9L546.3 279.3L546.4 277.2L546.5 282.4L546.6 277.6L546.7 281.6L546.8 273.4L546.8 275.9L546.9 282.1L547 283.3L547.1 279.1L547.2 278.2L547.3 281.2L547.4 276.1L547.5 283.4L547.6 278.9L547.7 280.6L547.7 275.5L547.8 277.6L547.9 276L548 277L548.1 283.1L548.2 283.7L548.3 281.6L548.4 284L548.5 276.9L548.6 276.9L548.6 274.4L548.7 285L548.8 275.5L548.9 277L549 284L549.1 282.6L549.2 279.2L549.3 280.8L549.4 283.5L549.5 278.4L549.5 278.4L549.6 283.8L549.7 281L549.8 276.8L549.9 283.7L550 284.7L550.1 278L550.2 276.1L550.3 280.8L550.4 285.6L550.4 285.7L550.5 282.4L550.6 276.1L550.7 282L550.8 277.4L550.9 276.9L551 286.3L551.1 278.2L551.2 279.5L551.2 280.2L551.3 283.3L551.4 278.3L551.5 278.7L551.6 282.3L551.7 283L551.8 284.4L551.9 288L552 281.5L552.1 276.6L552.1 280.7L552.2 280.2L552.3 283.2L552.4 279.5L552.5 288.1L552.6 286.7L552.7 284.4L552.8 283.3L552.9 278.3L553 281.3L553 279L553.1 278L553.2 281.8L553.3 282.9L553.4 285.3L553.5 281.3L553.6 277.3L553.7 277L553.8 279.4L553.9 280.8L553.9 277.1L554 283L554.1 283L554.2 276.5L554.3 278.3L554.4 273L554.5 279.1L554.6 285.8L554.7 280.1L554.8 282.3L554.8 283.2L554.9 277L555 277.6L555.1 277.7L555.2 277.7L555.3 283.9L555.4 281.6L555.5 276.4L555.6 285.8L555.7 280.7L555.7 285.5L555.8 285.5L555.9 282.7L556 279.7L556.1 281.8L556.2 283.9L556.3 284.7L556.4 277.7L556.5 285.4L556.6 280.5L556.6 280.8L556.7 285.5L556.8 282.5L556.9 277.5L557 277.4L557.1 289.4L557.2 274.5L557.3 281.9L557.4 280.1L557.5 288.8L557.5 280.7L557.6 279.4L557.7 283.3L557.8 281.8L557.9 277.2L558 284.3L558.1 282.3L558.2 280.3L558.3 276.7L558.4 279.4L558.4 283.3L558.5 276.9L558.6 283.4L558.7 284.1L558.8 283.5L558.9 282.7L559 278.1L559.1 283.8L559.2 277L559.3 278.2L559.3 274.6L559.4 276.4L559.5 281.7L559.6 280L559.7 282.1L559.8 280.8L559.9 279.9L560 285.6L560.1 276.7L560.2 280.9L560.2 279.5L560.3 281.3L560.4 285.8L560.5 276.5L560.6 273.6L560.7 280.8L560.8 277.5L560.9 276.5L561 285.6L561.1 276.5L561.1 282.4L561.2 280.3L561.3 276.3L561.4 284.8L561.5 286L561.6 281.6L561.7 280.2L561.8 276.3L561.9 274.8L562 279.4L562 280.4L562.1 278.2L562.2 282.8L562.3 276.2L562.4 278.3L562.5 285.1L562.6 282.9L562.7 286.1L562.8 282.4L562.9 280.7L562.9 285.1L563 284.2L563.1 284.4L563.2 276.6L563.3 285.6L563.4 285.7L563.5 282.1L563.6 286L563.7 278.6L563.7 286.8L563.8 285.1L563.9 285.6L564 275.1L564.1 282.6L564.2 280.1L564.3 281.3L564.4 277.4L564.5 285.8L564.6 280.8L564.6 278.6L564.7 278.3L564.8 278.7L564.9 282.5L565 277.3L565.1 276.9L565.2 277.4L565.3 277.3L565.4 280.5L565.5 286L565.5 276.4L565.6 284L565.7 280L565.8 285.9L565.9 285.7L566 277.6L566.1 276.4L566.2 283.3L566.3 281.4L566.4 285.7L566.4 286L566.5 285.2L566.6 277.3L566.7 284.4L566.8 285.4L566.9 281.1L567 284.2L567.1 276.9L567.2 278.2L567.3 278.8L567.3 283.2L567.4 275.9L567.5 280.1L567.6 285.6L567.7 274.9L567.8 276.4L567.9 283.1L568 277.5L568.1 284.1L568.2 285.7L568.2 284.1L568.3 280.6L568.4 284.4L568.5 283.6L568.6 285.4L568.7 282L568.8 285.3L568.9 284.1L569 277.8L569.1 278.3L569.1 277.6L569.2 283.8L569.3 280.7L569.4 276.7L569.5 278.3L569.6 284.8L569.7 278.4L569.8 283.5L569.9 278.8L570 287.4L570 282.2L570.1 282.1L570.2 280.7L570.3 283L570.4 284.5L570.5 277.5L570.6 282L570.7 285.2L570.8 278.8L570.9 278.6L570.9 285.5L571 284.9L571.1 287.9L571.2 280.8L571.3 280.5L571.4 276.4L571.5 284.9L571.6 284.6L571.7 277L571.8 284.3L571.8 280.1L571.9 285.3L572 278.2L572.1 285.1L572.2 288L572.3 284.3L572.4 277.4L572.5 281.1L572.6 280.1L572.7 284.1L572.7 274.6L572.8 277L572.9 283L573 278.7L573.1 276.7L573.2 280.6L573.3 284.5L573.4 279.8L573.5 285.8L573.6 285L573.6 280.9L573.7 282.1L573.8 283.4L573.9 281L574 281.3L574.1 281.9L574.2 275.5L574.3 284.8L574.4 277.2L574.5 278.2L574.5 284.4L574.6 280.3L574.7 276.2L574.8 280.6L574.9 285L575 282.5L575.1 280.7L575.2 279.3L575.3 281.4L575.4 277.8L575.4 278.9L575.5 278.5L575.6 278.6L575.7 281.5L575.8 277.5L575.9 284.5L576 277.3L576.1 284.4L576.2 287.2L576.3 278.7L576.3 276.6L576.4 277.3L576.5 278.5L576.6 278.6L576.7 281.3L576.8 285.1L576.9 278.7L577 277.7L577.1 287.8L577.1 284.8L577.2 283L577.3 282.1L577.4 276.3L577.5 275.4L577.6 278.1L577.7 276.5L577.8 277.3L577.9 284.3L578 283.7L578 278.3L578.1 277L578.2 283L578.3 276.3L578.4 284.3L578.5 288.3L578.6 276.9L578.7 282.8L578.8 285.2L578.9 277.1L578.9 283.3L579 277.9L579.1 276.7L579.2 282.3L579.3 282.6L579.4 279.3L579.5 283.8L579.6 273.7L579.7 276.4L579.8 285.8L579.8 276.1L579.9 284.5L580 281.8L580.1 287.5L580.2 278L580.3 280.2L580.4 279.1L580.5 279.1L580.6 282.4L580.7 277.6L580.7 285.7L580.8 281.1L580.9 281.4L581 281.3L581.1 280.6L581.2 277.9L581.3 283.3L581.4 280.7L581.5 282.8L581.6 276.3L581.6 277.5L581.7 286L581.8 288L581.9 283.1L582 279.1L582.1 276.3L582.2 277L582.3 286L582.4 284.1L582.5 276.4L582.5 281.5L582.6 280.2L582.7 281.4L582.8 280.7L582.9 286.8L583 277.9L583.1 282L583.2 280.7L583.3 282.9L583.4 284.1L583.4 283.6L583.5 281.7L583.6 284.6L583.7 279.1L583.8 283.5L583.9 276.9L584 277.5L584.1 276.8L584.2 280.1L584.3 280.4L584.3 284.6L584.4 285.8L584.5 278.3L584.6 279.9L584.7 287.1L584.8 278.2L584.9 277.3L585 284.3L585.1 285.1L585.2 281.8L585.2 283.8L585.3 276.8L585.4 277.6L585.5 284.8L585.6 282.7L585.7 278.9L585.8 282.4L585.9 276.8L586 276.9L586.1 286L586.1 276.7L586.2 284.9L586.3 284.3L586.4 278.1L586.5 277.6L586.6 284.6L586.7 274.9L586.8 281.4L586.9 280L587 284.5L587 274.9L587.1 276.4L587.2 282.8L587.3 281.1L587.4 285.6L587.5 274.3L587.6 288.6L587.7 278L587.8 284.5L587.9 281.9L587.9 276.9L588 288.1L588.1 284L588.2 281.7L588.3 279.7L588.4 285.8L588.5 282L588.6 283.6L588.7 283.7L588.8 283.6L588.8 279.7L588.9 279.1L589 284.2L589.1 283.9L589.2 278.3L589.3 276.6L589.4 281L589.5 276.7L589.6 279.9L589.6 283.3L589.7 276.6L589.8 284.2L589.9 277.5L590 277.2L590.1 282.5L590.2 286L590.3 277.3L590.4 281.1L590.5 283.2L590.5 280.2L590.6 276.3L590.7 278.6L590.8 280L590.9 278L591 280.1L591.1 282L591.2 277.3L591.3 281.2L591.4 277L591.4 283.2L591.5 278.9L591.6 277L591.7 282.3L591.8 278L591.9 276.5L592 280L592.1 282.4L592.2 282.5L592.3 285.5L592.3 282.4L592.4 282.8L592.5 282.8L592.6 282.1L592.7 283.6L592.8 278.3L592.9 281.1L593 278.6L593.1 285L593.2 277.3L593.2 283.8L593.3 283.2L593.4 279.3L593.5 278.1L593.6 279.5L593.7 280.6L593.8 283.6L593.9 284.8L594 286.1L594.1 284L594.1 280.7L594.2 275L594.3 279.5L594.4 283.6L594.5 280.8L594.6 277.1L594.7 277L594.8 284.1L594.9 278L595 283.1L595 277L595.1 278.7L595.2 284.3L595.3 285.1L595.4 283.1L595.5 276.3L595.6 276.4L595.7 280.5L595.8 284.6L595.9 281.2L595.9 274.4L596 280.4L596.1 285.3L596.2 280.8L596.3 276.3L596.4 285.2L596.5 283.5L596.6 278L596.7 278.9L596.8 274.1L596.8 284.7L596.9 281L597 280.6L597.1 280.3L597.2 284.6L597.3 279.5L597.4 275.3L597.5 282.9L597.6 276.7L597.7 280.9L597.7 278.4L597.8 278.9L597.9 277.9L598 277.4L598.1 281L598.2 286.8L598.3 283.3L598.4 285.6L598.5 288L598.6 276.1L598.6 275.8L598.7 283.3L598.8 283.2L598.9 284.1L599 275.2L599.1 276.8L599.2 282.3L599.3 274.6L599.4 284.9L599.5 279.1L599.5 283.5L599.6 277L599.7 285.1L599.8 282.3L599.9 278.7L600 285.5L600.1 279.5L600.2 279.1L600.3 277.5L600.4 276.4L600.4 284.6L600.5 284.2L600.6 286.2L600.7 280.8L600.8 277.9L600.9 277.4L601 276.7L601.1 283.4L601.2 281.1L601.3 276.2L601.3 280.7L601.4 278.6L601.5 278L601.6 284L601.7 279.6L601.8 282.8L601.9 281L602 276.4L602.1 282.8L602.1 277.3L602.2 279.5L602.3 286L602.4 284.6L602.5 281.1L602.6 279.3L602.7 277.4L602.8 282.2L602.9 281.7L603 276.8L603 285L603.1 280.4L603.2 278.4L603.3 283.1L603.4 277.4L603.5 279.5L603.6 283.7L603.7 279.1L603.8 279.9L603.9 285.4L603.9 283.5L604 285L604.1 284.4L604.2 278.4L604.3 281.9L604.4 284.4L604.5 279.8L604.6 285L604.7 283.8L604.8 278.7L604.8 284.9L604.9 285.2L605 284.2L605.1 281.5L605.2 282.2L605.3 278.9L605.4 279.2L605.5 282.2L605.6 276.5L605.7 282.3L605.7 283.4L605.8 285.3L605.9 280.9L606 279.9L606.1 274.8L606.2 279.3L606.3 278.6L606.4 276.8L606.5 280.3L606.6 276.3L606.6 278.3L606.7 284.5L606.8 281.9L606.9 279.1L607 286.6L607.1 273.5L607.2 278.1L607.3 278.7L607.4 283.6L607.5 279.8L607.5 277.6L607.6 279.3L607.7 283.6L607.8 273.4L607.9 280.9L608 275.7L608.1 278.6L608.2 277.3L608.3 283.2L608.4 285.6L608.4 277.6L608.5 278.4L608.6 286.9L608.7 283L608.8 281.1L608.9 275.4L609 284.2L609.1 273.6L609.2 282.3L609.3 277.6L609.3 283.3L609.4 277.2L609.5 280L609.6 277.4L609.7 276.3L609.8 279.4L609.9 278.3L610 282.7L610.1 283.9L610.2 279.4L610.2 284.3L610.3 287.8L610.4 279.9L610.5 285L610.6 284.8L610.7 279.4L610.8 282L610.9 284.7L611 280.2L611.1 278.5L611.1 283.2L611.2 284.7L611.3 284.1L611.4 278.3L611.5 284.4L611.6 276.3L611.7 273.4L611.8 283.5L611.9 283.3L612 276.3L612 277.4L612.1 274.3L612.2 279L612.3 280.8L612.4 284.1L612.5 284.5L612.6 279.2L612.7 278.5L612.8 277.6L612.9 282.7L612.9 278.8L613 278.9L613.1 282L613.2 289.1L613.3 276.2L613.4 279.6L613.5 279.8L613.6 285.3L613.7 279.9L613.8 280.6L613.8 282L613.9 279.3L614 277L614.1 276.7L614.2 284.9L614.3 284.9L614.4 284.6L614.5 278.9L614.6 288.1L614.6 286.7L614.7 283.4L614.8 280.8L614.9 276.8L615 279.6L615.1 280.6L615.2 280.7L615.3 279.8L615.4 278.4L615.5 285.6L615.5 277.9L615.6 278.2L615.7 282.5L615.8 282.3L615.9 285L616 283.8L616.1 280L616.2 277.5L616.3 281.7L616.4 280.6L616.4 279.4L616.5 281.4L616.6 275.9L616.7 284.5L616.8 288.5L616.9 276.4L617 279.5L617.1 285.8L617.2 280.8L617.3 277.5L617.3 277.4L617.4 276.6L617.5 281.5L617.6 285L617.7 274.5L617.8 276.4L617.9 284.9L618 283.3L618.1 283.5L618.2 282.7L618.2 277.5L618.3 282.7L618.4 285.6L618.5 278.5L618.6 279.7L618.7 277.9L618.8 279.5L618.9 276.4L619 281.1L619.1 277.4L619.1 276.6L619.2 284.1L619.3 286.2L619.4 274.6L619.5 276.2L619.6 278L619.7 279.1L619.8 277.8L619.9 277.2L620 279.7L620 281.2L620.1 280.4L620.2 282.9L620.3 283.6L620.4 274.4L620.5 285.5L620.6 277.3L620.7 283.2L620.8 280.2L620.9 284.1L620.9 276.9L621 278.5L621.1 284.1L621.2 281.3L621.3 281L621.4 280.1L621.5 285.6L621.6 278.2L621.7 275.6L621.8 279.9L621.8 282.5L621.9 279.8L622 280.2L622.1 283.2L622.2 281.9L622.3 276.6L622.4 282.9L622.5 281.1L622.6 282.5L622.7 279.3L622.7 282L622.8 276.9L622.9 284.5L623 283L623.1 276.4L623.2 279.5L623.3 278.7L623.4 281.5L623.5 285.3L623.6 285.5L623.6 278.3L623.7 276.3L623.8 281.2L623.9 278.9L624 283.6L624.1 278.5L624.2 286.6L624.3 282.2L624.4 278.3L624.5 281L624.5 280.8L624.6 285.6L624.7 284.3L624.8 283.4L624.9 284.4L625 286.9L625.1 276.8L625.2 277.9L625.3 278.1L625.4 281.9L625.4 279.6L625.5 282.6L625.6 283.8L625.7 276.9L625.8 278.2L625.9 276.9L626 279.7L626.1 279L626.2 273.4L626.3 280.3L626.3 283.3L626.4 283.9L626.5 274.6L626.6 283.9L626.7 285.3L626.8 280.3L626.9 285L627 281.9L627.1 282.8L627.1 286.4L627.2 278.4L627.3 282.6L627.4 276.9L627.5 277.9L627.6 277.6L627.7 283.3L627.8 282.6L627.9 283.3L628 281.9L628 283.1L628.1 282L628.2 279.8L628.3 278.6L628.4 278.4L628.5 277.7L628.6 282.1L628.7 275L628.8 281.9L628.9 283.8L628.9 282.1L629 283.2L629.1 286.9L629.2 284.8L629.3 277.2L629.4 284.2L629.5 277L629.6 276.9L629.7 272.1L629.8 282.4L629.8 285.6L629.9 278.2L630 274L630.1 276.9L630.2 280.7L630.3 277.5L630.4 282.7L630.5 285.8L630.6 284.5L630.7 277.3L630.7 276.2L630.8 284.4L630.9 282.5L631 281.2L631.1 275.6L631.2 277.8L631.3 283.6L631.4 283.4L631.5 276.9L631.6 278.5L631.6 277.4L631.7 283.5L631.8 277L631.9 284.1L632 285.6L632.1 275.2L632.2 284.8L632.3 285.8L632.4 277.8L632.5 281.2L632.5 276.7L632.6 281.2L632.7 279.6L632.8 281.4L632.9 278.4L633 283.4L633.1 285L633.2 281.1L633.3 284.1L633.4 279.6L633.4 285.4L633.5 283.2L633.6 284.8L633.7 285.8L633.8 283.3L633.9 284.7L634 283.9L634.1 280.3L634.2 280.6L634.3 283.1L634.3 289.7L634.4 276.7L634.5 276.2L634.6 282.5L634.7 279.9L634.8 284.5L634.9 279.5L635 283.9L635.1 280.7L635.2 276.6L635.2 278.4L635.3 283.1L635.4 277.3L635.5 283.6L635.6 279.1L635.7 285.2L635.8 277.3L635.9 284.5L636 284.2L636.1 279.5L636.1 285.5L636.2 278.5L636.3 282.7L636.4 273.8L636.5 283.1L636.6 277.8L636.7 280.7L636.8 277.9L636.9 283.1L637 285.6L637 273.6L637.1 284L637.2 277.5L637.3 282.5L637.4 284.7L637.5 283.2L637.6 278.1L637.7 284.3L637.8 279.1L637.9 281.1L637.9 280.5L638 277.5L638.1 286.2L638.2 279.2L638.3 280L638.4 285.8L638.5 285.7L638.6 277L638.7 280L638.8 276L638.8 276.8L638.9 281.9L639 279.6L639.1 276.4L639.2 283.9L639.3 276.2L639.4 282.5L639.5 281.1L639.6 280.5L639.6 287.9L639.7 283.4L639.8 283.5L639.9 283L640 285.6L640.1 278.5L640.2 277.2L640.3 286.6L640.4 285.7L640.5 277.5L640.5 282.7L640.6 284.7L640.7 274.9L640.8 279.8L640.9 276.7L641 284.8L641.1 282.3L641.2 279.6L641.3 281.7L641.4 277.7L641.4 276.6L641.5 278.2L641.6 282.2L641.7 281.9L641.8 276.3L641.9 284.5L642 279.8L642.1 278.5L642.2 285.1L642.3 278.3L642.3 279.6L642.4 278.7L642.5 284.4L642.6 278.8L642.7 286.5L642.8 281.6L642.9 277.1L643 278.9L643.1 282L643.2 276.8L643.2 284.7L643.3 287.7L643.4 277.8L643.5 282.2L643.6 278.3L643.7 287.3L643.8 285.1L643.9 281.1L644 281.8L644.1 275.1L644.1 280.4L644.2 276.2L644.3 285.8L644.4 282.1L644.5 279.4L644.6 289.1L644.7 277L644.8 278.8L644.9 281.6L645 277.5L645 283.9L645.1 281.1L645.2 284.1L645.3 285.4L645.4 283.9L645.5 278.2L645.6 282.6L645.7 279L645.8 275.1L645.9 284.3L645.9 278.7L646 281.5L646.1 279.5L646.2 276.8L646.3 278.1L646.4 277.7L646.5 284.2L646.6 276.2L646.7 276.2L646.8 276.5L646.8 277.9L646.9 277.6L647 280.2L647.1 276.6L647.2 278.5L647.3 284.9L647.4 282.2L647.5 284.7L647.6 276.7L647.7 285.8L647.7 280.9L647.8 278.8L647.9 281.7L648 276.8L648.1 282.4L648.2 285.9L648.3 283.5L648.4 274.1L648.5 279.7L648.6 278.3L648.6 279.9L648.7 281.6L648.8 285.7L648.9 278.3L649 276.4L649.1 287.9L649.2 277.6L649.3 279.6L649.4 287.5L649.5 280.4L649.5 279.2L649.6 277.7L649.7 280.5L649.8 285.8L649.9 277.4L650 276.5L650.1 277.2L650.2 276.7L650.3 286.1L650.4 277.6L650.4 282.2L650.5 288.2L650.6 277.2L650.7 284.1L650.8 273.2L650.9 282.6L651 283.8L651.1 273.3L651.2 285.6L651.3 281.3L651.3 279.5L651.4 274.4L651.5 280.3L651.6 281.3L651.7 283.3L651.8 282.9L651.9 283.1L652 281L652.1 285.1L652.1 277.7L652.2 276.9L652.3 284.2L652.4 279.3L652.5 276.2L652.6 273.8L652.7 281L652.8 285.1L652.9 282.6L653 283.3L653 286L653.1 284.7L653.2 280.8L653.3 278.7L653.4 285.4L653.5 283.2L653.6 285L653.7 278.8L653.8 279L653.9 283.8L653.9 278.7L654 283.2L654.1 277.1L654.2 277.2L654.3 274.9L654.4 278.6L654.5 275.9L654.6 278.7L654.7 279.1L654.8 285.2L654.8 280.8L654.9 278.5L655 277.5L655.1 284.5L655.2 276.3L655.3 282.9L655.4 284L655.5 285.6L655.6 282.7L655.7 277.5L655.7 280.7L655.8 285.5L655.9 285.9L656 284.9L656.1 274.4L656.2 277.3L656.3 283.5L656.4 274.7L656.5 280.1L656.6 285L656.6 278.9L656.7 279.3L656.8 277.3L656.9 278.5L657 277.9L657.1 282.3L657.2 278.9L657.3 285.6L657.4 278.7L657.5 287.1L657.5 280.1L657.6 280.4L657.7 288.6L657.8 283.9L657.9 283.5L658 278.1L658.1 285.1L658.2 280.7L658.3 284.7L658.4 279.3L658.4 283.2L658.5 277.3L658.6 277.5L658.7 285L658.8 283.5L658.9 284.7L659 277L659.1 279.1L659.2 285.5L659.3 279.9L659.3 278.4L659.4 285.5L659.5 283.6L659.6 287.9L659.7 284.3L659.8 284.7L659.9 279.6L660 284.4L660.1 278.9L660.2 281.3L660.2 284.4L660.3 284.4L660.4 276.9L660.5 276L660.6 276L660.7 280L660.8 284.4L660.9 284.1L661 278L661.1 280.1L661.1 276.7L661.2 277L661.3 279L661.4 277.4L661.5 280.7L661.6 276.6L661.7 281.2L661.8 279.8L661.9 276L662 273.6L662 280L662.1 284.2L662.2 284.3L662.3 276.9L662.4 285.7L662.5 277.9L662.6 278.8L662.7 282.3L662.8 283.5L662.9 277.6L662.9 273.6L663 280.7L663.1 279.5L663.2 281.6L663.3 283.4L663.4 279.5L663.5 277.2L663.6 280.4L663.7 277.1L663.8 273.4L663.8 284.4L663.9 284.1L664 278.8L664.1 280.2L664.2 289L664.3 282.1L664.4 282.2L664.5 276.2L664.6 284.6L664.7 277L664.7 275.7L664.8 285.7L664.9 280.3L665 280L665.1 274L665.2 283.1L665.3 280.4L665.4 281.2L665.5 276.8L665.5 276.3L665.6 283.9L665.7 276.1L665.8 280.1L665.9 284.3L666 280.9L666.1 284.2L666.2 283.1L666.3 281.3L666.4 286.2L666.4 283L666.5 282.2L666.6 285.4L666.7 276.8L666.8 272.8L666.9 279L667 278.1L667.1 284L667.2 280.8L667.3 285.4L667.3 283.4L667.4 284.9L667.5 277.8L667.6 273.7L667.7 287.1L667.8 284.8L667.9 284.5L668 275.8L668.1 285.3L668.2 281.6L668.2 277L668.3 285.6L668.4 279.9L668.5 280.6L668.6 284L668.7 279.6L668.8 277.2L668.9 284.2L669 284.2L669.1 280L669.1 278.5L669.2 277.7L669.3 276.1L669.4 277.3L669.5 280.6L669.6 280.8L669.7 280.2L669.8 285.1L669.9 277.6L670 284.5L670 274.4L670.1 284.3L670.2 283L670.3 280.8L670.4 276.6L670.5 276.3L670.6 277.6L670.7 280.3L670.8 279L670.9 284L670.9 279.2L671 277L671.1 279.5L671.2 280.8L671.3 286.1L671.4 281.4L671.5 281.7L671.6 280.1L671.7 276.4L671.8 281.8L671.8 280.4L671.9 278.3L672 283.6L672.1 276.1L672.2 280.2L672.3 277.9L672.4 278.6L672.5 288.1L672.6 282.8L672.7 285.5L672.7 278.7L672.8 279.1L672.9 276.5L673 277.4L673.1 276.8L673.2 282.4L673.3 277.3L673.4 278.8L673.5 276.5L673.6 285.1L673.6 284.3L673.7 279.1L673.8 284.1L673.9 279.1L674 284.4L674.1 277.2L674.2 280.4L674.3 285.4L674.4 282.7L674.5 280.8L674.5 278.6L674.6 284.8L674.7 278.7L674.8 279.1L674.9 276.9L675 282.5L675.1 284.5L675.2 283.5L675.3 277.6L675.4 280.8L675.4 280L675.5 282.5L675.6 276.8L675.7 285.1L675.8 275.8L675.9 274L676 283.5L676.1 278.8L676.2 283.3L676.3 282.9L676.3 279.9L676.4 280.2L676.5 273.8L676.6 279.1L676.7 286.8L676.8 284L676.9 285.5L677 274.7L677.1 279.3L677.2 276.2L677.2 280.3L677.3 278L677.4 278.8L677.5 283.5L677.6 281.5L677.7 278.3L677.8 281.5L677.9 280.3L678 285.5L678 284.8L678.1 281.6L678.2 278.2L678.3 278.1L678.4 277.3L678.5 277.8L678.6 281L678.7 279L678.8 282.8L678.9 281.3L678.9 282.1L679 277.1L679.1 283.2L679.2 284.9L679.3 285.4L679.4 282.9L679.5 287.7L679.6 277.3L679.7 286.2L679.8 286.1L679.8 276L679.9 277.1L680 278.1L680.1 277.5L680.2 278.6L680.3 286.6L680.4 276.1L680.5 281.5L680.6 279L680.7 280.6L680.7 281.5L680.8 283.5L680.9 276" stroke="#0072BD"/>
</g>
<text transform="translate(355.0 181.6) scale(0.92 1)" text-anchor="end" font-size="9.0" fill="#1c1c1c" stroke="#1c1c1c" stroke-width="0.12">50</text>
<text transform="translate(355.0 203.1) scale(0.92 1)" text-anchor="end" font-size="9.0" fill="#1c1c1c" stroke="#1c1c1c" stroke-width="0.12">40</text>
<text transform="translate(355.0 224.6) scale(0.92 1)" text-anchor="end" font-size="9.0" fill="#1c1c1c" stroke="#1c1c1c" stroke-width="0.12">30</text>
<text transform="translate(355.0 246.0) scale(0.92 1)" text-anchor="end" font-size="9.0" fill="#1c1c1c" stroke="#1c1c1c" stroke-width="0.12">20</text>
<text transform="translate(355.0 267.5) scale(0.92 1)" text-anchor="end" font-size="9.0" fill="#1c1c1c" stroke="#1c1c1c" stroke-width="0.12">10</text>
<text transform="translate(355.0 289.0) scale(0.92 1)" text-anchor="end" font-size="9.0" fill="#1c1c1c" stroke="#1c1c1c" stroke-width="0.12">0</text>
<text transform="translate(355.0 310.5) scale(0.92 1)" text-anchor="end" font-size="9.0" fill="#1c1c1c" stroke="#1c1c1c" stroke-width="0.12">-10</text>
<text transform="translate(409.2 320.0) scale(0.92 1)" text-anchor="middle" font-size="9.0" fill="#1c1c1c" stroke="#1c1c1c" stroke-width="0.12">0.45</text>
<text transform="translate(474.0 320.0) scale(0.92 1)" text-anchor="middle" font-size="9.0" fill="#1c1c1c" stroke="#1c1c1c" stroke-width="0.12">0.5</text>
<text transform="translate(538.6 320.0) scale(0.92 1)" text-anchor="middle" font-size="9.0" fill="#1c1c1c" stroke="#1c1c1c" stroke-width="0.12">0.55</text>
<text transform="translate(601.8 320.0) scale(0.92 1)" text-anchor="middle" font-size="9.0" fill="#1c1c1c" stroke="#1c1c1c" stroke-width="0.12">0.6</text>
<text transform="translate(664.7 320.0) scale(0.92 1)" text-anchor="middle" font-size="9.0" fill="#1c1c1c" stroke="#1c1c1c" stroke-width="0.12">0.65</text>
<rect x="578" y="255.5" width="71" height="10.5" fill="#ffffff"/>
<text transform="translate(580.0 264.2) scale(0.91 1)" text-anchor="start" font-size="9.0" fill="#1c1c1c" stroke="#1c1c1c" stroke-width="0.12">Motor torque [N.m]</text>
<text transform="translate(507.8 324.8) scale(0.92 1)" text-anchor="middle" font-size="9.0" fill="#1c1c1c" stroke="#1c1c1c" stroke-width="0.12">Time (s)</text>
</g>
</svg>
</body>
</html>
